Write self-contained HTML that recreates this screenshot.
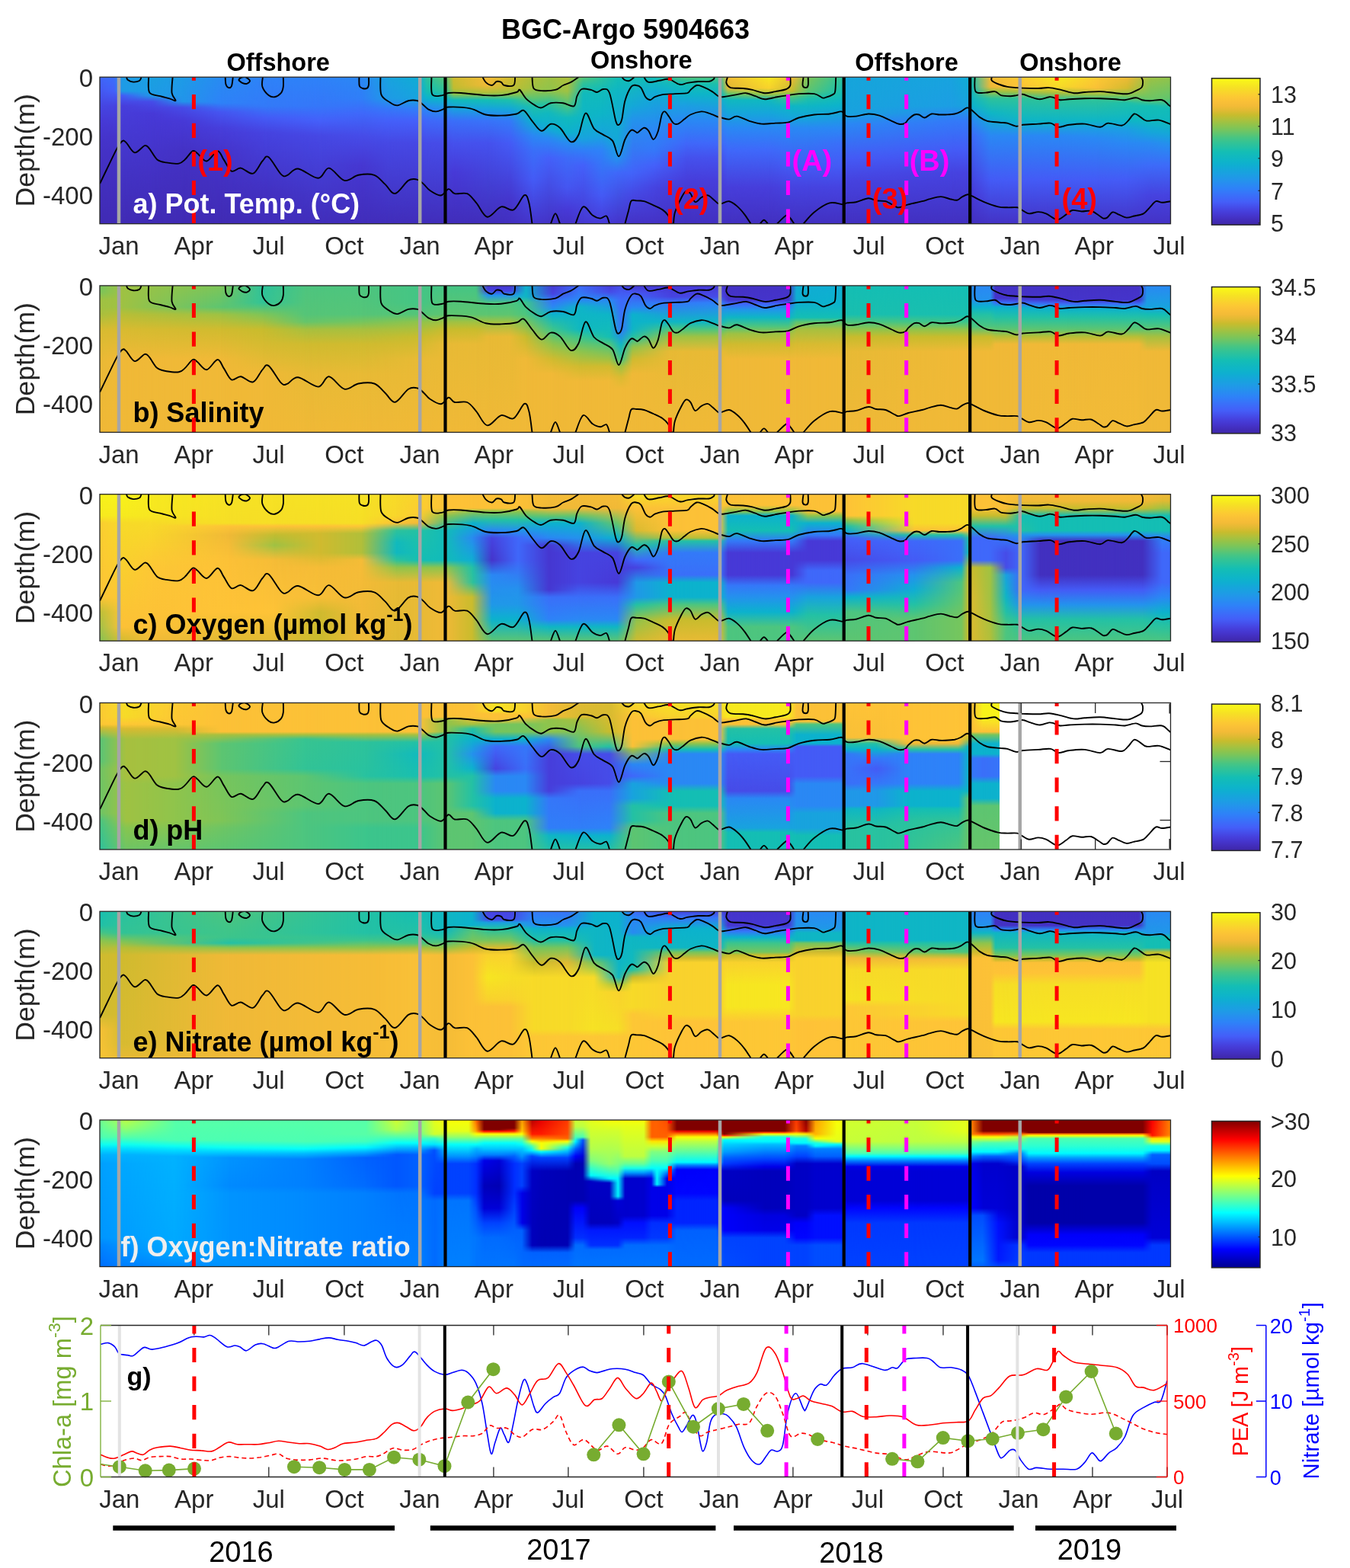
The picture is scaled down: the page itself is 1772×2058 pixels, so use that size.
<!DOCTYPE html><html><head><meta charset="utf-8"><style>html,body{margin:0;padding:0;background:#fff;}svg{display:block;}text{font-family:"Liberation Sans",Arial,sans-serif;}</style></head><body>
<svg width="1772" height="2058" viewBox="0 0 1772 2058">
<rect width="1772" height="2058" fill="#fff"/>
<defs><linearGradient id="rampg"><stop offset="0" stop-color="#fff" stop-opacity="0"/><stop offset="1" stop-color="#fff" stop-opacity="1"/></linearGradient><mask id="ramp" maskContentUnits="objectBoundingBox"><rect width="1" height="1" fill="url(#rampg)"/></mask><clipPath id="cp0"><rect x="131.0" y="101.2" width="1405.5" height="192.5"/></clipPath><linearGradient id="g0_0" x1="0" y1="0" x2="0" y2="1"><stop offset="0.000" stop-color="#4264fa"/><stop offset="0.300" stop-color="#4739d7"/><stop offset="0.500" stop-color="#4432c5"/><stop offset="1.000" stop-color="#402bb4"/></linearGradient><linearGradient id="g0_1" x1="0" y1="0" x2="0" y2="1"><stop offset="0.000" stop-color="#3a6ff9"/><stop offset="0.100" stop-color="#4460fa"/><stop offset="0.200" stop-color="#4643e0"/><stop offset="0.400" stop-color="#4534cb"/><stop offset="1.000" stop-color="#402bb4"/></linearGradient><linearGradient id="g0_2" x1="0" y1="0" x2="0" y2="1"><stop offset="0.000" stop-color="#1e9be6"/><stop offset="0.100" stop-color="#1e9be6"/><stop offset="0.130" stop-color="#445bf6"/><stop offset="0.200" stop-color="#473edb"/><stop offset="1.000" stop-color="#402bb4"/></linearGradient><linearGradient id="g0_3" x1="0" y1="0" x2="0" y2="1"><stop offset="0.000" stop-color="#1aa0e0"/><stop offset="0.130" stop-color="#1e9be6"/><stop offset="0.170" stop-color="#464ce8"/><stop offset="0.250" stop-color="#4739d7"/><stop offset="1.000" stop-color="#402bb4"/></linearGradient><linearGradient id="g0_4" x1="0" y1="0" x2="0" y2="1"><stop offset="0.000" stop-color="#1e9be6"/><stop offset="0.170" stop-color="#2295ea"/><stop offset="0.210" stop-color="#464ce8"/><stop offset="0.300" stop-color="#4739d7"/><stop offset="0.500" stop-color="#4432c5"/><stop offset="1.000" stop-color="#402bb4"/></linearGradient><linearGradient id="g0_5" x1="0" y1="0" x2="0" y2="1"><stop offset="0.000" stop-color="#288bf1"/><stop offset="0.180" stop-color="#2e82f8"/><stop offset="0.240" stop-color="#4556f1"/><stop offset="0.350" stop-color="#473edb"/><stop offset="0.500" stop-color="#4534cb"/><stop offset="1.000" stop-color="#402bb4"/></linearGradient><linearGradient id="g0_6" x1="0" y1="0" x2="0" y2="1"><stop offset="0.000" stop-color="#2e82f8"/><stop offset="0.200" stop-color="#337af8"/><stop offset="0.280" stop-color="#445bf6"/><stop offset="0.380" stop-color="#4643e0"/><stop offset="0.800" stop-color="#4230c0"/><stop offset="1.000" stop-color="#412dba"/></linearGradient><linearGradient id="g0_7" x1="0" y1="0" x2="0" y2="1"><stop offset="0.000" stop-color="#2e82f8"/><stop offset="0.200" stop-color="#3577f9"/><stop offset="0.300" stop-color="#4460fa"/><stop offset="0.400" stop-color="#4648e4"/><stop offset="1.000" stop-color="#412dba"/></linearGradient><linearGradient id="g0_8" x1="0" y1="0" x2="0" y2="1"><stop offset="0.000" stop-color="#2a88f4"/><stop offset="0.150" stop-color="#307ef8"/><stop offset="0.250" stop-color="#3f68fa"/><stop offset="0.400" stop-color="#464ce8"/><stop offset="0.600" stop-color="#4637d1"/><stop offset="1.000" stop-color="#412dba"/></linearGradient><linearGradient id="g0_9" x1="0" y1="0" x2="0" y2="1"><stop offset="0.000" stop-color="#18a3de"/><stop offset="0.150" stop-color="#1e9be6"/><stop offset="0.220" stop-color="#3577f9"/><stop offset="0.300" stop-color="#4460fa"/><stop offset="0.450" stop-color="#4648e4"/><stop offset="1.000" stop-color="#412dba"/></linearGradient><linearGradient id="g0_10" x1="0" y1="0" x2="0" y2="1"><stop offset="0.000" stop-color="#10add3"/><stop offset="0.150" stop-color="#18a3de"/><stop offset="0.220" stop-color="#307ef8"/><stop offset="0.300" stop-color="#4460fa"/><stop offset="0.450" stop-color="#4648e4"/><stop offset="1.000" stop-color="#412dba"/></linearGradient><linearGradient id="g0_11" x1="0" y1="0" x2="0" y2="1"><stop offset="0.000" stop-color="#2dc29b"/><stop offset="0.100" stop-color="#14beb4"/><stop offset="0.150" stop-color="#0cb2cd"/><stop offset="0.220" stop-color="#2a88f4"/><stop offset="0.300" stop-color="#3f68fa"/><stop offset="0.450" stop-color="#464ce8"/><stop offset="1.000" stop-color="#412dba"/></linearGradient><linearGradient id="g0_12" x1="0" y1="0" x2="0" y2="1"><stop offset="0.000" stop-color="#5dc571"/><stop offset="0.100" stop-color="#2dc29b"/><stop offset="0.150" stop-color="#0eb5c7"/><stop offset="0.220" stop-color="#2492ed"/><stop offset="0.300" stop-color="#3d6bf9"/><stop offset="0.450" stop-color="#464ce8"/><stop offset="1.000" stop-color="#412dba"/></linearGradient><linearGradient id="g0_13" x1="0" y1="0" x2="0" y2="1"><stop offset="0.000" stop-color="#d0bb2f"/><stop offset="0.080" stop-color="#c0bd31"/><stop offset="0.120" stop-color="#8fc44c"/><stop offset="0.160" stop-color="#11babd"/><stop offset="0.220" stop-color="#1aa0e0"/><stop offset="0.300" stop-color="#3a6ff9"/><stop offset="0.450" stop-color="#4551ed"/><stop offset="0.650" stop-color="#4739d7"/><stop offset="1.000" stop-color="#412dba"/></linearGradient><linearGradient id="g0_14" x1="0" y1="0" x2="0" y2="1"><stop offset="0.000" stop-color="#f5bc37"/><stop offset="0.060" stop-color="#f0b937"/><stop offset="0.110" stop-color="#b0bf3a"/><stop offset="0.160" stop-color="#14beb4"/><stop offset="0.220" stop-color="#18a3de"/><stop offset="0.300" stop-color="#3873f9"/><stop offset="0.450" stop-color="#4551ed"/><stop offset="1.000" stop-color="#412dba"/></linearGradient><linearGradient id="g0_15" x1="0" y1="0" x2="0" y2="1"><stop offset="0.000" stop-color="#d0bb2f"/><stop offset="0.080" stop-color="#c0bd31"/><stop offset="0.120" stop-color="#8fc44c"/><stop offset="0.160" stop-color="#1ec0aa"/><stop offset="0.220" stop-color="#14a8d8"/><stop offset="0.300" stop-color="#337af8"/><stop offset="0.450" stop-color="#445bf6"/><stop offset="0.850" stop-color="#4534cb"/><stop offset="1.000" stop-color="#4230c0"/></linearGradient><linearGradient id="g0_16" x1="0" y1="0" x2="0" y2="1"><stop offset="0.000" stop-color="#b0bf3a"/><stop offset="0.080" stop-color="#9fc243"/><stop offset="0.150" stop-color="#5dc571"/><stop offset="0.200" stop-color="#1ec0aa"/><stop offset="0.300" stop-color="#0cb2cd"/><stop offset="0.400" stop-color="#2a88f4"/><stop offset="0.500" stop-color="#3a6ff9"/><stop offset="0.700" stop-color="#445bf6"/><stop offset="1.000" stop-color="#4534cb"/></linearGradient><linearGradient id="g0_17" x1="0" y1="0" x2="0" y2="1"><stop offset="0.000" stop-color="#9fc243"/><stop offset="0.100" stop-color="#8fc44c"/><stop offset="0.180" stop-color="#2dc29b"/><stop offset="0.250" stop-color="#10b8c0"/><stop offset="0.350" stop-color="#10add3"/><stop offset="0.420" stop-color="#2a88f4"/><stop offset="0.550" stop-color="#4460fa"/><stop offset="1.000" stop-color="#4432c5"/></linearGradient><linearGradient id="g0_18" x1="0" y1="0" x2="0" y2="1"><stop offset="0.000" stop-color="#b0bf3a"/><stop offset="0.100" stop-color="#9fc243"/><stop offset="0.200" stop-color="#4dc57f"/><stop offset="0.280" stop-color="#11babd"/><stop offset="0.380" stop-color="#0cb2cd"/><stop offset="0.450" stop-color="#288bf1"/><stop offset="0.550" stop-color="#3d6bf9"/><stop offset="0.750" stop-color="#4556f1"/><stop offset="0.900" stop-color="#4739d7"/><stop offset="1.000" stop-color="#4432c5"/></linearGradient><linearGradient id="g0_19" x1="0" y1="0" x2="0" y2="1"><stop offset="0.000" stop-color="#5dc571"/><stop offset="0.050" stop-color="#2dc29b"/><stop offset="0.120" stop-color="#11babd"/><stop offset="0.300" stop-color="#0eb5c7"/><stop offset="0.420" stop-color="#18a3de"/><stop offset="0.500" stop-color="#307ef8"/><stop offset="0.600" stop-color="#4460fa"/><stop offset="1.000" stop-color="#4637d1"/></linearGradient><linearGradient id="g0_20" x1="0" y1="0" x2="0" y2="1"><stop offset="0.000" stop-color="#2dc29b"/><stop offset="0.100" stop-color="#12bbba"/><stop offset="0.250" stop-color="#0eb5c7"/><stop offset="0.400" stop-color="#18a3de"/><stop offset="0.500" stop-color="#2e82f8"/><stop offset="0.800" stop-color="#445bf6"/><stop offset="1.000" stop-color="#4739d7"/></linearGradient><linearGradient id="g0_21" x1="0" y1="0" x2="0" y2="1"><stop offset="0.000" stop-color="#14beb4"/><stop offset="0.100" stop-color="#0fb6c4"/><stop offset="0.450" stop-color="#14a8d8"/><stop offset="0.550" stop-color="#2492ed"/><stop offset="0.650" stop-color="#3f68fa"/><stop offset="1.000" stop-color="#4534cb"/></linearGradient><linearGradient id="g0_22" x1="0" y1="0" x2="0" y2="1"><stop offset="0.000" stop-color="#14beb4"/><stop offset="0.200" stop-color="#14a8d8"/><stop offset="0.300" stop-color="#2492ed"/><stop offset="0.650" stop-color="#4264fa"/><stop offset="0.800" stop-color="#4648e4"/><stop offset="1.000" stop-color="#4432c5"/></linearGradient><linearGradient id="g0_23" x1="0" y1="0" x2="0" y2="1"><stop offset="0.000" stop-color="#14beb4"/><stop offset="0.100" stop-color="#10add3"/><stop offset="0.350" stop-color="#2a88f4"/><stop offset="0.500" stop-color="#3577f9"/><stop offset="0.600" stop-color="#4460fa"/><stop offset="0.750" stop-color="#4643e0"/><stop offset="1.000" stop-color="#4432c5"/></linearGradient><linearGradient id="g0_24" x1="0" y1="0" x2="0" y2="1"><stop offset="0.000" stop-color="#5dc571"/><stop offset="0.050" stop-color="#14beb4"/><stop offset="0.120" stop-color="#0db4ca"/><stop offset="0.200" stop-color="#1c9ee3"/><stop offset="0.300" stop-color="#2a88f4"/><stop offset="0.450" stop-color="#3f68fa"/><stop offset="0.550" stop-color="#4551ed"/><stop offset="0.700" stop-color="#473edb"/><stop offset="1.000" stop-color="#4230c0"/></linearGradient><linearGradient id="g0_25" x1="0" y1="0" x2="0" y2="1"><stop offset="0.000" stop-color="#4dc57f"/><stop offset="0.050" stop-color="#1ec0aa"/><stop offset="0.120" stop-color="#0eb5c7"/><stop offset="0.300" stop-color="#2a88f4"/><stop offset="0.450" stop-color="#3f68fa"/><stop offset="0.550" stop-color="#4551ed"/><stop offset="0.700" stop-color="#473edb"/><stop offset="1.000" stop-color="#4230c0"/></linearGradient><linearGradient id="g0_26" x1="0" y1="0" x2="0" y2="1"><stop offset="0.000" stop-color="#f5bc37"/><stop offset="0.080" stop-color="#e0ba33"/><stop offset="0.120" stop-color="#5dc571"/><stop offset="0.160" stop-color="#10b8c0"/><stop offset="0.250" stop-color="#16a5db"/><stop offset="0.350" stop-color="#2a88f4"/><stop offset="0.500" stop-color="#3f68fa"/><stop offset="0.750" stop-color="#473edb"/><stop offset="1.000" stop-color="#4230c0"/></linearGradient><linearGradient id="g0_27" x1="0" y1="0" x2="0" y2="1"><stop offset="0.000" stop-color="#f7ea1f"/><stop offset="0.080" stop-color="#f9d22d"/><stop offset="0.120" stop-color="#9fc243"/><stop offset="0.160" stop-color="#10b8c0"/><stop offset="0.250" stop-color="#16a5db"/><stop offset="0.350" stop-color="#2a88f4"/><stop offset="0.500" stop-color="#3f68fa"/><stop offset="0.750" stop-color="#473edb"/><stop offset="1.000" stop-color="#4230c0"/></linearGradient><linearGradient id="g0_28" x1="0" y1="0" x2="0" y2="1"><stop offset="0.000" stop-color="#f0b937"/><stop offset="0.100" stop-color="#c0bd31"/><stop offset="0.140" stop-color="#4dc57f"/><stop offset="0.200" stop-color="#0fb6c4"/><stop offset="0.280" stop-color="#16a5db"/><stop offset="0.350" stop-color="#2a88f4"/><stop offset="0.600" stop-color="#445bf6"/><stop offset="0.750" stop-color="#4643e0"/><stop offset="1.000" stop-color="#4230c0"/></linearGradient><linearGradient id="g0_29" x1="0" y1="0" x2="0" y2="1"><stop offset="0.000" stop-color="#7fc557"/><stop offset="0.100" stop-color="#5dc571"/><stop offset="0.150" stop-color="#1ec0aa"/><stop offset="0.200" stop-color="#0fb6c4"/><stop offset="0.280" stop-color="#16a5db"/><stop offset="0.350" stop-color="#2a88f4"/><stop offset="0.600" stop-color="#445bf6"/><stop offset="0.750" stop-color="#4643e0"/><stop offset="1.000" stop-color="#4230c0"/></linearGradient><linearGradient id="g0_30" x1="0" y1="0" x2="0" y2="1"><stop offset="0.000" stop-color="#32c396"/><stop offset="0.120" stop-color="#14beb4"/><stop offset="0.200" stop-color="#0cb2cd"/><stop offset="0.350" stop-color="#2a88f4"/><stop offset="0.450" stop-color="#3a6ff9"/><stop offset="0.600" stop-color="#445bf6"/><stop offset="0.750" stop-color="#4643e0"/><stop offset="1.000" stop-color="#4230c0"/></linearGradient><linearGradient id="g0_31" x1="0" y1="0" x2="0" y2="1"><stop offset="0.000" stop-color="#16a5db"/><stop offset="0.250" stop-color="#18a3de"/><stop offset="0.320" stop-color="#2a88f4"/><stop offset="0.550" stop-color="#445bf6"/><stop offset="0.700" stop-color="#4643e0"/><stop offset="1.000" stop-color="#4230c0"/></linearGradient><linearGradient id="g0_32" x1="0" y1="0" x2="0" y2="1"><stop offset="0.000" stop-color="#18a3de"/><stop offset="0.200" stop-color="#1c9ee3"/><stop offset="0.300" stop-color="#337af8"/><stop offset="0.500" stop-color="#445bf6"/><stop offset="0.650" stop-color="#4643e0"/><stop offset="1.000" stop-color="#4230c0"/></linearGradient><linearGradient id="g0_33" x1="0" y1="0" x2="0" y2="1"><stop offset="0.000" stop-color="#10add3"/><stop offset="0.200" stop-color="#18a3de"/><stop offset="0.300" stop-color="#337af8"/><stop offset="0.500" stop-color="#445bf6"/><stop offset="0.650" stop-color="#4643e0"/><stop offset="1.000" stop-color="#4230c0"/></linearGradient><linearGradient id="g0_34" x1="0" y1="0" x2="0" y2="1"><stop offset="0.000" stop-color="#23c1a5"/><stop offset="0.200" stop-color="#0cb2cd"/><stop offset="0.300" stop-color="#2a88f4"/><stop offset="0.400" stop-color="#3d6bf9"/><stop offset="0.800" stop-color="#4739d7"/><stop offset="1.000" stop-color="#4230c0"/></linearGradient><linearGradient id="g0_35" x1="0" y1="0" x2="0" y2="1"><stop offset="0.000" stop-color="#f5bc37"/><stop offset="0.070" stop-color="#f0b937"/><stop offset="0.100" stop-color="#9fc243"/><stop offset="0.150" stop-color="#2dc29b"/><stop offset="0.250" stop-color="#0eb5c7"/><stop offset="0.400" stop-color="#2a88f4"/><stop offset="0.700" stop-color="#445bf6"/><stop offset="1.000" stop-color="#4432c5"/></linearGradient><linearGradient id="g0_36" x1="0" y1="0" x2="0" y2="1"><stop offset="0.000" stop-color="#fccb32"/><stop offset="0.070" stop-color="#fec337"/><stop offset="0.100" stop-color="#b0bf3a"/><stop offset="0.150" stop-color="#2dc29b"/><stop offset="0.300" stop-color="#0eb5c7"/><stop offset="0.400" stop-color="#2a88f4"/><stop offset="0.700" stop-color="#445bf6"/><stop offset="1.000" stop-color="#4432c5"/></linearGradient><linearGradient id="g0_37" x1="0" y1="0" x2="0" y2="1"><stop offset="0.000" stop-color="#f7ea1f"/><stop offset="0.070" stop-color="#f7da28"/><stop offset="0.110" stop-color="#b0bf3a"/><stop offset="0.160" stop-color="#2dc29b"/><stop offset="0.300" stop-color="#0eb5c7"/><stop offset="0.400" stop-color="#2a88f4"/><stop offset="0.700" stop-color="#445bf6"/><stop offset="1.000" stop-color="#4432c5"/></linearGradient><linearGradient id="g0_38" x1="0" y1="0" x2="0" y2="1"><stop offset="0.000" stop-color="#fccb32"/><stop offset="0.080" stop-color="#f9c037"/><stop offset="0.120" stop-color="#9fc243"/><stop offset="0.160" stop-color="#2dc29b"/><stop offset="0.300" stop-color="#0eb5c7"/><stop offset="0.350" stop-color="#1c9ee3"/><stop offset="0.420" stop-color="#2a88f4"/><stop offset="0.700" stop-color="#445bf6"/><stop offset="1.000" stop-color="#4432c5"/></linearGradient><linearGradient id="g0_39" x1="0" y1="0" x2="0" y2="1"><stop offset="0.000" stop-color="#f0b937"/><stop offset="0.080" stop-color="#d0bb2f"/><stop offset="0.130" stop-color="#7fc557"/><stop offset="0.180" stop-color="#1ec0aa"/><stop offset="0.300" stop-color="#0eb5c7"/><stop offset="0.360" stop-color="#1c9ee3"/><stop offset="0.450" stop-color="#2a88f4"/><stop offset="0.700" stop-color="#445bf6"/><stop offset="1.000" stop-color="#4432c5"/></linearGradient><linearGradient id="g0_40" x1="0" y1="0" x2="0" y2="1"><stop offset="0.000" stop-color="#9fc243"/><stop offset="0.150" stop-color="#6ec564"/><stop offset="0.200" stop-color="#14beb4"/><stop offset="0.300" stop-color="#10b8c0"/><stop offset="0.380" stop-color="#16a5db"/><stop offset="0.450" stop-color="#288bf1"/><stop offset="0.600" stop-color="#3d6bf9"/><stop offset="0.800" stop-color="#4643e0"/><stop offset="1.000" stop-color="#4432c5"/></linearGradient><linearGradient id="g0_41" x1="0" y1="0" x2="0" y2="1"><stop offset="0.000" stop-color="#8fc44c"/><stop offset="0.150" stop-color="#5dc571"/><stop offset="0.220" stop-color="#12bbba"/><stop offset="0.320" stop-color="#10b8c0"/><stop offset="0.400" stop-color="#16a5db"/><stop offset="0.480" stop-color="#288bf1"/><stop offset="0.600" stop-color="#3d6bf9"/><stop offset="0.800" stop-color="#4643e0"/><stop offset="1.000" stop-color="#4432c5"/></linearGradient><clipPath id="cp1"><rect x="131.0" y="374.9" width="1405.5" height="192.5"/></clipPath><linearGradient id="g1_0" x1="0" y1="0" x2="0" y2="1"><stop offset="0.000" stop-color="#6ec564"/><stop offset="0.050" stop-color="#76c55d"/><stop offset="0.100" stop-color="#9fc243"/><stop offset="0.200" stop-color="#a7c03f"/><stop offset="0.300" stop-color="#d8bb31"/><stop offset="0.500" stop-color="#e8ba35"/><stop offset="1.000" stop-color="#f0b937"/></linearGradient><linearGradient id="g1_1" x1="0" y1="0" x2="0" y2="1"><stop offset="0.000" stop-color="#9fc243"/><stop offset="0.150" stop-color="#9fc243"/><stop offset="0.200" stop-color="#b8be36"/><stop offset="0.300" stop-color="#d8bb31"/><stop offset="0.500" stop-color="#f0b937"/><stop offset="1.000" stop-color="#f0b937"/></linearGradient><linearGradient id="g1_2" x1="0" y1="0" x2="0" y2="1"><stop offset="0.000" stop-color="#7fc557"/><stop offset="0.150" stop-color="#5dc571"/><stop offset="0.200" stop-color="#9fc243"/><stop offset="0.300" stop-color="#d0bb2f"/><stop offset="0.500" stop-color="#f0b937"/><stop offset="1.000" stop-color="#f0b937"/></linearGradient><linearGradient id="g1_3" x1="0" y1="0" x2="0" y2="1"><stop offset="0.000" stop-color="#2dc29b"/><stop offset="0.120" stop-color="#32c396"/><stop offset="0.200" stop-color="#7fc557"/><stop offset="0.300" stop-color="#c8bc2d"/><stop offset="0.600" stop-color="#f0b937"/><stop offset="1.000" stop-color="#f0b937"/></linearGradient><linearGradient id="g1_4" x1="0" y1="0" x2="0" y2="1"><stop offset="0.000" stop-color="#4dc57f"/><stop offset="0.200" stop-color="#55c578"/><stop offset="0.250" stop-color="#66c56b"/><stop offset="0.300" stop-color="#a7c03f"/><stop offset="0.400" stop-color="#d0bb2f"/><stop offset="0.600" stop-color="#e8ba35"/><stop offset="1.000" stop-color="#f0b937"/></linearGradient><linearGradient id="g1_5" x1="0" y1="0" x2="0" y2="1"><stop offset="0.000" stop-color="#4dc57f"/><stop offset="0.200" stop-color="#55c578"/><stop offset="0.250" stop-color="#76c55d"/><stop offset="0.300" stop-color="#a7c03f"/><stop offset="0.400" stop-color="#d0bb2f"/><stop offset="0.600" stop-color="#e8ba35"/><stop offset="1.000" stop-color="#f0b937"/></linearGradient><linearGradient id="g1_6" x1="0" y1="0" x2="0" y2="1"><stop offset="0.000" stop-color="#44c585"/><stop offset="0.120" stop-color="#44c585"/><stop offset="0.200" stop-color="#55c578"/><stop offset="0.250" stop-color="#8fc44c"/><stop offset="0.350" stop-color="#c8bc2d"/><stop offset="0.500" stop-color="#e8ba35"/><stop offset="1.000" stop-color="#f0b937"/></linearGradient><linearGradient id="g1_7" x1="0" y1="0" x2="0" y2="1"><stop offset="0.000" stop-color="#44c585"/><stop offset="0.200" stop-color="#5dc571"/><stop offset="0.250" stop-color="#9fc243"/><stop offset="0.300" stop-color="#c8bc2d"/><stop offset="0.400" stop-color="#e8ba35"/><stop offset="1.000" stop-color="#f0b937"/></linearGradient><linearGradient id="g1_8" x1="0" y1="0" x2="0" y2="1"><stop offset="0.000" stop-color="#44c585"/><stop offset="0.200" stop-color="#5dc571"/><stop offset="0.250" stop-color="#9fc243"/><stop offset="0.300" stop-color="#c8bc2d"/><stop offset="0.400" stop-color="#e8ba35"/><stop offset="1.000" stop-color="#f0b937"/></linearGradient><linearGradient id="g1_9" x1="0" y1="0" x2="0" y2="1"><stop offset="0.000" stop-color="#4534cb"/><stop offset="0.040" stop-color="#4643e0"/><stop offset="0.070" stop-color="#2492ed"/><stop offset="0.120" stop-color="#4dc57f"/><stop offset="0.200" stop-color="#5dc571"/><stop offset="0.250" stop-color="#9fc243"/><stop offset="0.350" stop-color="#e8ba35"/><stop offset="1.000" stop-color="#f0b937"/></linearGradient><linearGradient id="g1_10" x1="0" y1="0" x2="0" y2="1"><stop offset="0.000" stop-color="#4534cb"/><stop offset="0.040" stop-color="#4643e0"/><stop offset="0.070" stop-color="#2492ed"/><stop offset="0.120" stop-color="#4dc57f"/><stop offset="0.200" stop-color="#5dc571"/><stop offset="0.250" stop-color="#9fc243"/><stop offset="0.350" stop-color="#e8ba35"/><stop offset="1.000" stop-color="#f0b937"/></linearGradient><linearGradient id="g1_11" x1="0" y1="0" x2="0" y2="1"><stop offset="0.000" stop-color="#0cb2cd"/><stop offset="0.080" stop-color="#0fb6c4"/><stop offset="0.120" stop-color="#3cc58c"/><stop offset="0.200" stop-color="#4dc57f"/><stop offset="0.250" stop-color="#76c55d"/><stop offset="0.350" stop-color="#c8bc2d"/><stop offset="0.500" stop-color="#f0b937"/><stop offset="1.000" stop-color="#f0b937"/></linearGradient><linearGradient id="g1_12" x1="0" y1="0" x2="0" y2="1"><stop offset="0.000" stop-color="#4637d1"/><stop offset="0.060" stop-color="#4643e0"/><stop offset="0.100" stop-color="#3a6ff9"/><stop offset="0.150" stop-color="#2a88f4"/><stop offset="0.200" stop-color="#0cb2cd"/><stop offset="0.300" stop-color="#3cc58c"/><stop offset="0.400" stop-color="#8fc44c"/><stop offset="0.500" stop-color="#d0bb2f"/><stop offset="0.600" stop-color="#f0b937"/><stop offset="1.000" stop-color="#f0b937"/></linearGradient><linearGradient id="g1_13" x1="0" y1="0" x2="0" y2="1"><stop offset="0.000" stop-color="#3f68fa"/><stop offset="0.100" stop-color="#2a88f4"/><stop offset="0.150" stop-color="#0eb5c7"/><stop offset="0.300" stop-color="#10b8c0"/><stop offset="0.350" stop-color="#3cc58c"/><stop offset="0.450" stop-color="#8fc44c"/><stop offset="0.550" stop-color="#d0bb2f"/><stop offset="0.650" stop-color="#f0b937"/><stop offset="1.000" stop-color="#f0b937"/></linearGradient><linearGradient id="g1_14" x1="0" y1="0" x2="0" y2="1"><stop offset="0.000" stop-color="#4739d7"/><stop offset="0.050" stop-color="#464ce8"/><stop offset="0.100" stop-color="#2a88f4"/><stop offset="0.200" stop-color="#0eb5c7"/><stop offset="0.350" stop-color="#14beb4"/><stop offset="0.400" stop-color="#4dc57f"/><stop offset="0.500" stop-color="#9fc243"/><stop offset="0.550" stop-color="#d0bb2f"/><stop offset="0.650" stop-color="#f0b937"/><stop offset="1.000" stop-color="#f0b937"/></linearGradient><linearGradient id="g1_15" x1="0" y1="0" x2="0" y2="1"><stop offset="0.000" stop-color="#464ce8"/><stop offset="0.100" stop-color="#3f68fa"/><stop offset="0.300" stop-color="#3577f9"/><stop offset="0.400" stop-color="#0eb5c7"/><stop offset="0.500" stop-color="#3cc58c"/><stop offset="0.550" stop-color="#9fc243"/><stop offset="0.620" stop-color="#d8bb31"/><stop offset="0.700" stop-color="#f0b937"/><stop offset="1.000" stop-color="#f0b937"/></linearGradient><linearGradient id="g1_16" x1="0" y1="0" x2="0" y2="1"><stop offset="0.000" stop-color="#4534cb"/><stop offset="0.060" stop-color="#445bf6"/><stop offset="0.150" stop-color="#2a88f4"/><stop offset="0.200" stop-color="#0cb2cd"/><stop offset="0.300" stop-color="#0eb5c7"/><stop offset="0.350" stop-color="#23c1a5"/><stop offset="0.420" stop-color="#8fc44c"/><stop offset="0.500" stop-color="#d0bb2f"/><stop offset="0.600" stop-color="#f0b937"/><stop offset="1.000" stop-color="#f0b937"/></linearGradient><linearGradient id="g1_17" x1="0" y1="0" x2="0" y2="1"><stop offset="0.000" stop-color="#4739d7"/><stop offset="0.080" stop-color="#4643e0"/><stop offset="0.120" stop-color="#3577f9"/><stop offset="0.250" stop-color="#0fb6c4"/><stop offset="0.300" stop-color="#4dc57f"/><stop offset="0.350" stop-color="#9fc243"/><stop offset="0.450" stop-color="#e8ba35"/><stop offset="1.000" stop-color="#f0b937"/></linearGradient><linearGradient id="g1_18" x1="0" y1="0" x2="0" y2="1"><stop offset="0.000" stop-color="#4739d7"/><stop offset="0.080" stop-color="#464ce8"/><stop offset="0.120" stop-color="#2e82f8"/><stop offset="0.250" stop-color="#0fb6c4"/><stop offset="0.300" stop-color="#4dc57f"/><stop offset="0.350" stop-color="#9fc243"/><stop offset="0.450" stop-color="#e8ba35"/><stop offset="1.000" stop-color="#f0b937"/></linearGradient><linearGradient id="g1_19" x1="0" y1="0" x2="0" y2="1"><stop offset="0.000" stop-color="#4432c5"/><stop offset="0.100" stop-color="#4534cb"/><stop offset="0.130" stop-color="#3f68fa"/><stop offset="0.170" stop-color="#2098e8"/><stop offset="0.220" stop-color="#0fb6c4"/><stop offset="0.280" stop-color="#4dc57f"/><stop offset="0.330" stop-color="#9fc243"/><stop offset="0.400" stop-color="#d0bb2f"/><stop offset="0.500" stop-color="#f0b937"/><stop offset="1.000" stop-color="#f0b937"/></linearGradient><linearGradient id="g1_20" x1="0" y1="0" x2="0" y2="1"><stop offset="0.000" stop-color="#4432c5"/><stop offset="0.100" stop-color="#4534cb"/><stop offset="0.130" stop-color="#3f68fa"/><stop offset="0.170" stop-color="#2098e8"/><stop offset="0.220" stop-color="#0fb6c4"/><stop offset="0.280" stop-color="#4dc57f"/><stop offset="0.330" stop-color="#9fc243"/><stop offset="0.400" stop-color="#d0bb2f"/><stop offset="0.500" stop-color="#f0b937"/><stop offset="1.000" stop-color="#f0b937"/></linearGradient><linearGradient id="g1_21" x1="0" y1="0" x2="0" y2="1"><stop offset="0.000" stop-color="#10add3"/><stop offset="0.120" stop-color="#0eafd0"/><stop offset="0.220" stop-color="#14beb4"/><stop offset="0.250" stop-color="#5dc571"/><stop offset="0.300" stop-color="#a7c03f"/><stop offset="0.400" stop-color="#d8bb31"/><stop offset="0.500" stop-color="#f0b937"/><stop offset="1.000" stop-color="#f0b937"/></linearGradient><linearGradient id="g1_22" x1="0" y1="0" x2="0" y2="1"><stop offset="0.000" stop-color="#10add3"/><stop offset="0.120" stop-color="#0cb2cd"/><stop offset="0.220" stop-color="#14beb4"/><stop offset="0.250" stop-color="#5dc571"/><stop offset="0.300" stop-color="#a7c03f"/><stop offset="0.400" stop-color="#d8bb31"/><stop offset="0.500" stop-color="#f0b937"/><stop offset="1.000" stop-color="#f0b937"/></linearGradient><linearGradient id="g1_23" x1="0" y1="0" x2="0" y2="1"><stop offset="0.000" stop-color="#14beb4"/><stop offset="0.200" stop-color="#19bfaf"/><stop offset="0.250" stop-color="#4dc57f"/><stop offset="0.300" stop-color="#8fc44c"/><stop offset="0.350" stop-color="#c8bc2d"/><stop offset="0.450" stop-color="#e8ba35"/><stop offset="1.000" stop-color="#f0b937"/></linearGradient><linearGradient id="g1_24" x1="0" y1="0" x2="0" y2="1"><stop offset="0.000" stop-color="#14beb4"/><stop offset="0.200" stop-color="#19bfaf"/><stop offset="0.250" stop-color="#3cc58c"/><stop offset="0.300" stop-color="#8fc44c"/><stop offset="0.350" stop-color="#c8bc2d"/><stop offset="0.450" stop-color="#f0b937"/><stop offset="1.000" stop-color="#f0b937"/></linearGradient><linearGradient id="g1_25" x1="0" y1="0" x2="0" y2="1"><stop offset="0.000" stop-color="#2a88f4"/><stop offset="0.100" stop-color="#2492ed"/><stop offset="0.150" stop-color="#0cb2cd"/><stop offset="0.200" stop-color="#23c1a5"/><stop offset="0.280" stop-color="#4dc57f"/><stop offset="0.350" stop-color="#c8bc2d"/><stop offset="0.450" stop-color="#f0b937"/><stop offset="1.000" stop-color="#f0b937"/></linearGradient><linearGradient id="g1_26" x1="0" y1="0" x2="0" y2="1"><stop offset="0.000" stop-color="#2a88f4"/><stop offset="0.100" stop-color="#2492ed"/><stop offset="0.150" stop-color="#0cb2cd"/><stop offset="0.200" stop-color="#23c1a5"/><stop offset="0.280" stop-color="#4dc57f"/><stop offset="0.350" stop-color="#c8bc2d"/><stop offset="0.450" stop-color="#f0b937"/><stop offset="1.000" stop-color="#f0b937"/></linearGradient><linearGradient id="g1_27" x1="0" y1="0" x2="0" y2="1"><stop offset="0.000" stop-color="#4432c5"/><stop offset="0.090" stop-color="#4534cb"/><stop offset="0.120" stop-color="#3a6ff9"/><stop offset="0.150" stop-color="#0cb2cd"/><stop offset="0.220" stop-color="#23c1a5"/><stop offset="0.300" stop-color="#5dc571"/><stop offset="0.350" stop-color="#b8be36"/><stop offset="0.400" stop-color="#f0b937"/><stop offset="1.000" stop-color="#f0b937"/></linearGradient><linearGradient id="g1_28" x1="0" y1="0" x2="0" y2="1"><stop offset="0.000" stop-color="#4432c5"/><stop offset="0.100" stop-color="#4534cb"/><stop offset="0.130" stop-color="#3a6ff9"/><stop offset="0.160" stop-color="#0cb2cd"/><stop offset="0.220" stop-color="#23c1a5"/><stop offset="0.300" stop-color="#5dc571"/><stop offset="0.350" stop-color="#b8be36"/><stop offset="0.400" stop-color="#f0b937"/><stop offset="1.000" stop-color="#f2bb37"/></linearGradient><linearGradient id="g1_29" x1="0" y1="0" x2="0" y2="1"><stop offset="0.000" stop-color="#4432c5"/><stop offset="0.100" stop-color="#4534cb"/><stop offset="0.130" stop-color="#3a6ff9"/><stop offset="0.160" stop-color="#0cb2cd"/><stop offset="0.220" stop-color="#23c1a5"/><stop offset="0.300" stop-color="#5dc571"/><stop offset="0.350" stop-color="#b8be36"/><stop offset="0.400" stop-color="#f0b937"/><stop offset="1.000" stop-color="#f2bb37"/></linearGradient><linearGradient id="g1_30" x1="0" y1="0" x2="0" y2="1"><stop offset="0.000" stop-color="#2a88f4"/><stop offset="0.150" stop-color="#18a3de"/><stop offset="0.200" stop-color="#14beb4"/><stop offset="0.280" stop-color="#4dc57f"/><stop offset="0.350" stop-color="#a7c03f"/><stop offset="0.450" stop-color="#f0b937"/><stop offset="1.000" stop-color="#f0b937"/></linearGradient><linearGradient id="g1_31" x1="0" y1="0" x2="0" y2="1"><stop offset="0.000" stop-color="#2a88f4"/><stop offset="0.150" stop-color="#18a3de"/><stop offset="0.200" stop-color="#14beb4"/><stop offset="0.280" stop-color="#4dc57f"/><stop offset="0.350" stop-color="#a7c03f"/><stop offset="0.450" stop-color="#f0b937"/><stop offset="1.000" stop-color="#f0b937"/></linearGradient><clipPath id="cp2"><rect x="131.0" y="648.7" width="1405.5" height="192.5"/></clipPath><linearGradient id="g2_0" x1="0" y1="0" x2="0" y2="1"><stop offset="0.000" stop-color="#f8f31a"/><stop offset="0.150" stop-color="#f7ea1f"/><stop offset="0.200" stop-color="#fccb32"/><stop offset="0.700" stop-color="#fec337"/><stop offset="0.800" stop-color="#b0bf3a"/><stop offset="1.000" stop-color="#76c55d"/></linearGradient><linearGradient id="g2_1" x1="0" y1="0" x2="0" y2="1"><stop offset="0.000" stop-color="#f8f31a"/><stop offset="0.150" stop-color="#f7ea1f"/><stop offset="0.200" stop-color="#f7da28"/><stop offset="0.900" stop-color="#fcc137"/><stop offset="1.000" stop-color="#d0bb2f"/></linearGradient><linearGradient id="g2_2" x1="0" y1="0" x2="0" y2="1"><stop offset="0.000" stop-color="#f7ea1f"/><stop offset="0.150" stop-color="#f7e621"/><stop offset="0.200" stop-color="#f7da28"/><stop offset="0.500" stop-color="#fdc735"/><stop offset="0.900" stop-color="#fcc137"/><stop offset="1.000" stop-color="#f0b937"/></linearGradient><linearGradient id="g2_3" x1="0" y1="0" x2="0" y2="1"><stop offset="0.000" stop-color="#f6e224"/><stop offset="0.200" stop-color="#f6de26"/><stop offset="0.220" stop-color="#fec337"/><stop offset="0.280" stop-color="#f0b937"/><stop offset="0.450" stop-color="#fcc137"/><stop offset="0.800" stop-color="#fec337"/><stop offset="1.000" stop-color="#e0ba33"/></linearGradient><linearGradient id="g2_4" x1="0" y1="0" x2="0" y2="1"><stop offset="0.000" stop-color="#f6e224"/><stop offset="0.200" stop-color="#f6de26"/><stop offset="0.220" stop-color="#fec337"/><stop offset="0.280" stop-color="#c0bd31"/><stop offset="0.350" stop-color="#9fc243"/><stop offset="0.450" stop-color="#f5bc37"/><stop offset="0.800" stop-color="#fec337"/><stop offset="1.000" stop-color="#e0ba33"/></linearGradient><linearGradient id="g2_5" x1="0" y1="0" x2="0" y2="1"><stop offset="0.000" stop-color="#f6e224"/><stop offset="0.200" stop-color="#f6de26"/><stop offset="0.220" stop-color="#fec337"/><stop offset="0.270" stop-color="#d0bb2f"/><stop offset="0.400" stop-color="#d0bb2f"/><stop offset="0.500" stop-color="#f5bc37"/><stop offset="0.700" stop-color="#f7be37"/><stop offset="0.800" stop-color="#d0bb2f"/><stop offset="1.000" stop-color="#c8bc2d"/></linearGradient><linearGradient id="g2_6" x1="0" y1="0" x2="0" y2="1"><stop offset="0.000" stop-color="#f6e224"/><stop offset="0.200" stop-color="#f6de26"/><stop offset="0.220" stop-color="#fdc735"/><stop offset="0.270" stop-color="#b0bf3a"/><stop offset="0.400" stop-color="#b0bf3a"/><stop offset="0.450" stop-color="#f5bc37"/><stop offset="1.000" stop-color="#f0b937"/></linearGradient><linearGradient id="g2_7" x1="0" y1="0" x2="0" y2="1"><stop offset="0.000" stop-color="#f7da28"/><stop offset="0.150" stop-color="#f8d62b"/><stop offset="0.200" stop-color="#fcc137"/><stop offset="0.250" stop-color="#2dc29b"/><stop offset="0.330" stop-color="#11babd"/><stop offset="0.400" stop-color="#10b8c0"/><stop offset="0.450" stop-color="#2dc29b"/><stop offset="0.500" stop-color="#8fc44c"/><stop offset="0.600" stop-color="#e8ba35"/><stop offset="1.000" stop-color="#e0ba33"/></linearGradient><linearGradient id="g2_8" x1="0" y1="0" x2="0" y2="1"><stop offset="0.000" stop-color="#f9d22d"/><stop offset="0.150" stop-color="#fccb32"/><stop offset="0.200" stop-color="#f0b937"/><stop offset="0.250" stop-color="#23c1a5"/><stop offset="0.450" stop-color="#14beb4"/><stop offset="0.500" stop-color="#8fc44c"/><stop offset="0.600" stop-color="#e8ba35"/><stop offset="1.000" stop-color="#e8ba35"/></linearGradient><linearGradient id="g2_9" x1="0" y1="0" x2="0" y2="1"><stop offset="0.000" stop-color="#fec337"/><stop offset="0.100" stop-color="#fec337"/><stop offset="0.150" stop-color="#8fc44c"/><stop offset="0.250" stop-color="#12bbba"/><stop offset="0.450" stop-color="#12bbba"/><stop offset="0.500" stop-color="#8fc44c"/><stop offset="0.600" stop-color="#f0b937"/><stop offset="1.000" stop-color="#f0b937"/></linearGradient><linearGradient id="g2_10" x1="0" y1="0" x2="0" y2="1"><stop offset="0.000" stop-color="#fcc137"/><stop offset="0.100" stop-color="#fcc137"/><stop offset="0.120" stop-color="#8fc44c"/><stop offset="0.200" stop-color="#0cb2cd"/><stop offset="0.300" stop-color="#288bf1"/><stop offset="0.450" stop-color="#10add3"/><stop offset="0.500" stop-color="#23c1a5"/><stop offset="0.600" stop-color="#2dc29b"/><stop offset="0.700" stop-color="#c8bc2d"/><stop offset="1.000" stop-color="#c8bc2d"/></linearGradient><linearGradient id="g2_11" x1="0" y1="0" x2="0" y2="1"><stop offset="0.000" stop-color="#fcc137"/><stop offset="0.100" stop-color="#fcc137"/><stop offset="0.120" stop-color="#8fc44c"/><stop offset="0.180" stop-color="#23c1a5"/><stop offset="0.250" stop-color="#2a88f4"/><stop offset="0.300" stop-color="#4643e0"/><stop offset="0.450" stop-color="#4534cb"/><stop offset="0.550" stop-color="#2a88f4"/><stop offset="0.750" stop-color="#2098e8"/><stop offset="0.850" stop-color="#0cb2cd"/><stop offset="1.000" stop-color="#5dc571"/></linearGradient><linearGradient id="g2_12" x1="0" y1="0" x2="0" y2="1"><stop offset="0.000" stop-color="#fcc137"/><stop offset="0.100" stop-color="#fcc137"/><stop offset="0.120" stop-color="#8fc44c"/><stop offset="0.180" stop-color="#23c1a5"/><stop offset="0.250" stop-color="#2492ed"/><stop offset="0.300" stop-color="#3f68fa"/><stop offset="0.450" stop-color="#3f68fa"/><stop offset="0.650" stop-color="#2492ed"/><stop offset="0.750" stop-color="#2098e8"/><stop offset="0.850" stop-color="#0cb2cd"/><stop offset="1.000" stop-color="#5dc571"/></linearGradient><linearGradient id="g2_13" x1="0" y1="0" x2="0" y2="1"><stop offset="0.000" stop-color="#f5bc37"/><stop offset="0.100" stop-color="#f0b937"/><stop offset="0.150" stop-color="#66c56b"/><stop offset="0.200" stop-color="#0cb2cd"/><stop offset="0.300" stop-color="#2a88f4"/><stop offset="0.350" stop-color="#4637d1"/><stop offset="0.650" stop-color="#4637d1"/><stop offset="0.700" stop-color="#3a6ff9"/><stop offset="0.850" stop-color="#2e82f8"/><stop offset="0.900" stop-color="#0fb6c4"/><stop offset="1.000" stop-color="#5dc571"/></linearGradient><linearGradient id="g2_14" x1="0" y1="0" x2="0" y2="1"><stop offset="0.000" stop-color="#f5bc37"/><stop offset="0.100" stop-color="#f0b937"/><stop offset="0.150" stop-color="#66c56b"/><stop offset="0.200" stop-color="#0cb2cd"/><stop offset="0.300" stop-color="#2492ed"/><stop offset="0.400" stop-color="#4643e0"/><stop offset="0.600" stop-color="#4643e0"/><stop offset="0.700" stop-color="#3a6ff9"/><stop offset="0.850" stop-color="#2a88f4"/><stop offset="0.900" stop-color="#0fb6c4"/><stop offset="1.000" stop-color="#5dc571"/></linearGradient><linearGradient id="g2_15" x1="0" y1="0" x2="0" y2="1"><stop offset="0.000" stop-color="#f5bc37"/><stop offset="0.100" stop-color="#f0b937"/><stop offset="0.200" stop-color="#66c56b"/><stop offset="0.300" stop-color="#0cb2cd"/><stop offset="0.400" stop-color="#4643e0"/><stop offset="0.600" stop-color="#4739d7"/><stop offset="0.700" stop-color="#3a6ff9"/><stop offset="0.850" stop-color="#2a88f4"/><stop offset="0.900" stop-color="#0fb6c4"/><stop offset="1.000" stop-color="#5dc571"/></linearGradient><linearGradient id="g2_16" x1="0" y1="0" x2="0" y2="1"><stop offset="0.000" stop-color="#f6e224"/><stop offset="0.100" stop-color="#fcc137"/><stop offset="0.250" stop-color="#d8bb31"/><stop offset="0.350" stop-color="#23c1a5"/><stop offset="0.450" stop-color="#3f68fa"/><stop offset="0.500" stop-color="#4643e0"/><stop offset="0.600" stop-color="#2098e8"/><stop offset="0.700" stop-color="#2098e8"/><stop offset="0.750" stop-color="#23c1a5"/><stop offset="0.850" stop-color="#8fc44c"/><stop offset="1.000" stop-color="#d0bb2f"/></linearGradient><linearGradient id="g2_17" x1="0" y1="0" x2="0" y2="1"><stop offset="0.000" stop-color="#f7da28"/><stop offset="0.100" stop-color="#fcc137"/><stop offset="0.250" stop-color="#fcc137"/><stop offset="0.300" stop-color="#b8be36"/><stop offset="0.320" stop-color="#23c1a5"/><stop offset="0.400" stop-color="#337af8"/><stop offset="0.550" stop-color="#3a6ff9"/><stop offset="0.600" stop-color="#0cb2cd"/><stop offset="0.700" stop-color="#0cb2cd"/><stop offset="0.750" stop-color="#4dc57f"/><stop offset="0.850" stop-color="#c8bc2d"/><stop offset="1.000" stop-color="#e8ba35"/></linearGradient><linearGradient id="g2_18" x1="0" y1="0" x2="0" y2="1"><stop offset="0.000" stop-color="#f7da28"/><stop offset="0.100" stop-color="#fcc137"/><stop offset="0.250" stop-color="#fcc137"/><stop offset="0.300" stop-color="#b8be36"/><stop offset="0.320" stop-color="#23c1a5"/><stop offset="0.400" stop-color="#337af8"/><stop offset="0.550" stop-color="#3a6ff9"/><stop offset="0.600" stop-color="#0cb2cd"/><stop offset="0.700" stop-color="#0cb2cd"/><stop offset="0.750" stop-color="#4dc57f"/><stop offset="0.850" stop-color="#c8bc2d"/><stop offset="1.000" stop-color="#e8ba35"/></linearGradient><linearGradient id="g2_19" x1="0" y1="0" x2="0" y2="1"><stop offset="0.000" stop-color="#fcc137"/><stop offset="0.080" stop-color="#fcc137"/><stop offset="0.120" stop-color="#8fc44c"/><stop offset="0.150" stop-color="#0cb2cd"/><stop offset="0.250" stop-color="#14beb4"/><stop offset="0.320" stop-color="#337af8"/><stop offset="0.400" stop-color="#4739d7"/><stop offset="0.550" stop-color="#4739d7"/><stop offset="0.620" stop-color="#3577f9"/><stop offset="0.700" stop-color="#2492ed"/><stop offset="0.800" stop-color="#0cb2cd"/><stop offset="0.900" stop-color="#4dc57f"/><stop offset="1.000" stop-color="#4dc57f"/></linearGradient><linearGradient id="g2_20" x1="0" y1="0" x2="0" y2="1"><stop offset="0.000" stop-color="#fcc137"/><stop offset="0.080" stop-color="#fcc137"/><stop offset="0.120" stop-color="#8fc44c"/><stop offset="0.150" stop-color="#0cb2cd"/><stop offset="0.250" stop-color="#14beb4"/><stop offset="0.320" stop-color="#337af8"/><stop offset="0.400" stop-color="#4739d7"/><stop offset="0.550" stop-color="#4739d7"/><stop offset="0.620" stop-color="#3577f9"/><stop offset="0.700" stop-color="#2492ed"/><stop offset="0.800" stop-color="#0cb2cd"/><stop offset="0.900" stop-color="#4dc57f"/><stop offset="1.000" stop-color="#4dc57f"/></linearGradient><linearGradient id="g2_21" x1="0" y1="0" x2="0" y2="1"><stop offset="0.000" stop-color="#fcc137"/><stop offset="0.120" stop-color="#fcc137"/><stop offset="0.150" stop-color="#8fc44c"/><stop offset="0.200" stop-color="#0cb2cd"/><stop offset="0.280" stop-color="#337af8"/><stop offset="0.320" stop-color="#4739d7"/><stop offset="0.450" stop-color="#4739d7"/><stop offset="0.520" stop-color="#3f68fa"/><stop offset="0.600" stop-color="#3f68fa"/><stop offset="0.700" stop-color="#18a3de"/><stop offset="0.820" stop-color="#23c1a5"/><stop offset="1.000" stop-color="#5dc571"/></linearGradient><linearGradient id="g2_22" x1="0" y1="0" x2="0" y2="1"><stop offset="0.000" stop-color="#fcc137"/><stop offset="0.120" stop-color="#fcc137"/><stop offset="0.150" stop-color="#8fc44c"/><stop offset="0.200" stop-color="#0cb2cd"/><stop offset="0.280" stop-color="#337af8"/><stop offset="0.320" stop-color="#4739d7"/><stop offset="0.450" stop-color="#4739d7"/><stop offset="0.520" stop-color="#3f68fa"/><stop offset="0.600" stop-color="#3f68fa"/><stop offset="0.700" stop-color="#18a3de"/><stop offset="0.820" stop-color="#23c1a5"/><stop offset="1.000" stop-color="#5dc571"/></linearGradient><linearGradient id="g2_23" x1="0" y1="0" x2="0" y2="1"><stop offset="0.000" stop-color="#fec337"/><stop offset="0.150" stop-color="#fec337"/><stop offset="0.180" stop-color="#8fc44c"/><stop offset="0.220" stop-color="#23c1a5"/><stop offset="0.250" stop-color="#0cb2cd"/><stop offset="0.300" stop-color="#4460fa"/><stop offset="0.450" stop-color="#464ce8"/><stop offset="0.550" stop-color="#3a6ff9"/><stop offset="0.650" stop-color="#3577f9"/><stop offset="0.700" stop-color="#0cb2cd"/><stop offset="0.800" stop-color="#4dc57f"/><stop offset="1.000" stop-color="#5dc571"/></linearGradient><linearGradient id="g2_24" x1="0" y1="0" x2="0" y2="1"><stop offset="0.000" stop-color="#f7da28"/><stop offset="0.200" stop-color="#f7da28"/><stop offset="0.250" stop-color="#fcc137"/><stop offset="0.280" stop-color="#23c1a5"/><stop offset="0.320" stop-color="#3f68fa"/><stop offset="0.450" stop-color="#445bf6"/><stop offset="0.550" stop-color="#2492ed"/><stop offset="0.650" stop-color="#10add3"/><stop offset="0.750" stop-color="#23c1a5"/><stop offset="0.850" stop-color="#5dc571"/><stop offset="1.000" stop-color="#5dc571"/></linearGradient><linearGradient id="g2_25" x1="0" y1="0" x2="0" y2="1"><stop offset="0.000" stop-color="#f7da28"/><stop offset="0.200" stop-color="#f7da28"/><stop offset="0.250" stop-color="#fcc137"/><stop offset="0.280" stop-color="#23c1a5"/><stop offset="0.320" stop-color="#3a6ff9"/><stop offset="0.450" stop-color="#3a6ff9"/><stop offset="0.500" stop-color="#0cb2cd"/><stop offset="0.600" stop-color="#4dc57f"/><stop offset="0.850" stop-color="#76c55d"/><stop offset="1.000" stop-color="#76c55d"/></linearGradient><linearGradient id="g2_26" x1="0" y1="0" x2="0" y2="1"><stop offset="0.000" stop-color="#f7da28"/><stop offset="0.200" stop-color="#f7da28"/><stop offset="0.250" stop-color="#fcc137"/><stop offset="0.300" stop-color="#23c1a5"/><stop offset="0.400" stop-color="#14beb4"/><stop offset="0.500" stop-color="#c8bc2d"/><stop offset="1.000" stop-color="#c8bc2d"/></linearGradient><linearGradient id="g2_27" x1="0" y1="0" x2="0" y2="1"><stop offset="0.000" stop-color="#fcc137"/><stop offset="0.100" stop-color="#fcc137"/><stop offset="0.150" stop-color="#c8bc2d"/><stop offset="0.220" stop-color="#23c1a5"/><stop offset="0.300" stop-color="#3f68fa"/><stop offset="0.450" stop-color="#3f68fa"/><stop offset="0.500" stop-color="#c8bc2d"/><stop offset="0.700" stop-color="#d8bb31"/><stop offset="1.000" stop-color="#d8bb31"/></linearGradient><linearGradient id="g2_28" x1="0" y1="0" x2="0" y2="1"><stop offset="0.000" stop-color="#fcc137"/><stop offset="0.100" stop-color="#fcc137"/><stop offset="0.150" stop-color="#c8bc2d"/><stop offset="0.220" stop-color="#23c1a5"/><stop offset="0.300" stop-color="#3f68fa"/><stop offset="0.450" stop-color="#3f68fa"/><stop offset="0.500" stop-color="#9fc243"/><stop offset="0.700" stop-color="#9fc243"/><stop offset="1.000" stop-color="#b0bf3a"/></linearGradient><linearGradient id="g2_29" x1="0" y1="0" x2="0" y2="1"><stop offset="0.000" stop-color="#fcc137"/><stop offset="0.100" stop-color="#f7be37"/><stop offset="0.150" stop-color="#c8bc2d"/><stop offset="0.220" stop-color="#23c1a5"/><stop offset="0.300" stop-color="#337af8"/><stop offset="0.400" stop-color="#464ce8"/><stop offset="0.500" stop-color="#464ce8"/><stop offset="0.550" stop-color="#18a3de"/><stop offset="0.700" stop-color="#0fb6c4"/><stop offset="0.800" stop-color="#23c1a5"/><stop offset="0.900" stop-color="#4dc57f"/><stop offset="1.000" stop-color="#4dc57f"/></linearGradient><linearGradient id="g2_30" x1="0" y1="0" x2="0" y2="1"><stop offset="0.000" stop-color="#f5bc37"/><stop offset="0.050" stop-color="#f0b937"/><stop offset="0.100" stop-color="#c8bc2d"/><stop offset="0.150" stop-color="#14beb4"/><stop offset="0.250" stop-color="#23c1a5"/><stop offset="0.280" stop-color="#2098e8"/><stop offset="0.350" stop-color="#3f68fa"/><stop offset="0.650" stop-color="#3f68fa"/><stop offset="0.750" stop-color="#2492ed"/><stop offset="0.850" stop-color="#23c1a5"/><stop offset="1.000" stop-color="#4dc57f"/></linearGradient><linearGradient id="g2_31" x1="0" y1="0" x2="0" y2="1"><stop offset="0.000" stop-color="#f5bc37"/><stop offset="0.050" stop-color="#f0b937"/><stop offset="0.100" stop-color="#c8bc2d"/><stop offset="0.150" stop-color="#14beb4"/><stop offset="0.250" stop-color="#14beb4"/><stop offset="0.280" stop-color="#2492ed"/><stop offset="0.320" stop-color="#4230c0"/><stop offset="0.550" stop-color="#4230c0"/><stop offset="0.650" stop-color="#445bf6"/><stop offset="0.750" stop-color="#2492ed"/><stop offset="0.850" stop-color="#23c1a5"/><stop offset="1.000" stop-color="#4dc57f"/></linearGradient><linearGradient id="g2_32" x1="0" y1="0" x2="0" y2="1"><stop offset="0.000" stop-color="#f5bc37"/><stop offset="0.050" stop-color="#f0b937"/><stop offset="0.100" stop-color="#c8bc2d"/><stop offset="0.150" stop-color="#14beb4"/><stop offset="0.250" stop-color="#14beb4"/><stop offset="0.280" stop-color="#2492ed"/><stop offset="0.320" stop-color="#4230c0"/><stop offset="0.550" stop-color="#4230c0"/><stop offset="0.650" stop-color="#445bf6"/><stop offset="0.750" stop-color="#2492ed"/><stop offset="0.850" stop-color="#23c1a5"/><stop offset="1.000" stop-color="#4dc57f"/></linearGradient><linearGradient id="g2_33" x1="0" y1="0" x2="0" y2="1"><stop offset="0.000" stop-color="#f0b937"/><stop offset="0.050" stop-color="#e0ba33"/><stop offset="0.100" stop-color="#9fc243"/><stop offset="0.150" stop-color="#14beb4"/><stop offset="0.250" stop-color="#14beb4"/><stop offset="0.300" stop-color="#2e82f8"/><stop offset="0.400" stop-color="#3f68fa"/><stop offset="0.600" stop-color="#3f68fa"/><stop offset="0.700" stop-color="#2a88f4"/><stop offset="0.800" stop-color="#0cb2cd"/><stop offset="0.880" stop-color="#23c1a5"/><stop offset="1.000" stop-color="#4dc57f"/></linearGradient><linearGradient id="g2_34" x1="0" y1="0" x2="0" y2="1"><stop offset="0.000" stop-color="#f0b937"/><stop offset="0.050" stop-color="#e0ba33"/><stop offset="0.100" stop-color="#9fc243"/><stop offset="0.150" stop-color="#14beb4"/><stop offset="0.250" stop-color="#14beb4"/><stop offset="0.300" stop-color="#2e82f8"/><stop offset="0.400" stop-color="#3f68fa"/><stop offset="0.600" stop-color="#3f68fa"/><stop offset="0.700" stop-color="#2a88f4"/><stop offset="0.800" stop-color="#0cb2cd"/><stop offset="0.880" stop-color="#23c1a5"/><stop offset="1.000" stop-color="#4dc57f"/></linearGradient><clipPath id="cp3"><rect x="131.0" y="922.5" width="1181.0" height="192.5"/></clipPath><linearGradient id="g3_0" x1="0" y1="0" x2="0" y2="1"><stop offset="0.000" stop-color="#fdc735"/><stop offset="0.150" stop-color="#fdc735"/><stop offset="0.170" stop-color="#d0bb2f"/><stop offset="0.250" stop-color="#4dc57f"/><stop offset="0.400" stop-color="#4dc57f"/><stop offset="0.450" stop-color="#66c56b"/><stop offset="0.750" stop-color="#66c56b"/><stop offset="0.800" stop-color="#3cc58c"/><stop offset="1.000" stop-color="#23c1a5"/></linearGradient><linearGradient id="g3_1" x1="0" y1="0" x2="0" y2="1"><stop offset="0.000" stop-color="#f6de26"/><stop offset="0.100" stop-color="#f7da28"/><stop offset="0.150" stop-color="#fdc735"/><stop offset="0.180" stop-color="#d8bb31"/><stop offset="0.250" stop-color="#a7c03f"/><stop offset="0.500" stop-color="#a7c03f"/><stop offset="0.550" stop-color="#9fc243"/><stop offset="0.800" stop-color="#9fc243"/><stop offset="0.850" stop-color="#87c550"/><stop offset="1.000" stop-color="#6ec564"/></linearGradient><linearGradient id="g3_2" x1="0" y1="0" x2="0" y2="1"><stop offset="0.000" stop-color="#fccb32"/><stop offset="0.150" stop-color="#fdc735"/><stop offset="0.180" stop-color="#d8bb31"/><stop offset="0.250" stop-color="#9fc243"/><stop offset="0.500" stop-color="#9fc243"/><stop offset="0.550" stop-color="#8fc44c"/><stop offset="0.800" stop-color="#8fc44c"/><stop offset="1.000" stop-color="#66c56b"/></linearGradient><linearGradient id="g3_3" x1="0" y1="0" x2="0" y2="1"><stop offset="0.000" stop-color="#fcc137"/><stop offset="0.200" stop-color="#fcc137"/><stop offset="0.220" stop-color="#a7c03f"/><stop offset="0.280" stop-color="#5dc571"/><stop offset="0.450" stop-color="#5dc571"/><stop offset="0.500" stop-color="#76c55d"/><stop offset="0.800" stop-color="#7fc557"/><stop offset="0.850" stop-color="#6ec564"/><stop offset="1.000" stop-color="#5dc571"/></linearGradient><linearGradient id="g3_4" x1="0" y1="0" x2="0" y2="1"><stop offset="0.000" stop-color="#fcc137"/><stop offset="0.200" stop-color="#fcc137"/><stop offset="0.220" stop-color="#a7c03f"/><stop offset="0.250" stop-color="#37c491"/><stop offset="0.450" stop-color="#32c396"/><stop offset="0.500" stop-color="#5dc571"/><stop offset="0.700" stop-color="#5dc571"/><stop offset="0.750" stop-color="#4dc57f"/><stop offset="1.000" stop-color="#4dc57f"/></linearGradient><linearGradient id="g3_5" x1="0" y1="0" x2="0" y2="1"><stop offset="0.000" stop-color="#fcc137"/><stop offset="0.200" stop-color="#fcc137"/><stop offset="0.220" stop-color="#a7c03f"/><stop offset="0.270" stop-color="#2dc29b"/><stop offset="0.500" stop-color="#28c2a0"/><stop offset="0.550" stop-color="#4dc57f"/><stop offset="0.800" stop-color="#4dc57f"/><stop offset="0.850" stop-color="#3cc58c"/><stop offset="1.000" stop-color="#3cc58c"/></linearGradient><linearGradient id="g3_6" x1="0" y1="0" x2="0" y2="1"><stop offset="0.000" stop-color="#fcc137"/><stop offset="0.200" stop-color="#fcc137"/><stop offset="0.220" stop-color="#a7c03f"/><stop offset="0.270" stop-color="#23c1a5"/><stop offset="0.350" stop-color="#11babd"/><stop offset="0.500" stop-color="#19bfaf"/><stop offset="0.550" stop-color="#4dc57f"/><stop offset="0.800" stop-color="#4dc57f"/><stop offset="0.850" stop-color="#3cc58c"/><stop offset="1.000" stop-color="#3cc58c"/></linearGradient><linearGradient id="g3_7" x1="0" y1="0" x2="0" y2="1"><stop offset="0.000" stop-color="#fcc137"/><stop offset="0.100" stop-color="#fcc137"/><stop offset="0.120" stop-color="#8fc44c"/><stop offset="0.200" stop-color="#8fc44c"/><stop offset="0.220" stop-color="#23c1a5"/><stop offset="0.500" stop-color="#23c1a5"/><stop offset="0.550" stop-color="#5dc571"/><stop offset="1.000" stop-color="#5dc571"/></linearGradient><linearGradient id="g3_8" x1="0" y1="0" x2="0" y2="1"><stop offset="0.000" stop-color="#fcc137"/><stop offset="0.100" stop-color="#fcc137"/><stop offset="0.150" stop-color="#a7c03f"/><stop offset="0.180" stop-color="#23c1a5"/><stop offset="0.250" stop-color="#0cb2cd"/><stop offset="0.350" stop-color="#2492ed"/><stop offset="0.450" stop-color="#0cb2cd"/><stop offset="0.500" stop-color="#23c1a5"/><stop offset="0.700" stop-color="#23c1a5"/><stop offset="0.750" stop-color="#5dc571"/><stop offset="1.000" stop-color="#5dc571"/></linearGradient><linearGradient id="g3_9" x1="0" y1="0" x2="0" y2="1"><stop offset="0.000" stop-color="#f6e224"/><stop offset="0.060" stop-color="#f6e224"/><stop offset="0.080" stop-color="#fcc137"/><stop offset="0.120" stop-color="#fcc137"/><stop offset="0.150" stop-color="#76c55d"/><stop offset="0.200" stop-color="#76c55d"/><stop offset="0.250" stop-color="#0cb2cd"/><stop offset="0.300" stop-color="#3f68fa"/><stop offset="0.450" stop-color="#4643e0"/><stop offset="0.500" stop-color="#2a88f4"/><stop offset="0.600" stop-color="#2a88f4"/><stop offset="0.650" stop-color="#0cb2cd"/><stop offset="0.750" stop-color="#0cb2cd"/><stop offset="0.800" stop-color="#4dc57f"/><stop offset="1.000" stop-color="#4dc57f"/></linearGradient><linearGradient id="g3_10" x1="0" y1="0" x2="0" y2="1"><stop offset="0.000" stop-color="#f9d22d"/><stop offset="0.060" stop-color="#f9d22d"/><stop offset="0.100" stop-color="#fcc137"/><stop offset="0.150" stop-color="#76c55d"/><stop offset="0.200" stop-color="#76c55d"/><stop offset="0.250" stop-color="#0cb2cd"/><stop offset="0.300" stop-color="#3577f9"/><stop offset="0.450" stop-color="#3a6ff9"/><stop offset="0.500" stop-color="#2a88f4"/><stop offset="0.600" stop-color="#2a88f4"/><stop offset="0.650" stop-color="#0cb2cd"/><stop offset="0.750" stop-color="#0cb2cd"/><stop offset="0.800" stop-color="#4dc57f"/><stop offset="1.000" stop-color="#4dc57f"/></linearGradient><linearGradient id="g3_11" x1="0" y1="0" x2="0" y2="1"><stop offset="0.000" stop-color="#f5bc37"/><stop offset="0.100" stop-color="#f5bc37"/><stop offset="0.120" stop-color="#8fc44c"/><stop offset="0.200" stop-color="#8fc44c"/><stop offset="0.250" stop-color="#2a88f4"/><stop offset="0.350" stop-color="#473edb"/><stop offset="0.600" stop-color="#473edb"/><stop offset="0.650" stop-color="#3577f9"/><stop offset="0.850" stop-color="#307ef8"/><stop offset="0.900" stop-color="#0fb6c4"/><stop offset="1.000" stop-color="#23c1a5"/></linearGradient><linearGradient id="g3_12" x1="0" y1="0" x2="0" y2="1"><stop offset="0.000" stop-color="#e0ba33"/><stop offset="0.100" stop-color="#d8bb31"/><stop offset="0.120" stop-color="#a7c03f"/><stop offset="0.300" stop-color="#4dc57f"/><stop offset="0.350" stop-color="#464ce8"/><stop offset="0.550" stop-color="#4643e0"/><stop offset="0.600" stop-color="#3a6ff9"/><stop offset="0.850" stop-color="#307ef8"/><stop offset="0.900" stop-color="#0cb2cd"/><stop offset="1.000" stop-color="#23c1a5"/></linearGradient><linearGradient id="g3_13" x1="0" y1="0" x2="0" y2="1"><stop offset="0.000" stop-color="#d8bb31"/><stop offset="0.100" stop-color="#d8bb31"/><stop offset="0.200" stop-color="#c8bc2d"/><stop offset="0.300" stop-color="#23c1a5"/><stop offset="0.350" stop-color="#464ce8"/><stop offset="0.550" stop-color="#464ce8"/><stop offset="0.600" stop-color="#3a6ff9"/><stop offset="0.850" stop-color="#2e82f8"/><stop offset="0.900" stop-color="#0cb2cd"/><stop offset="1.000" stop-color="#23c1a5"/></linearGradient><linearGradient id="g3_14" x1="0" y1="0" x2="0" y2="1"><stop offset="0.000" stop-color="#f7da28"/><stop offset="0.100" stop-color="#fcc137"/><stop offset="0.300" stop-color="#fcc137"/><stop offset="0.320" stop-color="#a7c03f"/><stop offset="0.420" stop-color="#2a88f4"/><stop offset="0.500" stop-color="#3f68fa"/><stop offset="0.550" stop-color="#18a3de"/><stop offset="0.650" stop-color="#18a3de"/><stop offset="0.700" stop-color="#23c1a5"/><stop offset="0.800" stop-color="#23c1a5"/><stop offset="0.850" stop-color="#5dc571"/><stop offset="1.000" stop-color="#5dc571"/></linearGradient><linearGradient id="g3_15" x1="0" y1="0" x2="0" y2="1"><stop offset="0.000" stop-color="#f6e224"/><stop offset="0.100" stop-color="#f9d22d"/><stop offset="0.120" stop-color="#fcc137"/><stop offset="0.250" stop-color="#fcc137"/><stop offset="0.280" stop-color="#8fc44c"/><stop offset="0.320" stop-color="#14beb4"/><stop offset="0.350" stop-color="#2a88f4"/><stop offset="0.550" stop-color="#2a88f4"/><stop offset="0.600" stop-color="#14beb4"/><stop offset="0.700" stop-color="#14beb4"/><stop offset="0.750" stop-color="#4dc57f"/><stop offset="1.000" stop-color="#4dc57f"/></linearGradient><linearGradient id="g3_16" x1="0" y1="0" x2="0" y2="1"><stop offset="0.000" stop-color="#f6e224"/><stop offset="0.100" stop-color="#f9d22d"/><stop offset="0.120" stop-color="#fcc137"/><stop offset="0.250" stop-color="#fcc137"/><stop offset="0.280" stop-color="#8fc44c"/><stop offset="0.320" stop-color="#14beb4"/><stop offset="0.350" stop-color="#2a88f4"/><stop offset="0.550" stop-color="#2a88f4"/><stop offset="0.600" stop-color="#14beb4"/><stop offset="0.700" stop-color="#14beb4"/><stop offset="0.750" stop-color="#4dc57f"/><stop offset="1.000" stop-color="#4dc57f"/></linearGradient><linearGradient id="g3_17" x1="0" y1="0" x2="0" y2="1"><stop offset="0.000" stop-color="#f7ea1f"/><stop offset="0.100" stop-color="#f7ea1f"/><stop offset="0.120" stop-color="#fcc137"/><stop offset="0.150" stop-color="#fcc137"/><stop offset="0.180" stop-color="#23c1a5"/><stop offset="0.280" stop-color="#14beb4"/><stop offset="0.320" stop-color="#2a88f4"/><stop offset="0.350" stop-color="#445bf6"/><stop offset="0.600" stop-color="#464ce8"/><stop offset="0.650" stop-color="#2a88f4"/><stop offset="0.850" stop-color="#18a3de"/><stop offset="0.880" stop-color="#14beb4"/><stop offset="1.000" stop-color="#14beb4"/></linearGradient><linearGradient id="g3_18" x1="0" y1="0" x2="0" y2="1"><stop offset="0.000" stop-color="#f7ea1f"/><stop offset="0.100" stop-color="#f7ea1f"/><stop offset="0.120" stop-color="#fcc137"/><stop offset="0.150" stop-color="#fcc137"/><stop offset="0.180" stop-color="#23c1a5"/><stop offset="0.280" stop-color="#14beb4"/><stop offset="0.320" stop-color="#2a88f4"/><stop offset="0.350" stop-color="#445bf6"/><stop offset="0.600" stop-color="#464ce8"/><stop offset="0.650" stop-color="#2a88f4"/><stop offset="0.850" stop-color="#18a3de"/><stop offset="0.880" stop-color="#14beb4"/><stop offset="1.000" stop-color="#14beb4"/></linearGradient><linearGradient id="g3_19" x1="0" y1="0" x2="0" y2="1"><stop offset="0.000" stop-color="#fcc137"/><stop offset="0.130" stop-color="#fcc137"/><stop offset="0.150" stop-color="#4dc57f"/><stop offset="0.220" stop-color="#0cb2cd"/><stop offset="0.280" stop-color="#0cb2cd"/><stop offset="0.300" stop-color="#445bf6"/><stop offset="0.500" stop-color="#445bf6"/><stop offset="0.550" stop-color="#2a88f4"/><stop offset="0.700" stop-color="#2a88f4"/><stop offset="0.750" stop-color="#18a3de"/><stop offset="0.850" stop-color="#18a3de"/><stop offset="0.900" stop-color="#14beb4"/><stop offset="1.000" stop-color="#14beb4"/></linearGradient><linearGradient id="g3_20" x1="0" y1="0" x2="0" y2="1"><stop offset="0.000" stop-color="#fcc137"/><stop offset="0.130" stop-color="#fcc137"/><stop offset="0.150" stop-color="#4dc57f"/><stop offset="0.220" stop-color="#0cb2cd"/><stop offset="0.280" stop-color="#0cb2cd"/><stop offset="0.300" stop-color="#445bf6"/><stop offset="0.500" stop-color="#445bf6"/><stop offset="0.550" stop-color="#2a88f4"/><stop offset="0.700" stop-color="#2a88f4"/><stop offset="0.750" stop-color="#18a3de"/><stop offset="0.850" stop-color="#18a3de"/><stop offset="0.900" stop-color="#14beb4"/><stop offset="1.000" stop-color="#14beb4"/></linearGradient><linearGradient id="g3_21" x1="0" y1="0" x2="0" y2="1"><stop offset="0.000" stop-color="#fec337"/><stop offset="0.240" stop-color="#f9c037"/><stop offset="0.280" stop-color="#23c1a5"/><stop offset="0.320" stop-color="#0cb2cd"/><stop offset="0.350" stop-color="#3577f9"/><stop offset="0.550" stop-color="#3a6ff9"/><stop offset="0.600" stop-color="#2098e8"/><stop offset="0.700" stop-color="#2098e8"/><stop offset="0.720" stop-color="#0fb6c4"/><stop offset="0.850" stop-color="#28c2a0"/><stop offset="1.000" stop-color="#28c2a0"/></linearGradient><linearGradient id="g3_22" x1="0" y1="0" x2="0" y2="1"><stop offset="0.000" stop-color="#fec337"/><stop offset="0.240" stop-color="#f9c037"/><stop offset="0.280" stop-color="#23c1a5"/><stop offset="0.320" stop-color="#0cb2cd"/><stop offset="0.380" stop-color="#3577f9"/><stop offset="0.450" stop-color="#445bf6"/><stop offset="0.550" stop-color="#3577f9"/><stop offset="0.600" stop-color="#2098e8"/><stop offset="0.700" stop-color="#2098e8"/><stop offset="0.720" stop-color="#0fb6c4"/><stop offset="0.850" stop-color="#28c2a0"/><stop offset="1.000" stop-color="#28c2a0"/></linearGradient><linearGradient id="g3_23" x1="0" y1="0" x2="0" y2="1"><stop offset="0.000" stop-color="#fec337"/><stop offset="0.250" stop-color="#fec337"/><stop offset="0.280" stop-color="#f0b937"/><stop offset="0.320" stop-color="#23c1a5"/><stop offset="0.350" stop-color="#2e82f8"/><stop offset="0.550" stop-color="#2e82f8"/><stop offset="0.600" stop-color="#0cb2cd"/><stop offset="0.700" stop-color="#0cb2cd"/><stop offset="0.720" stop-color="#14beb4"/><stop offset="0.800" stop-color="#28c2a0"/><stop offset="1.000" stop-color="#32c396"/></linearGradient><linearGradient id="g3_24" x1="0" y1="0" x2="0" y2="1"><stop offset="0.000" stop-color="#fec337"/><stop offset="0.250" stop-color="#fec337"/><stop offset="0.280" stop-color="#f0b937"/><stop offset="0.320" stop-color="#23c1a5"/><stop offset="0.350" stop-color="#2e82f8"/><stop offset="0.550" stop-color="#2e82f8"/><stop offset="0.600" stop-color="#0cb2cd"/><stop offset="0.700" stop-color="#0cb2cd"/><stop offset="0.720" stop-color="#14beb4"/><stop offset="0.800" stop-color="#32c396"/><stop offset="1.000" stop-color="#4dc57f"/></linearGradient><linearGradient id="g3_25" x1="0" y1="0" x2="0" y2="1"><stop offset="0.000" stop-color="#fec337"/><stop offset="0.200" stop-color="#fec337"/><stop offset="0.250" stop-color="#b8be36"/><stop offset="0.300" stop-color="#0cb2cd"/><stop offset="0.600" stop-color="#0fb6c4"/><stop offset="0.650" stop-color="#66c56b"/><stop offset="1.000" stop-color="#66c56b"/></linearGradient><linearGradient id="g3_26" x1="0" y1="0" x2="0" y2="1"><stop offset="0.000" stop-color="#fcc137"/><stop offset="0.200" stop-color="#fcc137"/><stop offset="0.220" stop-color="#76c55d"/><stop offset="0.280" stop-color="#0cb2cd"/><stop offset="0.350" stop-color="#0cb2cd"/><stop offset="0.380" stop-color="#3577f9"/><stop offset="0.500" stop-color="#3577f9"/><stop offset="0.550" stop-color="#0cb2cd"/><stop offset="0.650" stop-color="#0cb2cd"/><stop offset="0.700" stop-color="#5dc571"/><stop offset="1.000" stop-color="#66c56b"/></linearGradient><linearGradient id="g3_27" x1="0" y1="0" x2="0" y2="1"><stop offset="0.000" stop-color="#f8f31a"/><stop offset="0.100" stop-color="#f8f31a"/><stop offset="0.200" stop-color="#fcc137"/><stop offset="0.220" stop-color="#76c55d"/><stop offset="0.280" stop-color="#0cb2cd"/><stop offset="0.350" stop-color="#0cb2cd"/><stop offset="0.380" stop-color="#3a6ff9"/><stop offset="0.500" stop-color="#3a6ff9"/><stop offset="0.550" stop-color="#0cb2cd"/><stop offset="0.650" stop-color="#0cb2cd"/><stop offset="0.700" stop-color="#5dc571"/><stop offset="1.000" stop-color="#66c56b"/></linearGradient><linearGradient id="g3_28" x1="0" y1="0" x2="0" y2="1"><stop offset="0.000" stop-color="#f8f31a"/><stop offset="0.100" stop-color="#f8f31a"/><stop offset="0.200" stop-color="#fcc137"/><stop offset="0.220" stop-color="#76c55d"/><stop offset="0.280" stop-color="#0cb2cd"/><stop offset="0.350" stop-color="#0cb2cd"/><stop offset="0.380" stop-color="#3577f9"/><stop offset="0.500" stop-color="#3577f9"/><stop offset="0.550" stop-color="#0cb2cd"/><stop offset="0.650" stop-color="#0cb2cd"/><stop offset="0.700" stop-color="#5dc571"/><stop offset="1.000" stop-color="#66c56b"/></linearGradient><clipPath id="cp4"><rect x="131.0" y="1196.2" width="1405.5" height="192.5"/></clipPath><linearGradient id="g4_0" x1="0" y1="0" x2="0" y2="1"><stop offset="0.000" stop-color="#14beb4"/><stop offset="0.100" stop-color="#1ec0aa"/><stop offset="0.150" stop-color="#4dc57f"/><stop offset="0.200" stop-color="#8fc44c"/><stop offset="0.300" stop-color="#d0bb2f"/><stop offset="0.700" stop-color="#d0bb2f"/><stop offset="0.800" stop-color="#fcc137"/><stop offset="1.000" stop-color="#fdc735"/></linearGradient><linearGradient id="g4_1" x1="0" y1="0" x2="0" y2="1"><stop offset="0.000" stop-color="#28c2a0"/><stop offset="0.150" stop-color="#32c396"/><stop offset="0.200" stop-color="#76c55d"/><stop offset="0.250" stop-color="#b8be36"/><stop offset="0.300" stop-color="#d0bb2f"/><stop offset="0.900" stop-color="#d8bb31"/><stop offset="1.000" stop-color="#e8ba35"/></linearGradient><linearGradient id="g4_2" x1="0" y1="0" x2="0" y2="1"><stop offset="0.000" stop-color="#4dc57f"/><stop offset="0.180" stop-color="#3cc58c"/><stop offset="0.220" stop-color="#23c1a5"/><stop offset="0.250" stop-color="#8fc44c"/><stop offset="0.300" stop-color="#f0b937"/><stop offset="1.000" stop-color="#f0b937"/></linearGradient><linearGradient id="g4_3" x1="0" y1="0" x2="0" y2="1"><stop offset="0.000" stop-color="#23c1a5"/><stop offset="0.150" stop-color="#23c1a5"/><stop offset="0.200" stop-color="#3cc58c"/><stop offset="0.250" stop-color="#8fc44c"/><stop offset="0.300" stop-color="#f5bc37"/><stop offset="1.000" stop-color="#f5bc37"/></linearGradient><linearGradient id="g4_4" x1="0" y1="0" x2="0" y2="1"><stop offset="0.000" stop-color="#14beb4"/><stop offset="0.150" stop-color="#23c1a5"/><stop offset="0.220" stop-color="#4dc57f"/><stop offset="0.250" stop-color="#a7c03f"/><stop offset="0.300" stop-color="#f9c037"/><stop offset="1.000" stop-color="#f9c037"/></linearGradient><linearGradient id="g4_5" x1="0" y1="0" x2="0" y2="1"><stop offset="0.000" stop-color="#0fb6c4"/><stop offset="0.120" stop-color="#0fb6c4"/><stop offset="0.180" stop-color="#23c1a5"/><stop offset="0.250" stop-color="#8fc44c"/><stop offset="0.300" stop-color="#f5bc37"/><stop offset="1.000" stop-color="#f5bc37"/></linearGradient><linearGradient id="g4_6" x1="0" y1="0" x2="0" y2="1"><stop offset="0.000" stop-color="#0cb2cd"/><stop offset="0.100" stop-color="#0cb2cd"/><stop offset="0.120" stop-color="#4dc57f"/><stop offset="0.200" stop-color="#76c55d"/><stop offset="0.250" stop-color="#c8bc2d"/><stop offset="0.300" stop-color="#fcc137"/><stop offset="1.000" stop-color="#fcc137"/></linearGradient><linearGradient id="g4_7" x1="0" y1="0" x2="0" y2="1"><stop offset="0.000" stop-color="#4643e0"/><stop offset="0.060" stop-color="#464ce8"/><stop offset="0.080" stop-color="#1aa0e0"/><stop offset="0.120" stop-color="#23c1a5"/><stop offset="0.200" stop-color="#76c55d"/><stop offset="0.250" stop-color="#d8bb31"/><stop offset="0.300" stop-color="#f9d22d"/><stop offset="0.450" stop-color="#f7e621"/><stop offset="0.600" stop-color="#f9d22d"/><stop offset="0.650" stop-color="#fcc137"/><stop offset="1.000" stop-color="#fcc137"/></linearGradient><linearGradient id="g4_8" x1="0" y1="0" x2="0" y2="1"><stop offset="0.000" stop-color="#4643e0"/><stop offset="0.060" stop-color="#464ce8"/><stop offset="0.080" stop-color="#1aa0e0"/><stop offset="0.120" stop-color="#23c1a5"/><stop offset="0.200" stop-color="#76c55d"/><stop offset="0.250" stop-color="#d8bb31"/><stop offset="0.300" stop-color="#f9d22d"/><stop offset="0.450" stop-color="#f6de26"/><stop offset="0.600" stop-color="#f9d22d"/><stop offset="0.650" stop-color="#fcc137"/><stop offset="1.000" stop-color="#fcc137"/></linearGradient><linearGradient id="g4_9" x1="0" y1="0" x2="0" y2="1"><stop offset="0.000" stop-color="#3577f9"/><stop offset="0.100" stop-color="#2492ed"/><stop offset="0.120" stop-color="#0cb2cd"/><stop offset="0.200" stop-color="#23c1a5"/><stop offset="0.250" stop-color="#76c55d"/><stop offset="0.350" stop-color="#c8bc2d"/><stop offset="0.450" stop-color="#f7da28"/><stop offset="0.800" stop-color="#f7da28"/><stop offset="0.850" stop-color="#fdc735"/><stop offset="1.000" stop-color="#fdc735"/></linearGradient><linearGradient id="g4_10" x1="0" y1="0" x2="0" y2="1"><stop offset="0.000" stop-color="#3a6ff9"/><stop offset="0.100" stop-color="#2492ed"/><stop offset="0.120" stop-color="#0cb2cd"/><stop offset="0.200" stop-color="#23c1a5"/><stop offset="0.250" stop-color="#76c55d"/><stop offset="0.350" stop-color="#e0ba33"/><stop offset="0.450" stop-color="#f7da28"/><stop offset="0.800" stop-color="#f7da28"/><stop offset="0.850" stop-color="#fdc735"/><stop offset="1.000" stop-color="#fdc735"/></linearGradient><linearGradient id="g4_11" x1="0" y1="0" x2="0" y2="1"><stop offset="0.000" stop-color="#0cb2cd"/><stop offset="0.100" stop-color="#0cb2cd"/><stop offset="0.120" stop-color="#0fb6c4"/><stop offset="0.300" stop-color="#0fb6c4"/><stop offset="0.350" stop-color="#76c55d"/><stop offset="0.450" stop-color="#f7da28"/><stop offset="0.800" stop-color="#f6e224"/><stop offset="0.850" stop-color="#fdc735"/><stop offset="1.000" stop-color="#fdc735"/></linearGradient><linearGradient id="g4_12" x1="0" y1="0" x2="0" y2="1"><stop offset="0.000" stop-color="#0cb2cd"/><stop offset="0.450" stop-color="#0fb6c4"/><stop offset="0.500" stop-color="#9fc243"/><stop offset="0.550" stop-color="#f9d22d"/><stop offset="0.800" stop-color="#f6de26"/><stop offset="0.850" stop-color="#fdc735"/><stop offset="1.000" stop-color="#fdc735"/></linearGradient><linearGradient id="g4_13" x1="0" y1="0" x2="0" y2="1"><stop offset="0.000" stop-color="#3f68fa"/><stop offset="0.050" stop-color="#2a88f4"/><stop offset="0.150" stop-color="#288bf1"/><stop offset="0.180" stop-color="#0fb6c4"/><stop offset="0.350" stop-color="#11babd"/><stop offset="0.400" stop-color="#23c1a5"/><stop offset="0.450" stop-color="#c8bc2d"/><stop offset="0.500" stop-color="#f7da28"/><stop offset="0.650" stop-color="#f7da28"/><stop offset="0.700" stop-color="#fdc735"/><stop offset="1.000" stop-color="#fdc735"/></linearGradient><linearGradient id="g4_14" x1="0" y1="0" x2="0" y2="1"><stop offset="0.000" stop-color="#473edb"/><stop offset="0.050" stop-color="#3577f9"/><stop offset="0.120" stop-color="#0cb2cd"/><stop offset="0.250" stop-color="#0fb6c4"/><stop offset="0.280" stop-color="#76c55d"/><stop offset="0.320" stop-color="#d0bb2f"/><stop offset="0.350" stop-color="#f9d22d"/><stop offset="0.700" stop-color="#f9d22d"/><stop offset="0.750" stop-color="#fec337"/><stop offset="1.000" stop-color="#fec337"/></linearGradient><linearGradient id="g4_15" x1="0" y1="0" x2="0" y2="1"><stop offset="0.000" stop-color="#473edb"/><stop offset="0.050" stop-color="#3577f9"/><stop offset="0.120" stop-color="#0cb2cd"/><stop offset="0.250" stop-color="#0fb6c4"/><stop offset="0.280" stop-color="#76c55d"/><stop offset="0.320" stop-color="#d0bb2f"/><stop offset="0.350" stop-color="#f9d22d"/><stop offset="0.700" stop-color="#f9d22d"/><stop offset="0.750" stop-color="#fec337"/><stop offset="1.000" stop-color="#fec337"/></linearGradient><linearGradient id="g4_16" x1="0" y1="0" x2="0" y2="1"><stop offset="0.000" stop-color="#4534cb"/><stop offset="0.100" stop-color="#4637d1"/><stop offset="0.140" stop-color="#3577f9"/><stop offset="0.180" stop-color="#0cb2cd"/><stop offset="0.220" stop-color="#3cc58c"/><stop offset="0.280" stop-color="#76c55d"/><stop offset="0.300" stop-color="#c8bc2d"/><stop offset="0.350" stop-color="#f9d22d"/><stop offset="0.500" stop-color="#f7e621"/><stop offset="0.650" stop-color="#f7e621"/><stop offset="0.750" stop-color="#fdc735"/><stop offset="1.000" stop-color="#fdc735"/></linearGradient><linearGradient id="g4_17" x1="0" y1="0" x2="0" y2="1"><stop offset="0.000" stop-color="#4534cb"/><stop offset="0.100" stop-color="#4637d1"/><stop offset="0.140" stop-color="#3577f9"/><stop offset="0.180" stop-color="#0cb2cd"/><stop offset="0.220" stop-color="#3cc58c"/><stop offset="0.280" stop-color="#76c55d"/><stop offset="0.300" stop-color="#c8bc2d"/><stop offset="0.350" stop-color="#f9d22d"/><stop offset="0.500" stop-color="#f7e621"/><stop offset="0.650" stop-color="#f7e621"/><stop offset="0.750" stop-color="#fdc735"/><stop offset="1.000" stop-color="#fdc735"/></linearGradient><linearGradient id="g4_18" x1="0" y1="0" x2="0" y2="1"><stop offset="0.000" stop-color="#2a88f4"/><stop offset="0.120" stop-color="#2098e8"/><stop offset="0.150" stop-color="#0fb6c4"/><stop offset="0.200" stop-color="#0fb6c4"/><stop offset="0.220" stop-color="#76c55d"/><stop offset="0.280" stop-color="#d0bb2f"/><stop offset="0.320" stop-color="#f9d22d"/><stop offset="0.700" stop-color="#f9d22d"/><stop offset="0.750" stop-color="#fec337"/><stop offset="1.000" stop-color="#fec337"/></linearGradient><linearGradient id="g4_19" x1="0" y1="0" x2="0" y2="1"><stop offset="0.000" stop-color="#2a88f4"/><stop offset="0.120" stop-color="#2098e8"/><stop offset="0.150" stop-color="#0fb6c4"/><stop offset="0.200" stop-color="#0fb6c4"/><stop offset="0.220" stop-color="#76c55d"/><stop offset="0.280" stop-color="#d0bb2f"/><stop offset="0.320" stop-color="#f9d22d"/><stop offset="0.700" stop-color="#f9d22d"/><stop offset="0.750" stop-color="#fec337"/><stop offset="1.000" stop-color="#fec337"/></linearGradient><linearGradient id="g4_20" x1="0" y1="0" x2="0" y2="1"><stop offset="0.000" stop-color="#0eb5c7"/><stop offset="0.200" stop-color="#0eb5c7"/><stop offset="0.220" stop-color="#23c1a5"/><stop offset="0.280" stop-color="#8fc44c"/><stop offset="0.320" stop-color="#f0b937"/><stop offset="0.400" stop-color="#f7da28"/><stop offset="0.600" stop-color="#f6e224"/><stop offset="0.650" stop-color="#fdc735"/><stop offset="1.000" stop-color="#fdc735"/></linearGradient><linearGradient id="g4_21" x1="0" y1="0" x2="0" y2="1"><stop offset="0.000" stop-color="#0fb6c4"/><stop offset="0.200" stop-color="#0fb6c4"/><stop offset="0.220" stop-color="#23c1a5"/><stop offset="0.280" stop-color="#4dc57f"/><stop offset="0.300" stop-color="#a7c03f"/><stop offset="0.330" stop-color="#f5bc37"/><stop offset="0.400" stop-color="#f7da28"/><stop offset="0.700" stop-color="#f7da28"/><stop offset="0.750" stop-color="#fec337"/><stop offset="1.000" stop-color="#fec337"/></linearGradient><linearGradient id="g4_22" x1="0" y1="0" x2="0" y2="1"><stop offset="0.000" stop-color="#2e82f8"/><stop offset="0.100" stop-color="#2492ed"/><stop offset="0.150" stop-color="#0fb6c4"/><stop offset="0.220" stop-color="#8fc44c"/><stop offset="0.280" stop-color="#d0bb2f"/><stop offset="0.320" stop-color="#fcc137"/><stop offset="1.000" stop-color="#f9c037"/></linearGradient><linearGradient id="g4_23" x1="0" y1="0" x2="0" y2="1"><stop offset="0.000" stop-color="#2e82f8"/><stop offset="0.100" stop-color="#2492ed"/><stop offset="0.150" stop-color="#0fb6c4"/><stop offset="0.220" stop-color="#8fc44c"/><stop offset="0.280" stop-color="#d0bb2f"/><stop offset="0.320" stop-color="#fcc137"/><stop offset="1.000" stop-color="#f9c037"/></linearGradient><linearGradient id="g4_24" x1="0" y1="0" x2="0" y2="1"><stop offset="0.000" stop-color="#4230c0"/><stop offset="0.100" stop-color="#4432c5"/><stop offset="0.130" stop-color="#2a88f4"/><stop offset="0.150" stop-color="#0fb6c4"/><stop offset="0.250" stop-color="#23c1a5"/><stop offset="0.300" stop-color="#76c55d"/><stop offset="0.330" stop-color="#c8bc2d"/><stop offset="0.350" stop-color="#fcc137"/><stop offset="0.420" stop-color="#fec337"/><stop offset="0.500" stop-color="#f6de26"/><stop offset="0.750" stop-color="#f7e621"/><stop offset="0.800" stop-color="#fdc735"/><stop offset="1.000" stop-color="#fdc735"/></linearGradient><linearGradient id="g4_25" x1="0" y1="0" x2="0" y2="1"><stop offset="0.000" stop-color="#4230c0"/><stop offset="0.100" stop-color="#4432c5"/><stop offset="0.130" stop-color="#2a88f4"/><stop offset="0.150" stop-color="#0fb6c4"/><stop offset="0.250" stop-color="#23c1a5"/><stop offset="0.300" stop-color="#76c55d"/><stop offset="0.330" stop-color="#c8bc2d"/><stop offset="0.350" stop-color="#fcc137"/><stop offset="0.420" stop-color="#fec337"/><stop offset="0.500" stop-color="#f6de26"/><stop offset="0.750" stop-color="#f7e621"/><stop offset="0.800" stop-color="#fdc735"/><stop offset="1.000" stop-color="#fdc735"/></linearGradient><linearGradient id="g4_26" x1="0" y1="0" x2="0" y2="1"><stop offset="0.000" stop-color="#2a88f4"/><stop offset="0.150" stop-color="#2098e8"/><stop offset="0.180" stop-color="#14beb4"/><stop offset="0.250" stop-color="#14beb4"/><stop offset="0.280" stop-color="#b8be36"/><stop offset="0.350" stop-color="#f6e224"/><stop offset="0.750" stop-color="#f6e224"/><stop offset="0.800" stop-color="#fdc735"/><stop offset="1.000" stop-color="#fdc735"/></linearGradient><linearGradient id="g4_27" x1="0" y1="0" x2="0" y2="1"><stop offset="0.000" stop-color="#2a88f4"/><stop offset="0.150" stop-color="#2098e8"/><stop offset="0.180" stop-color="#14beb4"/><stop offset="0.250" stop-color="#14beb4"/><stop offset="0.280" stop-color="#b8be36"/><stop offset="0.350" stop-color="#f6e224"/><stop offset="0.750" stop-color="#f6e224"/><stop offset="0.800" stop-color="#fdc735"/><stop offset="1.000" stop-color="#fdc735"/></linearGradient><clipPath id="cp5"><rect x="131.0" y="1470.0" width="1405.5" height="192.5"/></clipPath><linearGradient id="g5_0" x1="0" y1="0" x2="0" y2="1"><stop offset="0.000" stop-color="#61ff9e"/><stop offset="0.120" stop-color="#4dffb2"/><stop offset="0.170" stop-color="#0ffff0"/><stop offset="0.200" stop-color="#00dbff"/><stop offset="0.240" stop-color="#00b2ff"/><stop offset="0.300" stop-color="#009eff"/><stop offset="0.800" stop-color="#0094ff"/><stop offset="0.850" stop-color="#0080ff"/><stop offset="1.000" stop-color="#006bff"/></linearGradient><linearGradient id="g5_1" x1="0" y1="0" x2="0" y2="1"><stop offset="0.000" stop-color="#bdff42"/><stop offset="0.060" stop-color="#94ff6b"/><stop offset="0.120" stop-color="#57ffa8"/><stop offset="0.170" stop-color="#0ffff0"/><stop offset="0.200" stop-color="#00dbff"/><stop offset="0.240" stop-color="#00b2ff"/><stop offset="0.300" stop-color="#00a8ff"/><stop offset="0.800" stop-color="#009eff"/><stop offset="1.000" stop-color="#0080ff"/></linearGradient><linearGradient id="g5_2" x1="0" y1="0" x2="0" y2="1"><stop offset="0.000" stop-color="#57ffa8"/><stop offset="0.140" stop-color="#4dffb2"/><stop offset="0.180" stop-color="#0ffff0"/><stop offset="0.210" stop-color="#00dbff"/><stop offset="0.250" stop-color="#00b2ff"/><stop offset="0.900" stop-color="#00a8ff"/><stop offset="1.000" stop-color="#008aff"/></linearGradient><linearGradient id="g5_3" x1="0" y1="0" x2="0" y2="1"><stop offset="0.000" stop-color="#57ffa8"/><stop offset="0.140" stop-color="#4dffb2"/><stop offset="0.190" stop-color="#0ffff0"/><stop offset="0.220" stop-color="#00d1ff"/><stop offset="0.260" stop-color="#0094ff"/><stop offset="0.450" stop-color="#008aff"/><stop offset="0.500" stop-color="#0094ff"/><stop offset="1.000" stop-color="#0094ff"/></linearGradient><linearGradient id="g5_4" x1="0" y1="0" x2="0" y2="1"><stop offset="0.000" stop-color="#57ffa8"/><stop offset="0.150" stop-color="#4dffb2"/><stop offset="0.200" stop-color="#05fffa"/><stop offset="0.230" stop-color="#00bdff"/><stop offset="0.270" stop-color="#0080ff"/><stop offset="0.450" stop-color="#0080ff"/><stop offset="0.500" stop-color="#008aff"/><stop offset="1.000" stop-color="#008aff"/></linearGradient><linearGradient id="g5_5" x1="0" y1="0" x2="0" y2="1"><stop offset="0.000" stop-color="#57ffa8"/><stop offset="0.100" stop-color="#57ffa8"/><stop offset="0.150" stop-color="#42ffbd"/><stop offset="0.190" stop-color="#00faff"/><stop offset="0.220" stop-color="#00b2ff"/><stop offset="0.260" stop-color="#0061ff"/><stop offset="0.450" stop-color="#006bff"/><stop offset="0.500" stop-color="#0080ff"/><stop offset="1.000" stop-color="#0080ff"/></linearGradient><linearGradient id="g5_6" x1="0" y1="0" x2="0" y2="1"><stop offset="0.000" stop-color="#d1ff2e"/><stop offset="0.070" stop-color="#b3ff4c"/><stop offset="0.160" stop-color="#05fffa"/><stop offset="0.240" stop-color="#0057ff"/><stop offset="0.450" stop-color="#0057ff"/><stop offset="0.500" stop-color="#0075ff"/><stop offset="1.000" stop-color="#0080ff"/></linearGradient><linearGradient id="g5_7" x1="0" y1="0" x2="0" y2="1"><stop offset="0.000" stop-color="#80ff80"/><stop offset="0.080" stop-color="#80ff80"/><stop offset="0.120" stop-color="#57ffa8"/><stop offset="0.160" stop-color="#05fffa"/><stop offset="0.190" stop-color="#00bdff"/><stop offset="0.240" stop-color="#0061ff"/><stop offset="0.450" stop-color="#0061ff"/><stop offset="0.500" stop-color="#0075ff"/><stop offset="1.000" stop-color="#0080ff"/></linearGradient><linearGradient id="g5_8" x1="0" y1="0" x2="0" y2="1"><stop offset="0.000" stop-color="#e5ff1a"/><stop offset="0.100" stop-color="#d1ff2e"/><stop offset="0.130" stop-color="#38ffc7"/><stop offset="0.170" stop-color="#00e5ff"/><stop offset="0.210" stop-color="#004dff"/><stop offset="0.500" stop-color="#0042ff"/><stop offset="0.550" stop-color="#006bff"/><stop offset="1.000" stop-color="#006bff"/></linearGradient><linearGradient id="g5_9" x1="0" y1="0" x2="0" y2="1"><stop offset="0.000" stop-color="#faff05"/><stop offset="0.080" stop-color="#e5ff1a"/><stop offset="0.120" stop-color="#94ff6b"/><stop offset="0.170" stop-color="#05fffa"/><stop offset="0.250" stop-color="#0094ff"/><stop offset="0.300" stop-color="#0042ff"/><stop offset="0.500" stop-color="#0042ff"/><stop offset="0.550" stop-color="#0075ff"/><stop offset="1.000" stop-color="#0080ff"/></linearGradient><linearGradient id="g5_10" x1="0" y1="0" x2="0" y2="1"><stop offset="0.000" stop-color="#faff05"/><stop offset="0.080" stop-color="#e5ff1a"/><stop offset="0.120" stop-color="#94ff6b"/><stop offset="0.170" stop-color="#05fffa"/><stop offset="0.250" stop-color="#0094ff"/><stop offset="0.300" stop-color="#0042ff"/><stop offset="0.500" stop-color="#0042ff"/><stop offset="0.550" stop-color="#0075ff"/><stop offset="1.000" stop-color="#0080ff"/></linearGradient><linearGradient id="g5_11" x1="0" y1="0" x2="0" y2="1"><stop offset="0.000" stop-color="#ff6100"/><stop offset="0.080" stop-color="#ff9e00"/><stop offset="0.100" stop-color="#faff05"/><stop offset="0.130" stop-color="#80ff80"/><stop offset="0.170" stop-color="#05fffa"/><stop offset="0.200" stop-color="#00b2ff"/><stop offset="0.250" stop-color="#0080ff"/><stop offset="0.300" stop-color="#002eff"/><stop offset="0.500" stop-color="#002eff"/><stop offset="0.600" stop-color="#004dff"/><stop offset="0.800" stop-color="#0075ff"/><stop offset="1.000" stop-color="#0075ff"/></linearGradient><linearGradient id="g5_12" x1="0" y1="0" x2="0" y2="1"><stop offset="0.000" stop-color="#800000"/><stop offset="0.070" stop-color="#800000"/><stop offset="0.080" stop-color="#fa0000"/><stop offset="0.100" stop-color="#fffa00"/><stop offset="0.130" stop-color="#6bff94"/><stop offset="0.160" stop-color="#05fffa"/><stop offset="0.200" stop-color="#00c7ff"/><stop offset="0.240" stop-color="#0080ff"/><stop offset="0.280" stop-color="#0000e9"/><stop offset="0.450" stop-color="#0000bc"/><stop offset="0.600" stop-color="#0000d7"/><stop offset="0.700" stop-color="#0042ff"/><stop offset="0.800" stop-color="#006bff"/><stop offset="1.000" stop-color="#0075ff"/></linearGradient><linearGradient id="g5_13" x1="0" y1="0" x2="0" y2="1"><stop offset="0.000" stop-color="#800000"/><stop offset="0.070" stop-color="#800000"/><stop offset="0.080" stop-color="#fa0000"/><stop offset="0.100" stop-color="#fffa00"/><stop offset="0.130" stop-color="#6bff94"/><stop offset="0.160" stop-color="#05fffa"/><stop offset="0.200" stop-color="#00c7ff"/><stop offset="0.240" stop-color="#0080ff"/><stop offset="0.280" stop-color="#0000d7"/><stop offset="0.450" stop-color="#0000b3"/><stop offset="0.600" stop-color="#0000d7"/><stop offset="0.700" stop-color="#0042ff"/><stop offset="0.800" stop-color="#006bff"/><stop offset="1.000" stop-color="#0075ff"/></linearGradient><linearGradient id="g5_14" x1="0" y1="0" x2="0" y2="1"><stop offset="0.000" stop-color="#800000"/><stop offset="0.060" stop-color="#800000"/><stop offset="0.080" stop-color="#ff1a00"/><stop offset="0.100" stop-color="#fffa00"/><stop offset="0.130" stop-color="#6bff94"/><stop offset="0.160" stop-color="#05fffa"/><stop offset="0.200" stop-color="#00c7ff"/><stop offset="0.250" stop-color="#0061ff"/><stop offset="0.300" stop-color="#002eff"/><stop offset="0.500" stop-color="#002eff"/><stop offset="0.750" stop-color="#0061ff"/><stop offset="1.000" stop-color="#0075ff"/></linearGradient><linearGradient id="g5_15" x1="0" y1="0" x2="0" y2="1"><stop offset="0.000" stop-color="#ff9e00"/><stop offset="0.080" stop-color="#ffc700"/><stop offset="0.100" stop-color="#faff05"/><stop offset="0.130" stop-color="#6bff94"/><stop offset="0.170" stop-color="#05fffa"/><stop offset="0.200" stop-color="#00c7ff"/><stop offset="0.250" stop-color="#0094ff"/><stop offset="0.300" stop-color="#0042ff"/><stop offset="0.450" stop-color="#0042ff"/><stop offset="0.500" stop-color="#0000e9"/><stop offset="0.700" stop-color="#0000e9"/><stop offset="0.750" stop-color="#0061ff"/><stop offset="1.000" stop-color="#006bff"/></linearGradient><linearGradient id="g5_16" x1="0" y1="0" x2="0" y2="1"><stop offset="0.000" stop-color="#b30000"/><stop offset="0.100" stop-color="#ff1a00"/><stop offset="0.130" stop-color="#ff8000"/><stop offset="0.150" stop-color="#faff05"/><stop offset="0.180" stop-color="#4dffb2"/><stop offset="0.210" stop-color="#00faff"/><stop offset="0.250" stop-color="#0042ff"/><stop offset="0.350" stop-color="#0000c5"/><stop offset="0.850" stop-color="#0000bc"/><stop offset="0.900" stop-color="#0061ff"/><stop offset="1.000" stop-color="#006bff"/></linearGradient><linearGradient id="g5_17" x1="0" y1="0" x2="0" y2="1"><stop offset="0.000" stop-color="#e60000"/><stop offset="0.100" stop-color="#ff1a00"/><stop offset="0.130" stop-color="#ff8000"/><stop offset="0.160" stop-color="#faff05"/><stop offset="0.200" stop-color="#faff05"/><stop offset="0.220" stop-color="#00faff"/><stop offset="0.260" stop-color="#0042ff"/><stop offset="0.350" stop-color="#0000bc"/><stop offset="0.850" stop-color="#0000b3"/><stop offset="0.900" stop-color="#0061ff"/><stop offset="1.000" stop-color="#006bff"/></linearGradient><linearGradient id="g5_18" x1="0" y1="0" x2="0" y2="1"><stop offset="0.000" stop-color="#ff3800"/><stop offset="0.100" stop-color="#ff4c00"/><stop offset="0.130" stop-color="#ff6100"/><stop offset="0.150" stop-color="#faff05"/><stop offset="0.190" stop-color="#1affe5"/><stop offset="0.220" stop-color="#00b2ff"/><stop offset="0.260" stop-color="#0042ff"/><stop offset="0.350" stop-color="#0000b3"/><stop offset="0.850" stop-color="#0000b3"/><stop offset="0.900" stop-color="#0061ff"/><stop offset="1.000" stop-color="#006bff"/></linearGradient><linearGradient id="g5_19" x1="0" y1="0" x2="0" y2="1"><stop offset="0.000" stop-color="#d1ff2e"/><stop offset="0.050" stop-color="#bdff42"/><stop offset="0.120" stop-color="#4dffb2"/><stop offset="0.150" stop-color="#00faff"/><stop offset="0.200" stop-color="#0061ff"/><stop offset="0.250" stop-color="#0000fb"/><stop offset="0.300" stop-color="#0000b3"/><stop offset="0.550" stop-color="#0000b3"/><stop offset="0.600" stop-color="#0000fb"/><stop offset="0.800" stop-color="#002eff"/><stop offset="0.850" stop-color="#006bff"/><stop offset="1.000" stop-color="#0075ff"/></linearGradient><linearGradient id="g5_20" x1="0" y1="0" x2="0" y2="1"><stop offset="0.000" stop-color="#d1ff2e"/><stop offset="0.050" stop-color="#bdff42"/><stop offset="0.120" stop-color="#4dffb2"/><stop offset="0.140" stop-color="#004dff"/><stop offset="0.250" stop-color="#0000d7"/><stop offset="0.300" stop-color="#0000b3"/><stop offset="0.550" stop-color="#0000b3"/><stop offset="0.600" stop-color="#0000fb"/><stop offset="0.800" stop-color="#002eff"/><stop offset="0.850" stop-color="#006bff"/><stop offset="1.000" stop-color="#0075ff"/></linearGradient><linearGradient id="g5_21" x1="0" y1="0" x2="0" y2="1"><stop offset="0.000" stop-color="#e5ff1a"/><stop offset="0.200" stop-color="#b3ff4c"/><stop offset="0.280" stop-color="#80ff80"/><stop offset="0.330" stop-color="#38ffc7"/><stop offset="0.380" stop-color="#00faff"/><stop offset="0.420" stop-color="#0000c5"/><stop offset="0.700" stop-color="#0000bc"/><stop offset="0.750" stop-color="#0019ff"/><stop offset="0.850" stop-color="#002eff"/><stop offset="0.880" stop-color="#006bff"/><stop offset="1.000" stop-color="#0075ff"/></linearGradient><linearGradient id="g5_22" x1="0" y1="0" x2="0" y2="1"><stop offset="0.000" stop-color="#faff05"/><stop offset="0.080" stop-color="#d1ff2e"/><stop offset="0.300" stop-color="#94ff6b"/><stop offset="0.400" stop-color="#00faff"/><stop offset="0.430" stop-color="#0000c5"/><stop offset="0.700" stop-color="#0000bc"/><stop offset="0.750" stop-color="#0019ff"/><stop offset="0.850" stop-color="#002eff"/><stop offset="0.880" stop-color="#006bff"/><stop offset="1.000" stop-color="#0075ff"/></linearGradient><linearGradient id="g5_23" x1="0" y1="0" x2="0" y2="1"><stop offset="0.000" stop-color="#faff05"/><stop offset="0.080" stop-color="#d1ff2e"/><stop offset="0.200" stop-color="#b3ff4c"/><stop offset="0.300" stop-color="#80ff80"/><stop offset="0.350" stop-color="#4dffb2"/><stop offset="0.400" stop-color="#00faff"/><stop offset="0.520" stop-color="#00faff"/><stop offset="0.550" stop-color="#0000d7"/><stop offset="0.700" stop-color="#0000c5"/><stop offset="0.750" stop-color="#0019ff"/><stop offset="0.850" stop-color="#002eff"/><stop offset="0.880" stop-color="#006bff"/><stop offset="1.000" stop-color="#0075ff"/></linearGradient><linearGradient id="g5_24" x1="0" y1="0" x2="0" y2="1"><stop offset="0.000" stop-color="#faff05"/><stop offset="0.050" stop-color="#e5ff1a"/><stop offset="0.250" stop-color="#bdff42"/><stop offset="0.300" stop-color="#6bff94"/><stop offset="0.330" stop-color="#1affe5"/><stop offset="0.360" stop-color="#009eff"/><stop offset="0.400" stop-color="#0000ce"/><stop offset="0.650" stop-color="#0000ce"/><stop offset="0.700" stop-color="#000fff"/><stop offset="0.800" stop-color="#0024ff"/><stop offset="0.850" stop-color="#006bff"/><stop offset="1.000" stop-color="#0075ff"/></linearGradient><linearGradient id="g5_25" x1="0" y1="0" x2="0" y2="1"><stop offset="0.000" stop-color="#faff05"/><stop offset="0.050" stop-color="#e5ff1a"/><stop offset="0.250" stop-color="#bdff42"/><stop offset="0.300" stop-color="#6bff94"/><stop offset="0.330" stop-color="#1affe5"/><stop offset="0.360" stop-color="#009eff"/><stop offset="0.400" stop-color="#0000ce"/><stop offset="0.650" stop-color="#0000ce"/><stop offset="0.700" stop-color="#000fff"/><stop offset="0.800" stop-color="#0024ff"/><stop offset="0.850" stop-color="#006bff"/><stop offset="1.000" stop-color="#0075ff"/></linearGradient><linearGradient id="g5_26" x1="0" y1="0" x2="0" y2="1"><stop offset="0.000" stop-color="#ff6100"/><stop offset="0.120" stop-color="#ff6100"/><stop offset="0.150" stop-color="#ffe500"/><stop offset="0.180" stop-color="#d1ff2e"/><stop offset="0.220" stop-color="#80ff80"/><stop offset="0.280" stop-color="#4dffb2"/><stop offset="0.330" stop-color="#05fffa"/><stop offset="0.360" stop-color="#0080ff"/><stop offset="0.400" stop-color="#0000e9"/><stop offset="0.650" stop-color="#0000e9"/><stop offset="0.700" stop-color="#002eff"/><stop offset="0.800" stop-color="#0038ff"/><stop offset="0.850" stop-color="#006bff"/><stop offset="1.000" stop-color="#0075ff"/></linearGradient><linearGradient id="g5_27" x1="0" y1="0" x2="0" y2="1"><stop offset="0.000" stop-color="#ff6100"/><stop offset="0.120" stop-color="#ff6100"/><stop offset="0.150" stop-color="#ffe500"/><stop offset="0.180" stop-color="#d1ff2e"/><stop offset="0.220" stop-color="#80ff80"/><stop offset="0.280" stop-color="#4dffb2"/><stop offset="0.330" stop-color="#05fffa"/><stop offset="0.440" stop-color="#00faff"/><stop offset="0.460" stop-color="#0000e9"/><stop offset="0.650" stop-color="#0000e9"/><stop offset="0.700" stop-color="#002eff"/><stop offset="0.800" stop-color="#0038ff"/><stop offset="0.850" stop-color="#006bff"/><stop offset="1.000" stop-color="#0075ff"/></linearGradient><linearGradient id="g5_28" x1="0" y1="0" x2="0" y2="1"><stop offset="0.000" stop-color="#ff4c00"/><stop offset="0.120" stop-color="#ff6100"/><stop offset="0.150" stop-color="#ffe500"/><stop offset="0.180" stop-color="#d1ff2e"/><stop offset="0.220" stop-color="#80ff80"/><stop offset="0.280" stop-color="#4dffb2"/><stop offset="0.330" stop-color="#05fffa"/><stop offset="0.360" stop-color="#0080ff"/><stop offset="0.400" stop-color="#0000e9"/><stop offset="0.650" stop-color="#0000e9"/><stop offset="0.700" stop-color="#002eff"/><stop offset="0.800" stop-color="#0038ff"/><stop offset="0.850" stop-color="#006bff"/><stop offset="1.000" stop-color="#0075ff"/></linearGradient><linearGradient id="g5_29" x1="0" y1="0" x2="0" y2="1"><stop offset="0.000" stop-color="#800000"/><stop offset="0.070" stop-color="#800000"/><stop offset="0.080" stop-color="#e60000"/><stop offset="0.100" stop-color="#ff8000"/><stop offset="0.120" stop-color="#faff05"/><stop offset="0.150" stop-color="#bdff42"/><stop offset="0.290" stop-color="#00faff"/><stop offset="0.310" stop-color="#0080ff"/><stop offset="0.340" stop-color="#0000fb"/><stop offset="0.500" stop-color="#0005ff"/><stop offset="0.550" stop-color="#0024ff"/><stop offset="0.700" stop-color="#0024ff"/><stop offset="0.750" stop-color="#0061ff"/><stop offset="1.000" stop-color="#006bff"/></linearGradient><linearGradient id="g5_30" x1="0" y1="0" x2="0" y2="1"><stop offset="0.000" stop-color="#800000"/><stop offset="0.070" stop-color="#800000"/><stop offset="0.080" stop-color="#e60000"/><stop offset="0.100" stop-color="#ff8000"/><stop offset="0.120" stop-color="#faff05"/><stop offset="0.150" stop-color="#bdff42"/><stop offset="0.290" stop-color="#00faff"/><stop offset="0.310" stop-color="#0080ff"/><stop offset="0.340" stop-color="#0000fb"/><stop offset="0.500" stop-color="#0005ff"/><stop offset="0.550" stop-color="#0024ff"/><stop offset="0.700" stop-color="#0024ff"/><stop offset="0.750" stop-color="#0061ff"/><stop offset="1.000" stop-color="#006bff"/></linearGradient><linearGradient id="g5_31" x1="0" y1="0" x2="0" y2="1"><stop offset="0.000" stop-color="#800000"/><stop offset="0.100" stop-color="#800000"/><stop offset="0.110" stop-color="#ff1a00"/><stop offset="0.120" stop-color="#faff05"/><stop offset="0.140" stop-color="#00faff"/><stop offset="0.170" stop-color="#00d1ff"/><stop offset="0.220" stop-color="#009eff"/><stop offset="0.260" stop-color="#0061ff"/><stop offset="0.300" stop-color="#0038ff"/><stop offset="0.350" stop-color="#0000c5"/><stop offset="0.550" stop-color="#0000bc"/><stop offset="0.600" stop-color="#0000fb"/><stop offset="0.750" stop-color="#0000fb"/><stop offset="0.800" stop-color="#0042ff"/><stop offset="1.000" stop-color="#004dff"/></linearGradient><linearGradient id="g5_32" x1="0" y1="0" x2="0" y2="1"><stop offset="0.000" stop-color="#800000"/><stop offset="0.080" stop-color="#800000"/><stop offset="0.090" stop-color="#ff4c00"/><stop offset="0.100" stop-color="#faff05"/><stop offset="0.120" stop-color="#1affe5"/><stop offset="0.150" stop-color="#00faff"/><stop offset="0.170" stop-color="#00bdff"/><stop offset="0.270" stop-color="#0042ff"/><stop offset="0.320" stop-color="#0000e9"/><stop offset="0.350" stop-color="#0000bc"/><stop offset="0.600" stop-color="#0000bc"/><stop offset="0.650" stop-color="#0000e0"/><stop offset="0.750" stop-color="#0000e9"/><stop offset="0.800" stop-color="#0042ff"/><stop offset="1.000" stop-color="#0042ff"/></linearGradient><linearGradient id="g5_33" x1="0" y1="0" x2="0" y2="1"><stop offset="0.000" stop-color="#800000"/><stop offset="0.080" stop-color="#800000"/><stop offset="0.090" stop-color="#ff4c00"/><stop offset="0.100" stop-color="#faff05"/><stop offset="0.120" stop-color="#1affe5"/><stop offset="0.150" stop-color="#00faff"/><stop offset="0.170" stop-color="#00bdff"/><stop offset="0.270" stop-color="#0042ff"/><stop offset="0.320" stop-color="#0000e9"/><stop offset="0.350" stop-color="#0000bc"/><stop offset="0.600" stop-color="#0000bc"/><stop offset="0.650" stop-color="#0000e0"/><stop offset="0.750" stop-color="#0000e9"/><stop offset="0.800" stop-color="#0042ff"/><stop offset="1.000" stop-color="#0042ff"/></linearGradient><linearGradient id="g5_34" x1="0" y1="0" x2="0" y2="1"><stop offset="0.000" stop-color="#ff3800"/><stop offset="0.080" stop-color="#ff4c00"/><stop offset="0.100" stop-color="#faff05"/><stop offset="0.130" stop-color="#1affe5"/><stop offset="0.160" stop-color="#00faff"/><stop offset="0.180" stop-color="#0080ff"/><stop offset="0.250" stop-color="#0042ff"/><stop offset="0.300" stop-color="#0000c5"/><stop offset="0.650" stop-color="#0000c5"/><stop offset="0.700" stop-color="#0000fb"/><stop offset="0.800" stop-color="#0005ff"/><stop offset="0.850" stop-color="#0042ff"/><stop offset="1.000" stop-color="#0042ff"/></linearGradient><linearGradient id="g5_35" x1="0" y1="0" x2="0" y2="1"><stop offset="0.000" stop-color="#800000"/><stop offset="0.080" stop-color="#b30000"/><stop offset="0.100" stop-color="#ffe500"/><stop offset="0.130" stop-color="#1affe5"/><stop offset="0.160" stop-color="#00faff"/><stop offset="0.180" stop-color="#0080ff"/><stop offset="0.250" stop-color="#0042ff"/><stop offset="0.300" stop-color="#0000c5"/><stop offset="0.650" stop-color="#0000c5"/><stop offset="0.700" stop-color="#0000fb"/><stop offset="0.800" stop-color="#0005ff"/><stop offset="0.850" stop-color="#0042ff"/><stop offset="1.000" stop-color="#0042ff"/></linearGradient><linearGradient id="g5_36" x1="0" y1="0" x2="0" y2="1"><stop offset="0.000" stop-color="#ff9e00"/><stop offset="0.100" stop-color="#ffb300"/><stop offset="0.130" stop-color="#faff05"/><stop offset="0.160" stop-color="#1affe5"/><stop offset="0.180" stop-color="#00faff"/><stop offset="0.200" stop-color="#0080ff"/><stop offset="0.250" stop-color="#0061ff"/><stop offset="0.300" stop-color="#0000ce"/><stop offset="0.600" stop-color="#0000ce"/><stop offset="0.650" stop-color="#000fff"/><stop offset="0.800" stop-color="#000fff"/><stop offset="0.850" stop-color="#004dff"/><stop offset="1.000" stop-color="#004dff"/></linearGradient><linearGradient id="g5_37" x1="0" y1="0" x2="0" y2="1"><stop offset="0.000" stop-color="#faff05"/><stop offset="0.150" stop-color="#e5ff1a"/><stop offset="0.170" stop-color="#00faff"/><stop offset="0.200" stop-color="#0080ff"/><stop offset="0.250" stop-color="#0061ff"/><stop offset="0.300" stop-color="#0000ce"/><stop offset="0.600" stop-color="#0000ce"/><stop offset="0.650" stop-color="#000fff"/><stop offset="0.800" stop-color="#000fff"/><stop offset="0.850" stop-color="#004dff"/><stop offset="1.000" stop-color="#004dff"/></linearGradient><linearGradient id="g5_38" x1="0" y1="0" x2="0" y2="1"><stop offset="0.000" stop-color="#faff05"/><stop offset="0.150" stop-color="#e5ff1a"/><stop offset="0.170" stop-color="#00faff"/><stop offset="0.200" stop-color="#0080ff"/><stop offset="0.250" stop-color="#0061ff"/><stop offset="0.300" stop-color="#0000ce"/><stop offset="0.600" stop-color="#0000ce"/><stop offset="0.650" stop-color="#000fff"/><stop offset="0.800" stop-color="#000fff"/><stop offset="0.850" stop-color="#004dff"/><stop offset="1.000" stop-color="#004dff"/></linearGradient><linearGradient id="g5_39" x1="0" y1="0" x2="0" y2="1"><stop offset="0.000" stop-color="#d1ff2e"/><stop offset="0.150" stop-color="#c7ff38"/><stop offset="0.230" stop-color="#4dffb2"/><stop offset="0.250" stop-color="#00faff"/><stop offset="0.280" stop-color="#0080ff"/><stop offset="0.320" stop-color="#0000e9"/><stop offset="0.350" stop-color="#0000d7"/><stop offset="0.550" stop-color="#0000d7"/><stop offset="0.600" stop-color="#0005ff"/><stop offset="0.700" stop-color="#0038ff"/><stop offset="1.000" stop-color="#0042ff"/></linearGradient><linearGradient id="g5_40" x1="0" y1="0" x2="0" y2="1"><stop offset="0.000" stop-color="#c7ff38"/><stop offset="0.150" stop-color="#bdff42"/><stop offset="0.200" stop-color="#80ff80"/><stop offset="0.230" stop-color="#4dffb2"/><stop offset="0.250" stop-color="#00faff"/><stop offset="0.280" stop-color="#0080ff"/><stop offset="0.320" stop-color="#0000e9"/><stop offset="0.350" stop-color="#0000d7"/><stop offset="0.550" stop-color="#0000d7"/><stop offset="0.600" stop-color="#0005ff"/><stop offset="0.700" stop-color="#0038ff"/><stop offset="1.000" stop-color="#0042ff"/></linearGradient><linearGradient id="g5_41" x1="0" y1="0" x2="0" y2="1"><stop offset="0.000" stop-color="#e5ff1a"/><stop offset="0.080" stop-color="#e5ff1a"/><stop offset="0.150" stop-color="#bdff42"/><stop offset="0.200" stop-color="#80ff80"/><stop offset="0.230" stop-color="#4dffb2"/><stop offset="0.250" stop-color="#00faff"/><stop offset="0.280" stop-color="#0080ff"/><stop offset="0.320" stop-color="#0000e9"/><stop offset="0.350" stop-color="#0000d7"/><stop offset="0.550" stop-color="#0000d7"/><stop offset="0.600" stop-color="#0005ff"/><stop offset="0.700" stop-color="#0038ff"/><stop offset="1.000" stop-color="#0042ff"/></linearGradient><linearGradient id="g5_42" x1="0" y1="0" x2="0" y2="1"><stop offset="0.000" stop-color="#ff7500"/><stop offset="0.100" stop-color="#ff8000"/><stop offset="0.120" stop-color="#faff05"/><stop offset="0.150" stop-color="#80ff80"/><stop offset="0.200" stop-color="#1affe5"/><stop offset="0.220" stop-color="#00faff"/><stop offset="0.250" stop-color="#0080ff"/><stop offset="0.300" stop-color="#0000e9"/><stop offset="0.600" stop-color="#0000fb"/><stop offset="0.650" stop-color="#004dff"/><stop offset="0.950" stop-color="#0075ff"/><stop offset="1.000" stop-color="#0061ff"/></linearGradient><linearGradient id="g5_43" x1="0" y1="0" x2="0" y2="1"><stop offset="0.000" stop-color="#800000"/><stop offset="0.080" stop-color="#800000"/><stop offset="0.100" stop-color="#ff4c00"/><stop offset="0.120" stop-color="#faff05"/><stop offset="0.160" stop-color="#4dffb2"/><stop offset="0.220" stop-color="#00faff"/><stop offset="0.250" stop-color="#0061ff"/><stop offset="0.300" stop-color="#0000ce"/><stop offset="0.600" stop-color="#0000d7"/><stop offset="0.650" stop-color="#004dff"/><stop offset="0.950" stop-color="#0075ff"/><stop offset="1.000" stop-color="#0061ff"/></linearGradient><linearGradient id="g5_44" x1="0" y1="0" x2="0" y2="1"><stop offset="0.000" stop-color="#800000"/><stop offset="0.080" stop-color="#800000"/><stop offset="0.100" stop-color="#ff4c00"/><stop offset="0.120" stop-color="#faff05"/><stop offset="0.160" stop-color="#4dffb2"/><stop offset="0.220" stop-color="#00faff"/><stop offset="0.250" stop-color="#0061ff"/><stop offset="0.300" stop-color="#0000ce"/><stop offset="0.600" stop-color="#0000d7"/><stop offset="0.700" stop-color="#000fff"/><stop offset="0.950" stop-color="#0019ff"/><stop offset="1.000" stop-color="#004dff"/></linearGradient><linearGradient id="g5_45" x1="0" y1="0" x2="0" y2="1"><stop offset="0.000" stop-color="#800000"/><stop offset="0.080" stop-color="#800000"/><stop offset="0.100" stop-color="#ff6100"/><stop offset="0.120" stop-color="#b3ff4c"/><stop offset="0.160" stop-color="#4dffb2"/><stop offset="0.200" stop-color="#1affe5"/><stop offset="0.230" stop-color="#0080ff"/><stop offset="0.280" stop-color="#0042ff"/><stop offset="0.320" stop-color="#0000c5"/><stop offset="0.800" stop-color="#0000c5"/><stop offset="0.850" stop-color="#0038ff"/><stop offset="1.000" stop-color="#0042ff"/></linearGradient><linearGradient id="g5_46" x1="0" y1="0" x2="0" y2="1"><stop offset="0.000" stop-color="#800000"/><stop offset="0.090" stop-color="#800000"/><stop offset="0.100" stop-color="#ff8000"/><stop offset="0.110" stop-color="#faff05"/><stop offset="0.130" stop-color="#4dffb2"/><stop offset="0.180" stop-color="#2effd1"/><stop offset="0.230" stop-color="#00faff"/><stop offset="0.260" stop-color="#009eff"/><stop offset="0.300" stop-color="#0042ff"/><stop offset="0.360" stop-color="#0000e0"/><stop offset="0.450" stop-color="#0000aa"/><stop offset="0.700" stop-color="#0000aa"/><stop offset="0.780" stop-color="#0000fb"/><stop offset="0.850" stop-color="#0005ff"/><stop offset="0.900" stop-color="#0038ff"/><stop offset="1.000" stop-color="#0038ff"/></linearGradient><linearGradient id="g5_47" x1="0" y1="0" x2="0" y2="1"><stop offset="0.000" stop-color="#800000"/><stop offset="0.090" stop-color="#800000"/><stop offset="0.100" stop-color="#ff8000"/><stop offset="0.110" stop-color="#faff05"/><stop offset="0.130" stop-color="#4dffb2"/><stop offset="0.180" stop-color="#2effd1"/><stop offset="0.230" stop-color="#00faff"/><stop offset="0.260" stop-color="#009eff"/><stop offset="0.300" stop-color="#0042ff"/><stop offset="0.360" stop-color="#0000e0"/><stop offset="0.450" stop-color="#0000aa"/><stop offset="0.700" stop-color="#0000aa"/><stop offset="0.780" stop-color="#0000fb"/><stop offset="0.850" stop-color="#0005ff"/><stop offset="0.900" stop-color="#0038ff"/><stop offset="1.000" stop-color="#0038ff"/></linearGradient><linearGradient id="g5_48" x1="0" y1="0" x2="0" y2="1"><stop offset="0.000" stop-color="#fa0000"/><stop offset="0.110" stop-color="#ff0f00"/><stop offset="0.130" stop-color="#ffe500"/><stop offset="0.150" stop-color="#e5ff1a"/><stop offset="0.180" stop-color="#1affe5"/><stop offset="0.210" stop-color="#00faff"/><stop offset="0.240" stop-color="#0061ff"/><stop offset="0.300" stop-color="#004dff"/><stop offset="0.350" stop-color="#0000c5"/><stop offset="0.800" stop-color="#0000d7"/><stop offset="0.850" stop-color="#0038ff"/><stop offset="1.000" stop-color="#0038ff"/></linearGradient><linearGradient id="g5_49" x1="0" y1="0" x2="0" y2="1"><stop offset="0.000" stop-color="#ffb300"/><stop offset="0.100" stop-color="#ffb300"/><stop offset="0.130" stop-color="#ffe500"/><stop offset="0.150" stop-color="#e5ff1a"/><stop offset="0.180" stop-color="#1affe5"/><stop offset="0.210" stop-color="#00faff"/><stop offset="0.240" stop-color="#0061ff"/><stop offset="0.300" stop-color="#004dff"/><stop offset="0.350" stop-color="#0000c5"/><stop offset="0.800" stop-color="#0000d7"/><stop offset="0.850" stop-color="#0038ff"/><stop offset="1.000" stop-color="#0038ff"/></linearGradient><clipPath id="cq0"><rect x="131.0" y="101.2" width="1405.5" height="192.5"/></clipPath><clipPath id="cq1"><rect x="131.0" y="374.9" width="1405.5" height="192.5"/></clipPath><clipPath id="cq2"><rect x="131.0" y="648.7" width="1405.5" height="192.5"/></clipPath><clipPath id="cq3"><rect x="131.0" y="922.5" width="1405.5" height="192.5"/></clipPath><clipPath id="cq4"><rect x="131.0" y="1196.2" width="1405.5" height="192.5"/></clipPath><linearGradient id="cb0" x1="0" y1="0" x2="0" y2="1"><stop offset="0.000" stop-color="#f9fb15"/><stop offset="0.031" stop-color="#f8ee1d"/><stop offset="0.062" stop-color="#f6e124"/><stop offset="0.094" stop-color="#f9d52c"/><stop offset="0.125" stop-color="#fcc933"/><stop offset="0.156" stop-color="#fac037"/><stop offset="0.188" stop-color="#f3bb37"/><stop offset="0.219" stop-color="#e1ba33"/><stop offset="0.250" stop-color="#c8bc2d"/><stop offset="0.281" stop-color="#afc03b"/><stop offset="0.312" stop-color="#95c348"/><stop offset="0.344" stop-color="#7cc559"/><stop offset="0.375" stop-color="#62c56e"/><stop offset="0.406" stop-color="#47c583"/><stop offset="0.438" stop-color="#33c395"/><stop offset="0.469" stop-color="#24c1a4"/><stop offset="0.500" stop-color="#14beb4"/><stop offset="0.531" stop-color="#11b9be"/><stop offset="0.562" stop-color="#0eb5c8"/><stop offset="0.594" stop-color="#0faed1"/><stop offset="0.625" stop-color="#15a6da"/><stop offset="0.656" stop-color="#1b9fe2"/><stop offset="0.688" stop-color="#2296ea"/><stop offset="0.719" stop-color="#288cf1"/><stop offset="0.750" stop-color="#2e82f8"/><stop offset="0.781" stop-color="#3676f9"/><stop offset="0.812" stop-color="#3d6af9"/><stop offset="0.844" stop-color="#445ef8"/><stop offset="0.875" stop-color="#454feb"/><stop offset="0.906" stop-color="#4640dd"/><stop offset="0.938" stop-color="#4535cd"/><stop offset="0.969" stop-color="#422dba"/><stop offset="1.000" stop-color="#3e26a8"/></linearGradient><linearGradient id="cb1" x1="0" y1="0" x2="0" y2="1"><stop offset="0.000" stop-color="#f9fb15"/><stop offset="0.031" stop-color="#f8ee1d"/><stop offset="0.062" stop-color="#f6e124"/><stop offset="0.094" stop-color="#f9d52c"/><stop offset="0.125" stop-color="#fcc933"/><stop offset="0.156" stop-color="#fac037"/><stop offset="0.188" stop-color="#f3bb37"/><stop offset="0.219" stop-color="#e1ba33"/><stop offset="0.250" stop-color="#c8bc2d"/><stop offset="0.281" stop-color="#afc03b"/><stop offset="0.312" stop-color="#95c348"/><stop offset="0.344" stop-color="#7cc559"/><stop offset="0.375" stop-color="#62c56e"/><stop offset="0.406" stop-color="#47c583"/><stop offset="0.438" stop-color="#33c395"/><stop offset="0.469" stop-color="#24c1a4"/><stop offset="0.500" stop-color="#14beb4"/><stop offset="0.531" stop-color="#11b9be"/><stop offset="0.562" stop-color="#0eb5c8"/><stop offset="0.594" stop-color="#0faed1"/><stop offset="0.625" stop-color="#15a6da"/><stop offset="0.656" stop-color="#1b9fe2"/><stop offset="0.688" stop-color="#2296ea"/><stop offset="0.719" stop-color="#288cf1"/><stop offset="0.750" stop-color="#2e82f8"/><stop offset="0.781" stop-color="#3676f9"/><stop offset="0.812" stop-color="#3d6af9"/><stop offset="0.844" stop-color="#445ef8"/><stop offset="0.875" stop-color="#454feb"/><stop offset="0.906" stop-color="#4640dd"/><stop offset="0.938" stop-color="#4535cd"/><stop offset="0.969" stop-color="#422dba"/><stop offset="1.000" stop-color="#3e26a8"/></linearGradient><linearGradient id="cb2" x1="0" y1="0" x2="0" y2="1"><stop offset="0.000" stop-color="#f9fb15"/><stop offset="0.031" stop-color="#f8ee1d"/><stop offset="0.062" stop-color="#f6e124"/><stop offset="0.094" stop-color="#f9d52c"/><stop offset="0.125" stop-color="#fcc933"/><stop offset="0.156" stop-color="#fac037"/><stop offset="0.188" stop-color="#f3bb37"/><stop offset="0.219" stop-color="#e1ba33"/><stop offset="0.250" stop-color="#c8bc2d"/><stop offset="0.281" stop-color="#afc03b"/><stop offset="0.312" stop-color="#95c348"/><stop offset="0.344" stop-color="#7cc559"/><stop offset="0.375" stop-color="#62c56e"/><stop offset="0.406" stop-color="#47c583"/><stop offset="0.438" stop-color="#33c395"/><stop offset="0.469" stop-color="#24c1a4"/><stop offset="0.500" stop-color="#14beb4"/><stop offset="0.531" stop-color="#11b9be"/><stop offset="0.562" stop-color="#0eb5c8"/><stop offset="0.594" stop-color="#0faed1"/><stop offset="0.625" stop-color="#15a6da"/><stop offset="0.656" stop-color="#1b9fe2"/><stop offset="0.688" stop-color="#2296ea"/><stop offset="0.719" stop-color="#288cf1"/><stop offset="0.750" stop-color="#2e82f8"/><stop offset="0.781" stop-color="#3676f9"/><stop offset="0.812" stop-color="#3d6af9"/><stop offset="0.844" stop-color="#445ef8"/><stop offset="0.875" stop-color="#454feb"/><stop offset="0.906" stop-color="#4640dd"/><stop offset="0.938" stop-color="#4535cd"/><stop offset="0.969" stop-color="#422dba"/><stop offset="1.000" stop-color="#3e26a8"/></linearGradient><linearGradient id="cb3" x1="0" y1="0" x2="0" y2="1"><stop offset="0.000" stop-color="#f9fb15"/><stop offset="0.031" stop-color="#f8ee1d"/><stop offset="0.062" stop-color="#f6e124"/><stop offset="0.094" stop-color="#f9d52c"/><stop offset="0.125" stop-color="#fcc933"/><stop offset="0.156" stop-color="#fac037"/><stop offset="0.188" stop-color="#f3bb37"/><stop offset="0.219" stop-color="#e1ba33"/><stop offset="0.250" stop-color="#c8bc2d"/><stop offset="0.281" stop-color="#afc03b"/><stop offset="0.312" stop-color="#95c348"/><stop offset="0.344" stop-color="#7cc559"/><stop offset="0.375" stop-color="#62c56e"/><stop offset="0.406" stop-color="#47c583"/><stop offset="0.438" stop-color="#33c395"/><stop offset="0.469" stop-color="#24c1a4"/><stop offset="0.500" stop-color="#14beb4"/><stop offset="0.531" stop-color="#11b9be"/><stop offset="0.562" stop-color="#0eb5c8"/><stop offset="0.594" stop-color="#0faed1"/><stop offset="0.625" stop-color="#15a6da"/><stop offset="0.656" stop-color="#1b9fe2"/><stop offset="0.688" stop-color="#2296ea"/><stop offset="0.719" stop-color="#288cf1"/><stop offset="0.750" stop-color="#2e82f8"/><stop offset="0.781" stop-color="#3676f9"/><stop offset="0.812" stop-color="#3d6af9"/><stop offset="0.844" stop-color="#445ef8"/><stop offset="0.875" stop-color="#454feb"/><stop offset="0.906" stop-color="#4640dd"/><stop offset="0.938" stop-color="#4535cd"/><stop offset="0.969" stop-color="#422dba"/><stop offset="1.000" stop-color="#3e26a8"/></linearGradient><linearGradient id="cb4" x1="0" y1="0" x2="0" y2="1"><stop offset="0.000" stop-color="#f9fb15"/><stop offset="0.031" stop-color="#f8ee1d"/><stop offset="0.062" stop-color="#f6e124"/><stop offset="0.094" stop-color="#f9d52c"/><stop offset="0.125" stop-color="#fcc933"/><stop offset="0.156" stop-color="#fac037"/><stop offset="0.188" stop-color="#f3bb37"/><stop offset="0.219" stop-color="#e1ba33"/><stop offset="0.250" stop-color="#c8bc2d"/><stop offset="0.281" stop-color="#afc03b"/><stop offset="0.312" stop-color="#95c348"/><stop offset="0.344" stop-color="#7cc559"/><stop offset="0.375" stop-color="#62c56e"/><stop offset="0.406" stop-color="#47c583"/><stop offset="0.438" stop-color="#33c395"/><stop offset="0.469" stop-color="#24c1a4"/><stop offset="0.500" stop-color="#14beb4"/><stop offset="0.531" stop-color="#11b9be"/><stop offset="0.562" stop-color="#0eb5c8"/><stop offset="0.594" stop-color="#0faed1"/><stop offset="0.625" stop-color="#15a6da"/><stop offset="0.656" stop-color="#1b9fe2"/><stop offset="0.688" stop-color="#2296ea"/><stop offset="0.719" stop-color="#288cf1"/><stop offset="0.750" stop-color="#2e82f8"/><stop offset="0.781" stop-color="#3676f9"/><stop offset="0.812" stop-color="#3d6af9"/><stop offset="0.844" stop-color="#445ef8"/><stop offset="0.875" stop-color="#454feb"/><stop offset="0.906" stop-color="#4640dd"/><stop offset="0.938" stop-color="#4535cd"/><stop offset="0.969" stop-color="#422dba"/><stop offset="1.000" stop-color="#3e26a8"/></linearGradient><linearGradient id="cb5" x1="0" y1="0" x2="0" y2="1"><stop offset="0.000" stop-color="#800000"/><stop offset="0.031" stop-color="#a00000"/><stop offset="0.062" stop-color="#c00000"/><stop offset="0.094" stop-color="#df0000"/><stop offset="0.125" stop-color="#ff0000"/><stop offset="0.156" stop-color="#ff2000"/><stop offset="0.188" stop-color="#ff4000"/><stop offset="0.219" stop-color="#ff6000"/><stop offset="0.250" stop-color="#ff8000"/><stop offset="0.281" stop-color="#ff9f00"/><stop offset="0.312" stop-color="#ffbf00"/><stop offset="0.344" stop-color="#ffdf00"/><stop offset="0.375" stop-color="#ffff00"/><stop offset="0.406" stop-color="#dfff20"/><stop offset="0.438" stop-color="#bfff40"/><stop offset="0.469" stop-color="#9fff60"/><stop offset="0.500" stop-color="#80ff80"/><stop offset="0.531" stop-color="#60ff9f"/><stop offset="0.562" stop-color="#40ffbf"/><stop offset="0.594" stop-color="#20ffdf"/><stop offset="0.625" stop-color="#00ffff"/><stop offset="0.656" stop-color="#00dfff"/><stop offset="0.688" stop-color="#00bfff"/><stop offset="0.719" stop-color="#009fff"/><stop offset="0.750" stop-color="#0080ff"/><stop offset="0.781" stop-color="#0060ff"/><stop offset="0.812" stop-color="#0040ff"/><stop offset="0.844" stop-color="#0020ff"/><stop offset="0.875" stop-color="#0000ff"/><stop offset="0.906" stop-color="#0000e3"/><stop offset="0.938" stop-color="#0000c7"/><stop offset="0.969" stop-color="#0000ab"/><stop offset="1.000" stop-color="#00008f"/></linearGradient></defs>
<g clip-path="url(#cp0)"><rect x="126.0" y="100.2" width="-0.5" height="194.5" fill="url(#g0_0)"/><rect x="125.0" y="100.2" width="25.5" height="194.5" fill="url(#g0_0)"/><rect x="125.0" y="100.2" width="25.5" height="194.5" fill="url(#g0_1)" mask="url(#ramp)"/><rect x="150.0" y="100.2" width="10.5" height="194.5" fill="url(#g0_1)"/><rect x="150.0" y="100.2" width="10.5" height="194.5" fill="url(#g0_2)" mask="url(#ramp)"/><rect x="160.0" y="100.2" width="40.5" height="194.5" fill="url(#g0_2)"/><rect x="160.0" y="100.2" width="40.5" height="194.5" fill="url(#g0_3)" mask="url(#ramp)"/><rect x="200.0" y="100.2" width="40.5" height="194.5" fill="url(#g0_3)"/><rect x="200.0" y="100.2" width="40.5" height="194.5" fill="url(#g0_4)" mask="url(#ramp)"/><rect x="240.0" y="100.2" width="50.5" height="194.5" fill="url(#g0_4)"/><rect x="240.0" y="100.2" width="50.5" height="194.5" fill="url(#g0_5)" mask="url(#ramp)"/><rect x="290.0" y="100.2" width="60.5" height="194.5" fill="url(#g0_5)"/><rect x="290.0" y="100.2" width="60.5" height="194.5" fill="url(#g0_6)" mask="url(#ramp)"/><rect x="350.0" y="100.2" width="70.5" height="194.5" fill="url(#g0_6)"/><rect x="350.0" y="100.2" width="70.5" height="194.5" fill="url(#g0_7)" mask="url(#ramp)"/><rect x="420.0" y="100.2" width="55.5" height="194.5" fill="url(#g0_7)"/><rect x="420.0" y="100.2" width="55.5" height="194.5" fill="url(#g0_8)" mask="url(#ramp)"/><rect x="475.0" y="100.2" width="35.5" height="194.5" fill="url(#g0_8)"/><rect x="475.0" y="100.2" width="35.5" height="194.5" fill="url(#g0_9)" mask="url(#ramp)"/><rect x="510.0" y="100.2" width="40.5" height="194.5" fill="url(#g0_9)"/><rect x="510.0" y="100.2" width="40.5" height="194.5" fill="url(#g0_10)" mask="url(#ramp)"/><rect x="550.0" y="100.2" width="10.5" height="194.5" fill="url(#g0_10)"/><rect x="550.0" y="100.2" width="10.5" height="194.5" fill="url(#g0_11)" mask="url(#ramp)"/><rect x="560.0" y="100.2" width="25.5" height="194.5" fill="url(#g0_11)"/><rect x="560.0" y="100.2" width="25.5" height="194.5" fill="url(#g0_12)" mask="url(#ramp)"/><rect x="585.0" y="100.2" width="10.5" height="194.5" fill="url(#g0_12)"/><rect x="585.0" y="100.2" width="10.5" height="194.5" fill="url(#g0_13)" mask="url(#ramp)"/><rect x="595.0" y="100.2" width="45.5" height="194.5" fill="url(#g0_13)"/><rect x="595.0" y="100.2" width="45.5" height="194.5" fill="url(#g0_14)" mask="url(#ramp)"/><rect x="640.0" y="100.2" width="30.5" height="194.5" fill="url(#g0_14)"/><rect x="640.0" y="100.2" width="30.5" height="194.5" fill="url(#g0_15)" mask="url(#ramp)"/><rect x="670.0" y="100.2" width="30.5" height="194.5" fill="url(#g0_15)"/><rect x="670.0" y="100.2" width="30.5" height="194.5" fill="url(#g0_16)" mask="url(#ramp)"/><rect x="700.0" y="100.2" width="20.5" height="194.5" fill="url(#g0_16)"/><rect x="700.0" y="100.2" width="20.5" height="194.5" fill="url(#g0_17)" mask="url(#ramp)"/><rect x="720.0" y="100.2" width="25.5" height="194.5" fill="url(#g0_17)"/><rect x="720.0" y="100.2" width="25.5" height="194.5" fill="url(#g0_18)" mask="url(#ramp)"/><rect x="745.0" y="100.2" width="20.5" height="194.5" fill="url(#g0_18)"/><rect x="745.0" y="100.2" width="20.5" height="194.5" fill="url(#g0_19)" mask="url(#ramp)"/><rect x="765.0" y="100.2" width="25.5" height="194.5" fill="url(#g0_19)"/><rect x="765.0" y="100.2" width="25.5" height="194.5" fill="url(#g0_20)" mask="url(#ramp)"/><rect x="790.0" y="100.2" width="20.5" height="194.5" fill="url(#g0_20)"/><rect x="790.0" y="100.2" width="20.5" height="194.5" fill="url(#g0_21)" mask="url(#ramp)"/><rect x="810.0" y="100.2" width="20.5" height="194.5" fill="url(#g0_21)"/><rect x="810.0" y="100.2" width="20.5" height="194.5" fill="url(#g0_22)" mask="url(#ramp)"/><rect x="830.0" y="100.2" width="30.5" height="194.5" fill="url(#g0_22)"/><rect x="830.0" y="100.2" width="30.5" height="194.5" fill="url(#g0_23)" mask="url(#ramp)"/><rect x="860.0" y="100.2" width="40.5" height="194.5" fill="url(#g0_23)"/><rect x="860.0" y="100.2" width="40.5" height="194.5" fill="url(#g0_24)" mask="url(#ramp)"/><rect x="900.0" y="100.2" width="45.5" height="194.5" fill="url(#g0_24)"/><rect x="900.0" y="100.2" width="45.5" height="194.5" fill="url(#g0_25)" mask="url(#ramp)"/><rect x="945.0" y="100.2" width="10.5" height="194.5" fill="url(#g0_25)"/><rect x="945.0" y="100.2" width="10.5" height="194.5" fill="url(#g0_26)" mask="url(#ramp)"/><rect x="955.0" y="100.2" width="55.5" height="194.5" fill="url(#g0_26)"/><rect x="955.0" y="100.2" width="55.5" height="194.5" fill="url(#g0_27)" mask="url(#ramp)"/><rect x="1010.0" y="100.2" width="30.5" height="194.5" fill="url(#g0_27)"/><rect x="1010.0" y="100.2" width="30.5" height="194.5" fill="url(#g0_28)" mask="url(#ramp)"/><rect x="1040.0" y="100.2" width="20.5" height="194.5" fill="url(#g0_28)"/><rect x="1040.0" y="100.2" width="20.5" height="194.5" fill="url(#g0_29)" mask="url(#ramp)"/><rect x="1060.0" y="100.2" width="44.5" height="194.5" fill="url(#g0_29)"/><rect x="1060.0" y="100.2" width="44.5" height="194.5" fill="url(#g0_30)" mask="url(#ramp)"/><rect x="1104.0" y="100.2" width="7.5" height="194.5" fill="url(#g0_30)"/><rect x="1104.0" y="100.2" width="7.5" height="194.5" fill="url(#g0_31)" mask="url(#ramp)"/><rect x="1111.0" y="100.2" width="139.5" height="194.5" fill="url(#g0_31)"/><rect x="1111.0" y="100.2" width="139.5" height="194.5" fill="url(#g0_32)" mask="url(#ramp)"/><rect x="1250.0" y="100.2" width="21.5" height="194.5" fill="url(#g0_32)"/><rect x="1250.0" y="100.2" width="21.5" height="194.5" fill="url(#g0_33)" mask="url(#ramp)"/><rect x="1271.0" y="100.2" width="5.5" height="194.5" fill="url(#g0_33)"/><rect x="1271.0" y="100.2" width="5.5" height="194.5" fill="url(#g0_34)" mask="url(#ramp)"/><rect x="1276.0" y="100.2" width="24.5" height="194.5" fill="url(#g0_34)"/><rect x="1276.0" y="100.2" width="24.5" height="194.5" fill="url(#g0_35)" mask="url(#ramp)"/><rect x="1300.0" y="100.2" width="40.5" height="194.5" fill="url(#g0_35)"/><rect x="1300.0" y="100.2" width="40.5" height="194.5" fill="url(#g0_36)" mask="url(#ramp)"/><rect x="1340.0" y="100.2" width="50.5" height="194.5" fill="url(#g0_36)"/><rect x="1340.0" y="100.2" width="50.5" height="194.5" fill="url(#g0_37)" mask="url(#ramp)"/><rect x="1390.0" y="100.2" width="50.5" height="194.5" fill="url(#g0_37)"/><rect x="1390.0" y="100.2" width="50.5" height="194.5" fill="url(#g0_38)" mask="url(#ramp)"/><rect x="1440.0" y="100.2" width="40.5" height="194.5" fill="url(#g0_38)"/><rect x="1440.0" y="100.2" width="40.5" height="194.5" fill="url(#g0_39)" mask="url(#ramp)"/><rect x="1480.0" y="100.2" width="30.5" height="194.5" fill="url(#g0_39)"/><rect x="1480.0" y="100.2" width="30.5" height="194.5" fill="url(#g0_40)" mask="url(#ramp)"/><rect x="1510.0" y="100.2" width="35.5" height="194.5" fill="url(#g0_40)"/><rect x="1510.0" y="100.2" width="35.5" height="194.5" fill="url(#g0_41)" mask="url(#ramp)"/></g><g clip-path="url(#cp1)"><rect x="126.0" y="373.9" width="-0.5" height="194.5" fill="url(#g1_0)"/><rect x="125.0" y="373.9" width="35.5" height="194.5" fill="url(#g1_0)"/><rect x="125.0" y="373.9" width="35.5" height="194.5" fill="url(#g1_1)" mask="url(#ramp)"/><rect x="160.0" y="373.9" width="130.5" height="194.5" fill="url(#g1_1)"/><rect x="160.0" y="373.9" width="130.5" height="194.5" fill="url(#g1_2)" mask="url(#ramp)"/><rect x="290.0" y="373.9" width="55.5" height="194.5" fill="url(#g1_2)"/><rect x="290.0" y="373.9" width="55.5" height="194.5" fill="url(#g1_3)" mask="url(#ramp)"/><rect x="345.0" y="373.9" width="55.5" height="194.5" fill="url(#g1_3)"/><rect x="345.0" y="373.9" width="55.5" height="194.5" fill="url(#g1_4)" mask="url(#ramp)"/><rect x="400.0" y="373.9" width="75.5" height="194.5" fill="url(#g1_4)"/><rect x="400.0" y="373.9" width="75.5" height="194.5" fill="url(#g1_5)" mask="url(#ramp)"/><rect x="475.0" y="373.9" width="75.5" height="194.5" fill="url(#g1_5)"/><rect x="475.0" y="373.9" width="75.5" height="194.5" fill="url(#g1_6)" mask="url(#ramp)"/><rect x="550.0" y="373.9" width="35.5" height="194.5" fill="url(#g1_6)"/><rect x="550.0" y="373.9" width="35.5" height="194.5" fill="url(#g1_7)" mask="url(#ramp)"/><rect x="585.0" y="373.9" width="40.5" height="194.5" fill="url(#g1_7)"/><rect x="585.0" y="373.9" width="40.5" height="194.5" fill="url(#g1_8)" mask="url(#ramp)"/><rect x="625.0" y="373.9" width="15.5" height="194.5" fill="url(#g1_8)"/><rect x="625.0" y="373.9" width="15.5" height="194.5" fill="url(#g1_9)" mask="url(#ramp)"/><rect x="640.0" y="373.9" width="30.5" height="194.5" fill="url(#g1_9)"/><rect x="640.0" y="373.9" width="30.5" height="194.5" fill="url(#g1_10)" mask="url(#ramp)"/><rect x="670.0" y="373.9" width="20.5" height="194.5" fill="url(#g1_10)"/><rect x="670.0" y="373.9" width="20.5" height="194.5" fill="url(#g1_11)" mask="url(#ramp)"/><rect x="690.0" y="373.9" width="35.5" height="194.5" fill="url(#g1_11)"/><rect x="690.0" y="373.9" width="35.5" height="194.5" fill="url(#g1_12)" mask="url(#ramp)"/><rect x="725.0" y="373.9" width="35.5" height="194.5" fill="url(#g1_12)"/><rect x="725.0" y="373.9" width="35.5" height="194.5" fill="url(#g1_13)" mask="url(#ramp)"/><rect x="760.0" y="373.9" width="40.5" height="194.5" fill="url(#g1_13)"/><rect x="760.0" y="373.9" width="40.5" height="194.5" fill="url(#g1_14)" mask="url(#ramp)"/><rect x="800.0" y="373.9" width="15.5" height="194.5" fill="url(#g1_14)"/><rect x="800.0" y="373.9" width="15.5" height="194.5" fill="url(#g1_15)" mask="url(#ramp)"/><rect x="815.0" y="373.9" width="15.5" height="194.5" fill="url(#g1_15)"/><rect x="815.0" y="373.9" width="15.5" height="194.5" fill="url(#g1_16)" mask="url(#ramp)"/><rect x="830.0" y="373.9" width="50.5" height="194.5" fill="url(#g1_16)"/><rect x="830.0" y="373.9" width="50.5" height="194.5" fill="url(#g1_17)" mask="url(#ramp)"/><rect x="880.0" y="373.9" width="65.5" height="194.5" fill="url(#g1_17)"/><rect x="880.0" y="373.9" width="65.5" height="194.5" fill="url(#g1_18)" mask="url(#ramp)"/><rect x="945.0" y="373.9" width="10.5" height="194.5" fill="url(#g1_18)"/><rect x="945.0" y="373.9" width="10.5" height="194.5" fill="url(#g1_19)" mask="url(#ramp)"/><rect x="955.0" y="373.9" width="80.5" height="194.5" fill="url(#g1_19)"/><rect x="955.0" y="373.9" width="80.5" height="194.5" fill="url(#g1_20)" mask="url(#ramp)"/><rect x="1035.0" y="373.9" width="10.5" height="194.5" fill="url(#g1_20)"/><rect x="1035.0" y="373.9" width="10.5" height="194.5" fill="url(#g1_21)" mask="url(#ramp)"/><rect x="1045.0" y="373.9" width="59.5" height="194.5" fill="url(#g1_21)"/><rect x="1045.0" y="373.9" width="59.5" height="194.5" fill="url(#g1_22)" mask="url(#ramp)"/><rect x="1104.0" y="373.9" width="7.5" height="194.5" fill="url(#g1_22)"/><rect x="1104.0" y="373.9" width="7.5" height="194.5" fill="url(#g1_23)" mask="url(#ramp)"/><rect x="1111.0" y="373.9" width="160.5" height="194.5" fill="url(#g1_23)"/><rect x="1111.0" y="373.9" width="160.5" height="194.5" fill="url(#g1_24)" mask="url(#ramp)"/><rect x="1271.0" y="373.9" width="5.5" height="194.5" fill="url(#g1_24)"/><rect x="1271.0" y="373.9" width="5.5" height="194.5" fill="url(#g1_25)" mask="url(#ramp)"/><rect x="1276.0" y="373.9" width="24.5" height="194.5" fill="url(#g1_25)"/><rect x="1276.0" y="373.9" width="24.5" height="194.5" fill="url(#g1_26)" mask="url(#ramp)"/><rect x="1300.0" y="373.9" width="6.5" height="194.5" fill="url(#g1_26)"/><rect x="1300.0" y="373.9" width="6.5" height="194.5" fill="url(#g1_27)" mask="url(#ramp)"/><rect x="1306.0" y="373.9" width="94.5" height="194.5" fill="url(#g1_27)"/><rect x="1306.0" y="373.9" width="94.5" height="194.5" fill="url(#g1_28)" mask="url(#ramp)"/><rect x="1400.0" y="373.9" width="95.5" height="194.5" fill="url(#g1_28)"/><rect x="1400.0" y="373.9" width="95.5" height="194.5" fill="url(#g1_29)" mask="url(#ramp)"/><rect x="1495.0" y="373.9" width="10.5" height="194.5" fill="url(#g1_29)"/><rect x="1495.0" y="373.9" width="10.5" height="194.5" fill="url(#g1_30)" mask="url(#ramp)"/><rect x="1505.0" y="373.9" width="40.5" height="194.5" fill="url(#g1_30)"/><rect x="1505.0" y="373.9" width="40.5" height="194.5" fill="url(#g1_31)" mask="url(#ramp)"/></g><g clip-path="url(#cp2)"><rect x="126.0" y="647.7" width="-0.5" height="194.5" fill="url(#g2_0)"/><rect x="125.0" y="647.7" width="35.5" height="194.5" fill="url(#g2_0)"/><rect x="125.0" y="647.7" width="35.5" height="194.5" fill="url(#g2_1)" mask="url(#ramp)"/><rect x="160.0" y="647.7" width="40.5" height="194.5" fill="url(#g2_1)"/><rect x="160.0" y="647.7" width="40.5" height="194.5" fill="url(#g2_2)" mask="url(#ramp)"/><rect x="200.0" y="647.7" width="100.5" height="194.5" fill="url(#g2_2)"/><rect x="200.0" y="647.7" width="100.5" height="194.5" fill="url(#g2_3)" mask="url(#ramp)"/><rect x="300.0" y="647.7" width="60.5" height="194.5" fill="url(#g2_3)"/><rect x="300.0" y="647.7" width="60.5" height="194.5" fill="url(#g2_4)" mask="url(#ramp)"/><rect x="360.0" y="647.7" width="60.5" height="194.5" fill="url(#g2_4)"/><rect x="360.0" y="647.7" width="60.5" height="194.5" fill="url(#g2_5)" mask="url(#ramp)"/><rect x="420.0" y="647.7" width="55.5" height="194.5" fill="url(#g2_5)"/><rect x="420.0" y="647.7" width="55.5" height="194.5" fill="url(#g2_6)" mask="url(#ramp)"/><rect x="475.0" y="647.7" width="45.5" height="194.5" fill="url(#g2_6)"/><rect x="475.0" y="647.7" width="45.5" height="194.5" fill="url(#g2_7)" mask="url(#ramp)"/><rect x="520.0" y="647.7" width="30.5" height="194.5" fill="url(#g2_7)"/><rect x="520.0" y="647.7" width="30.5" height="194.5" fill="url(#g2_8)" mask="url(#ramp)"/><rect x="550.0" y="647.7" width="35.5" height="194.5" fill="url(#g2_8)"/><rect x="550.0" y="647.7" width="35.5" height="194.5" fill="url(#g2_9)" mask="url(#ramp)"/><rect x="585.0" y="647.7" width="35.5" height="194.5" fill="url(#g2_9)"/><rect x="585.0" y="647.7" width="35.5" height="194.5" fill="url(#g2_10)" mask="url(#ramp)"/><rect x="620.0" y="647.7" width="25.5" height="194.5" fill="url(#g2_10)"/><rect x="620.0" y="647.7" width="25.5" height="194.5" fill="url(#g2_11)" mask="url(#ramp)"/><rect x="645.0" y="647.7" width="35.5" height="194.5" fill="url(#g2_11)"/><rect x="645.0" y="647.7" width="35.5" height="194.5" fill="url(#g2_12)" mask="url(#ramp)"/><rect x="680.0" y="647.7" width="40.5" height="194.5" fill="url(#g2_12)"/><rect x="680.0" y="647.7" width="40.5" height="194.5" fill="url(#g2_13)" mask="url(#ramp)"/><rect x="720.0" y="647.7" width="40.5" height="194.5" fill="url(#g2_13)"/><rect x="720.0" y="647.7" width="40.5" height="194.5" fill="url(#g2_14)" mask="url(#ramp)"/><rect x="760.0" y="647.7" width="50.5" height="194.5" fill="url(#g2_14)"/><rect x="760.0" y="647.7" width="50.5" height="194.5" fill="url(#g2_15)" mask="url(#ramp)"/><rect x="810.0" y="647.7" width="25.5" height="194.5" fill="url(#g2_15)"/><rect x="810.0" y="647.7" width="25.5" height="194.5" fill="url(#g2_16)" mask="url(#ramp)"/><rect x="835.0" y="647.7" width="45.5" height="194.5" fill="url(#g2_16)"/><rect x="835.0" y="647.7" width="45.5" height="194.5" fill="url(#g2_17)" mask="url(#ramp)"/><rect x="880.0" y="647.7" width="65.5" height="194.5" fill="url(#g2_17)"/><rect x="880.0" y="647.7" width="65.5" height="194.5" fill="url(#g2_18)" mask="url(#ramp)"/><rect x="945.0" y="647.7" width="10.5" height="194.5" fill="url(#g2_18)"/><rect x="945.0" y="647.7" width="10.5" height="194.5" fill="url(#g2_19)" mask="url(#ramp)"/><rect x="955.0" y="647.7" width="85.5" height="194.5" fill="url(#g2_19)"/><rect x="955.0" y="647.7" width="85.5" height="194.5" fill="url(#g2_20)" mask="url(#ramp)"/><rect x="1040.0" y="647.7" width="20.5" height="194.5" fill="url(#g2_20)"/><rect x="1040.0" y="647.7" width="20.5" height="194.5" fill="url(#g2_21)" mask="url(#ramp)"/><rect x="1060.0" y="647.7" width="44.5" height="194.5" fill="url(#g2_21)"/><rect x="1060.0" y="647.7" width="44.5" height="194.5" fill="url(#g2_22)" mask="url(#ramp)"/><rect x="1104.0" y="647.7" width="7.5" height="194.5" fill="url(#g2_22)"/><rect x="1104.0" y="647.7" width="7.5" height="194.5" fill="url(#g2_23)" mask="url(#ramp)"/><rect x="1111.0" y="647.7" width="89.5" height="194.5" fill="url(#g2_23)"/><rect x="1111.0" y="647.7" width="89.5" height="194.5" fill="url(#g2_24)" mask="url(#ramp)"/><rect x="1200.0" y="647.7" width="62.5" height="194.5" fill="url(#g2_24)"/><rect x="1200.0" y="647.7" width="62.5" height="194.5" fill="url(#g2_25)" mask="url(#ramp)"/><rect x="1262.0" y="647.7" width="9.5" height="194.5" fill="url(#g2_25)"/><rect x="1262.0" y="647.7" width="9.5" height="194.5" fill="url(#g2_26)" mask="url(#ramp)"/><rect x="1271.0" y="647.7" width="5.5" height="194.5" fill="url(#g2_26)"/><rect x="1271.0" y="647.7" width="5.5" height="194.5" fill="url(#g2_27)" mask="url(#ramp)"/><rect x="1276.0" y="647.7" width="24.5" height="194.5" fill="url(#g2_27)"/><rect x="1276.0" y="647.7" width="24.5" height="194.5" fill="url(#g2_28)" mask="url(#ramp)"/><rect x="1300.0" y="647.7" width="20.5" height="194.5" fill="url(#g2_28)"/><rect x="1300.0" y="647.7" width="20.5" height="194.5" fill="url(#g2_29)" mask="url(#ramp)"/><rect x="1320.0" y="647.7" width="20.5" height="194.5" fill="url(#g2_29)"/><rect x="1320.0" y="647.7" width="20.5" height="194.5" fill="url(#g2_30)" mask="url(#ramp)"/><rect x="1340.0" y="647.7" width="25.5" height="194.5" fill="url(#g2_30)"/><rect x="1340.0" y="647.7" width="25.5" height="194.5" fill="url(#g2_31)" mask="url(#ramp)"/><rect x="1365.0" y="647.7" width="135.5" height="194.5" fill="url(#g2_31)"/><rect x="1365.0" y="647.7" width="135.5" height="194.5" fill="url(#g2_32)" mask="url(#ramp)"/><rect x="1500.0" y="647.7" width="25.5" height="194.5" fill="url(#g2_32)"/><rect x="1500.0" y="647.7" width="25.5" height="194.5" fill="url(#g2_33)" mask="url(#ramp)"/><rect x="1525.0" y="647.7" width="20.5" height="194.5" fill="url(#g2_33)"/><rect x="1525.0" y="647.7" width="20.5" height="194.5" fill="url(#g2_34)" mask="url(#ramp)"/></g><g clip-path="url(#cp3)"><rect x="126.0" y="921.5" width="-0.5" height="194.5" fill="url(#g3_0)"/><rect x="125.0" y="921.5" width="40.5" height="194.5" fill="url(#g3_0)"/><rect x="125.0" y="921.5" width="40.5" height="194.5" fill="url(#g3_1)" mask="url(#ramp)"/><rect x="165.0" y="921.5" width="65.5" height="194.5" fill="url(#g3_1)"/><rect x="165.0" y="921.5" width="65.5" height="194.5" fill="url(#g3_2)" mask="url(#ramp)"/><rect x="230.0" y="921.5" width="60.5" height="194.5" fill="url(#g3_2)"/><rect x="230.0" y="921.5" width="60.5" height="194.5" fill="url(#g3_3)" mask="url(#ramp)"/><rect x="290.0" y="921.5" width="110.5" height="194.5" fill="url(#g3_3)"/><rect x="290.0" y="921.5" width="110.5" height="194.5" fill="url(#g3_4)" mask="url(#ramp)"/><rect x="400.0" y="921.5" width="80.5" height="194.5" fill="url(#g3_4)"/><rect x="400.0" y="921.5" width="80.5" height="194.5" fill="url(#g3_5)" mask="url(#ramp)"/><rect x="480.0" y="921.5" width="70.5" height="194.5" fill="url(#g3_5)"/><rect x="480.0" y="921.5" width="70.5" height="194.5" fill="url(#g3_6)" mask="url(#ramp)"/><rect x="550.0" y="921.5" width="35.5" height="194.5" fill="url(#g3_6)"/><rect x="550.0" y="921.5" width="35.5" height="194.5" fill="url(#g3_7)" mask="url(#ramp)"/><rect x="585.0" y="921.5" width="35.5" height="194.5" fill="url(#g3_7)"/><rect x="585.0" y="921.5" width="35.5" height="194.5" fill="url(#g3_8)" mask="url(#ramp)"/><rect x="620.0" y="921.5" width="30.5" height="194.5" fill="url(#g3_8)"/><rect x="620.0" y="921.5" width="30.5" height="194.5" fill="url(#g3_9)" mask="url(#ramp)"/><rect x="650.0" y="921.5" width="40.5" height="194.5" fill="url(#g3_9)"/><rect x="650.0" y="921.5" width="40.5" height="194.5" fill="url(#g3_10)" mask="url(#ramp)"/><rect x="690.0" y="921.5" width="30.5" height="194.5" fill="url(#g3_10)"/><rect x="690.0" y="921.5" width="30.5" height="194.5" fill="url(#g3_11)" mask="url(#ramp)"/><rect x="720.0" y="921.5" width="40.5" height="194.5" fill="url(#g3_11)"/><rect x="720.0" y="921.5" width="40.5" height="194.5" fill="url(#g3_12)" mask="url(#ramp)"/><rect x="760.0" y="921.5" width="40.5" height="194.5" fill="url(#g3_12)"/><rect x="760.0" y="921.5" width="40.5" height="194.5" fill="url(#g3_13)" mask="url(#ramp)"/><rect x="800.0" y="921.5" width="30.5" height="194.5" fill="url(#g3_13)"/><rect x="800.0" y="921.5" width="30.5" height="194.5" fill="url(#g3_14)" mask="url(#ramp)"/><rect x="830.0" y="921.5" width="50.5" height="194.5" fill="url(#g3_14)"/><rect x="830.0" y="921.5" width="50.5" height="194.5" fill="url(#g3_15)" mask="url(#ramp)"/><rect x="880.0" y="921.5" width="65.5" height="194.5" fill="url(#g3_15)"/><rect x="880.0" y="921.5" width="65.5" height="194.5" fill="url(#g3_16)" mask="url(#ramp)"/><rect x="945.0" y="921.5" width="10.5" height="194.5" fill="url(#g3_16)"/><rect x="945.0" y="921.5" width="10.5" height="194.5" fill="url(#g3_17)" mask="url(#ramp)"/><rect x="955.0" y="921.5" width="80.5" height="194.5" fill="url(#g3_17)"/><rect x="955.0" y="921.5" width="80.5" height="194.5" fill="url(#g3_18)" mask="url(#ramp)"/><rect x="1035.0" y="921.5" width="10.5" height="194.5" fill="url(#g3_18)"/><rect x="1035.0" y="921.5" width="10.5" height="194.5" fill="url(#g3_19)" mask="url(#ramp)"/><rect x="1045.0" y="921.5" width="59.5" height="194.5" fill="url(#g3_19)"/><rect x="1045.0" y="921.5" width="59.5" height="194.5" fill="url(#g3_20)" mask="url(#ramp)"/><rect x="1104.0" y="921.5" width="7.5" height="194.5" fill="url(#g3_20)"/><rect x="1104.0" y="921.5" width="7.5" height="194.5" fill="url(#g3_21)" mask="url(#ramp)"/><rect x="1111.0" y="921.5" width="39.5" height="194.5" fill="url(#g3_21)"/><rect x="1111.0" y="921.5" width="39.5" height="194.5" fill="url(#g3_22)" mask="url(#ramp)"/><rect x="1150.0" y="921.5" width="40.5" height="194.5" fill="url(#g3_22)"/><rect x="1150.0" y="921.5" width="40.5" height="194.5" fill="url(#g3_23)" mask="url(#ramp)"/><rect x="1190.0" y="921.5" width="68.5" height="194.5" fill="url(#g3_23)"/><rect x="1190.0" y="921.5" width="68.5" height="194.5" fill="url(#g3_24)" mask="url(#ramp)"/><rect x="1258.0" y="921.5" width="13.5" height="194.5" fill="url(#g3_24)"/><rect x="1258.0" y="921.5" width="13.5" height="194.5" fill="url(#g3_25)" mask="url(#ramp)"/><rect x="1271.0" y="921.5" width="5.5" height="194.5" fill="url(#g3_25)"/><rect x="1271.0" y="921.5" width="5.5" height="194.5" fill="url(#g3_26)" mask="url(#ramp)"/><rect x="1276.0" y="921.5" width="14.5" height="194.5" fill="url(#g3_26)"/><rect x="1276.0" y="921.5" width="14.5" height="194.5" fill="url(#g3_27)" mask="url(#ramp)"/><rect x="1290.0" y="921.5" width="30.5" height="194.5" fill="url(#g3_27)"/><rect x="1290.0" y="921.5" width="30.5" height="194.5" fill="url(#g3_28)" mask="url(#ramp)"/><rect x="1320.0" y="921.5" width="221.5" height="194.5" fill="url(#g3_28)"/></g><g clip-path="url(#cp4)"><rect x="126.0" y="1195.2" width="-0.5" height="194.5" fill="url(#g4_0)"/><rect x="125.0" y="1195.2" width="35.5" height="194.5" fill="url(#g4_0)"/><rect x="125.0" y="1195.2" width="35.5" height="194.5" fill="url(#g4_1)" mask="url(#ramp)"/><rect x="160.0" y="1195.2" width="140.5" height="194.5" fill="url(#g4_1)"/><rect x="160.0" y="1195.2" width="140.5" height="194.5" fill="url(#g4_2)" mask="url(#ramp)"/><rect x="300.0" y="1195.2" width="180.5" height="194.5" fill="url(#g4_2)"/><rect x="300.0" y="1195.2" width="180.5" height="194.5" fill="url(#g4_3)" mask="url(#ramp)"/><rect x="480.0" y="1195.2" width="70.5" height="194.5" fill="url(#g4_3)"/><rect x="480.0" y="1195.2" width="70.5" height="194.5" fill="url(#g4_4)" mask="url(#ramp)"/><rect x="550.0" y="1195.2" width="35.5" height="194.5" fill="url(#g4_4)"/><rect x="550.0" y="1195.2" width="35.5" height="194.5" fill="url(#g4_5)" mask="url(#ramp)"/><rect x="585.0" y="1195.2" width="35.5" height="194.5" fill="url(#g4_5)"/><rect x="585.0" y="1195.2" width="35.5" height="194.5" fill="url(#g4_6)" mask="url(#ramp)"/><rect x="620.0" y="1195.2" width="20.5" height="194.5" fill="url(#g4_6)"/><rect x="620.0" y="1195.2" width="20.5" height="194.5" fill="url(#g4_7)" mask="url(#ramp)"/><rect x="640.0" y="1195.2" width="30.5" height="194.5" fill="url(#g4_7)"/><rect x="640.0" y="1195.2" width="30.5" height="194.5" fill="url(#g4_8)" mask="url(#ramp)"/><rect x="670.0" y="1195.2" width="30.5" height="194.5" fill="url(#g4_8)"/><rect x="670.0" y="1195.2" width="30.5" height="194.5" fill="url(#g4_9)" mask="url(#ramp)"/><rect x="700.0" y="1195.2" width="45.5" height="194.5" fill="url(#g4_9)"/><rect x="700.0" y="1195.2" width="45.5" height="194.5" fill="url(#g4_10)" mask="url(#ramp)"/><rect x="745.0" y="1195.2" width="35.5" height="194.5" fill="url(#g4_10)"/><rect x="745.0" y="1195.2" width="35.5" height="194.5" fill="url(#g4_11)" mask="url(#ramp)"/><rect x="780.0" y="1195.2" width="32.5" height="194.5" fill="url(#g4_11)"/><rect x="780.0" y="1195.2" width="32.5" height="194.5" fill="url(#g4_12)" mask="url(#ramp)"/><rect x="812.0" y="1195.2" width="18.5" height="194.5" fill="url(#g4_12)"/><rect x="812.0" y="1195.2" width="18.5" height="194.5" fill="url(#g4_13)" mask="url(#ramp)"/><rect x="830.0" y="1195.2" width="50.5" height="194.5" fill="url(#g4_13)"/><rect x="830.0" y="1195.2" width="50.5" height="194.5" fill="url(#g4_14)" mask="url(#ramp)"/><rect x="880.0" y="1195.2" width="65.5" height="194.5" fill="url(#g4_14)"/><rect x="880.0" y="1195.2" width="65.5" height="194.5" fill="url(#g4_15)" mask="url(#ramp)"/><rect x="945.0" y="1195.2" width="10.5" height="194.5" fill="url(#g4_15)"/><rect x="945.0" y="1195.2" width="10.5" height="194.5" fill="url(#g4_16)" mask="url(#ramp)"/><rect x="955.0" y="1195.2" width="80.5" height="194.5" fill="url(#g4_16)"/><rect x="955.0" y="1195.2" width="80.5" height="194.5" fill="url(#g4_17)" mask="url(#ramp)"/><rect x="1035.0" y="1195.2" width="10.5" height="194.5" fill="url(#g4_17)"/><rect x="1035.0" y="1195.2" width="10.5" height="194.5" fill="url(#g4_18)" mask="url(#ramp)"/><rect x="1045.0" y="1195.2" width="59.5" height="194.5" fill="url(#g4_18)"/><rect x="1045.0" y="1195.2" width="59.5" height="194.5" fill="url(#g4_19)" mask="url(#ramp)"/><rect x="1104.0" y="1195.2" width="7.5" height="194.5" fill="url(#g4_19)"/><rect x="1104.0" y="1195.2" width="7.5" height="194.5" fill="url(#g4_20)" mask="url(#ramp)"/><rect x="1111.0" y="1195.2" width="160.5" height="194.5" fill="url(#g4_20)"/><rect x="1111.0" y="1195.2" width="160.5" height="194.5" fill="url(#g4_21)" mask="url(#ramp)"/><rect x="1271.0" y="1195.2" width="5.5" height="194.5" fill="url(#g4_21)"/><rect x="1271.0" y="1195.2" width="5.5" height="194.5" fill="url(#g4_22)" mask="url(#ramp)"/><rect x="1276.0" y="1195.2" width="24.5" height="194.5" fill="url(#g4_22)"/><rect x="1276.0" y="1195.2" width="24.5" height="194.5" fill="url(#g4_23)" mask="url(#ramp)"/><rect x="1300.0" y="1195.2" width="6.5" height="194.5" fill="url(#g4_23)"/><rect x="1300.0" y="1195.2" width="6.5" height="194.5" fill="url(#g4_24)" mask="url(#ramp)"/><rect x="1306.0" y="1195.2" width="189.5" height="194.5" fill="url(#g4_24)"/><rect x="1306.0" y="1195.2" width="189.5" height="194.5" fill="url(#g4_25)" mask="url(#ramp)"/><rect x="1495.0" y="1195.2" width="10.5" height="194.5" fill="url(#g4_25)"/><rect x="1495.0" y="1195.2" width="10.5" height="194.5" fill="url(#g4_26)" mask="url(#ramp)"/><rect x="1505.0" y="1195.2" width="40.5" height="194.5" fill="url(#g4_26)"/><rect x="1505.0" y="1195.2" width="40.5" height="194.5" fill="url(#g4_27)" mask="url(#ramp)"/></g><g clip-path="url(#cp5)"><rect x="126.0" y="1469.0" width="-0.5" height="194.5" fill="url(#g5_0)"/><rect x="125.0" y="1469.0" width="40.5" height="194.5" fill="url(#g5_0)"/><rect x="125.0" y="1469.0" width="40.5" height="194.5" fill="url(#g5_1)" mask="url(#ramp)"/><rect x="165.0" y="1469.0" width="65.5" height="194.5" fill="url(#g5_1)"/><rect x="165.0" y="1469.0" width="65.5" height="194.5" fill="url(#g5_2)" mask="url(#ramp)"/><rect x="230.0" y="1469.0" width="70.5" height="194.5" fill="url(#g5_2)"/><rect x="230.0" y="1469.0" width="70.5" height="194.5" fill="url(#g5_3)" mask="url(#ramp)"/><rect x="300.0" y="1469.0" width="100.5" height="194.5" fill="url(#g5_3)"/><rect x="300.0" y="1469.0" width="100.5" height="194.5" fill="url(#g5_4)" mask="url(#ramp)"/><rect x="400.0" y="1469.0" width="80.5" height="194.5" fill="url(#g5_4)"/><rect x="400.0" y="1469.0" width="80.5" height="194.5" fill="url(#g5_5)" mask="url(#ramp)"/><rect x="480.0" y="1469.0" width="40.5" height="194.5" fill="url(#g5_5)"/><rect x="480.0" y="1469.0" width="40.5" height="194.5" fill="url(#g5_6)" mask="url(#ramp)"/><rect x="520.0" y="1469.0" width="30.5" height="194.5" fill="url(#g5_6)"/><rect x="520.0" y="1469.0" width="30.5" height="194.5" fill="url(#g5_7)" mask="url(#ramp)"/><rect x="550.0" y="1469.0" width="20.5" height="194.5" fill="url(#g5_7)"/><rect x="550.0" y="1469.0" width="20.5" height="194.5" fill="url(#g5_8)" mask="url(#ramp)"/><rect x="570.0" y="1469.0" width="17.5" height="194.5" fill="url(#g5_8)"/><rect x="570.0" y="1469.0" width="17.5" height="194.5" fill="url(#g5_9)" mask="url(#ramp)"/><rect x="587.0" y="1469.0" width="28.5" height="194.5" fill="url(#g5_9)"/><rect x="587.0" y="1469.0" width="28.5" height="194.5" fill="url(#g5_10)" mask="url(#ramp)"/><rect x="615.0" y="1469.0" width="10.5" height="194.5" fill="url(#g5_10)"/><rect x="615.0" y="1469.0" width="10.5" height="194.5" fill="url(#g5_11)" mask="url(#ramp)"/><rect x="625.0" y="1469.0" width="10.5" height="194.5" fill="url(#g5_11)"/><rect x="625.0" y="1469.0" width="10.5" height="194.5" fill="url(#g5_12)" mask="url(#ramp)"/><rect x="635.0" y="1469.0" width="20.5" height="194.5" fill="url(#g5_12)"/><rect x="635.0" y="1469.0" width="20.5" height="194.5" fill="url(#g5_13)" mask="url(#ramp)"/><rect x="655.0" y="1469.0" width="20.5" height="194.5" fill="url(#g5_13)"/><rect x="655.0" y="1469.0" width="20.5" height="194.5" fill="url(#g5_14)" mask="url(#ramp)"/><rect x="675.0" y="1469.0" width="10.5" height="194.5" fill="url(#g5_14)"/><rect x="675.0" y="1469.0" width="10.5" height="194.5" fill="url(#g5_15)" mask="url(#ramp)"/><rect x="685.0" y="1469.0" width="13.5" height="194.5" fill="url(#g5_15)"/><rect x="685.0" y="1469.0" width="13.5" height="194.5" fill="url(#g5_16)" mask="url(#ramp)"/><rect x="698.0" y="1469.0" width="12.5" height="194.5" fill="url(#g5_16)"/><rect x="698.0" y="1469.0" width="12.5" height="194.5" fill="url(#g5_17)" mask="url(#ramp)"/><rect x="710.0" y="1469.0" width="35.5" height="194.5" fill="url(#g5_17)"/><rect x="710.0" y="1469.0" width="35.5" height="194.5" fill="url(#g5_18)" mask="url(#ramp)"/><rect x="745.0" y="1469.0" width="10.5" height="194.5" fill="url(#g5_18)"/><rect x="745.0" y="1469.0" width="10.5" height="194.5" fill="url(#g5_19)" mask="url(#ramp)"/><rect x="755.0" y="1469.0" width="10.5" height="194.5" fill="url(#g5_19)"/><rect x="755.0" y="1469.0" width="10.5" height="194.5" fill="url(#g5_20)" mask="url(#ramp)"/><rect x="765.0" y="1469.0" width="10.5" height="194.5" fill="url(#g5_20)"/><rect x="765.0" y="1469.0" width="10.5" height="194.5" fill="url(#g5_21)" mask="url(#ramp)"/><rect x="775.0" y="1469.0" width="25.5" height="194.5" fill="url(#g5_21)"/><rect x="775.0" y="1469.0" width="25.5" height="194.5" fill="url(#g5_22)" mask="url(#ramp)"/><rect x="800.0" y="1469.0" width="11.5" height="194.5" fill="url(#g5_22)"/><rect x="800.0" y="1469.0" width="11.5" height="194.5" fill="url(#g5_23)" mask="url(#ramp)"/><rect x="811.0" y="1469.0" width="9.5" height="194.5" fill="url(#g5_23)"/><rect x="811.0" y="1469.0" width="9.5" height="194.5" fill="url(#g5_24)" mask="url(#ramp)"/><rect x="820.0" y="1469.0" width="25.5" height="194.5" fill="url(#g5_24)"/><rect x="820.0" y="1469.0" width="25.5" height="194.5" fill="url(#g5_25)" mask="url(#ramp)"/><rect x="845.0" y="1469.0" width="10.5" height="194.5" fill="url(#g5_25)"/><rect x="845.0" y="1469.0" width="10.5" height="194.5" fill="url(#g5_26)" mask="url(#ramp)"/><rect x="855.0" y="1469.0" width="7.5" height="194.5" fill="url(#g5_26)"/><rect x="855.0" y="1469.0" width="7.5" height="194.5" fill="url(#g5_27)" mask="url(#ramp)"/><rect x="862.0" y="1469.0" width="13.5" height="194.5" fill="url(#g5_27)"/><rect x="862.0" y="1469.0" width="13.5" height="194.5" fill="url(#g5_28)" mask="url(#ramp)"/><rect x="875.0" y="1469.0" width="13.5" height="194.5" fill="url(#g5_28)"/><rect x="875.0" y="1469.0" width="13.5" height="194.5" fill="url(#g5_29)" mask="url(#ramp)"/><rect x="888.0" y="1469.0" width="52.5" height="194.5" fill="url(#g5_29)"/><rect x="888.0" y="1469.0" width="52.5" height="194.5" fill="url(#g5_30)" mask="url(#ramp)"/><rect x="940.0" y="1469.0" width="10.5" height="194.5" fill="url(#g5_30)"/><rect x="940.0" y="1469.0" width="10.5" height="194.5" fill="url(#g5_31)" mask="url(#ramp)"/><rect x="950.0" y="1469.0" width="53.5" height="194.5" fill="url(#g5_31)"/><rect x="950.0" y="1469.0" width="53.5" height="194.5" fill="url(#g5_32)" mask="url(#ramp)"/><rect x="1003.0" y="1469.0" width="27.5" height="194.5" fill="url(#g5_32)"/><rect x="1003.0" y="1469.0" width="27.5" height="194.5" fill="url(#g5_33)" mask="url(#ramp)"/><rect x="1030.0" y="1469.0" width="15.5" height="194.5" fill="url(#g5_33)"/><rect x="1030.0" y="1469.0" width="15.5" height="194.5" fill="url(#g5_34)" mask="url(#ramp)"/><rect x="1045.0" y="1469.0" width="13.5" height="194.5" fill="url(#g5_34)"/><rect x="1045.0" y="1469.0" width="13.5" height="194.5" fill="url(#g5_35)" mask="url(#ramp)"/><rect x="1058.0" y="1469.0" width="12.5" height="194.5" fill="url(#g5_35)"/><rect x="1058.0" y="1469.0" width="12.5" height="194.5" fill="url(#g5_36)" mask="url(#ramp)"/><rect x="1070.0" y="1469.0" width="28.5" height="194.5" fill="url(#g5_36)"/><rect x="1070.0" y="1469.0" width="28.5" height="194.5" fill="url(#g5_37)" mask="url(#ramp)"/><rect x="1098.0" y="1469.0" width="6.5" height="194.5" fill="url(#g5_37)"/><rect x="1098.0" y="1469.0" width="6.5" height="194.5" fill="url(#g5_38)" mask="url(#ramp)"/><rect x="1104.0" y="1469.0" width="7.5" height="194.5" fill="url(#g5_38)"/><rect x="1104.0" y="1469.0" width="7.5" height="194.5" fill="url(#g5_39)" mask="url(#ramp)"/><rect x="1111.0" y="1469.0" width="89.5" height="194.5" fill="url(#g5_39)"/><rect x="1111.0" y="1469.0" width="89.5" height="194.5" fill="url(#g5_40)" mask="url(#ramp)"/><rect x="1200.0" y="1469.0" width="71.5" height="194.5" fill="url(#g5_40)"/><rect x="1200.0" y="1469.0" width="71.5" height="194.5" fill="url(#g5_41)" mask="url(#ramp)"/><rect x="1271.0" y="1469.0" width="5.5" height="194.5" fill="url(#g5_41)"/><rect x="1271.0" y="1469.0" width="5.5" height="194.5" fill="url(#g5_42)" mask="url(#ramp)"/><rect x="1276.0" y="1469.0" width="14.5" height="194.5" fill="url(#g5_42)"/><rect x="1276.0" y="1469.0" width="14.5" height="194.5" fill="url(#g5_43)" mask="url(#ramp)"/><rect x="1290.0" y="1469.0" width="20.5" height="194.5" fill="url(#g5_43)"/><rect x="1290.0" y="1469.0" width="20.5" height="194.5" fill="url(#g5_44)" mask="url(#ramp)"/><rect x="1310.0" y="1469.0" width="30.5" height="194.5" fill="url(#g5_44)"/><rect x="1310.0" y="1469.0" width="30.5" height="194.5" fill="url(#g5_45)" mask="url(#ramp)"/><rect x="1340.0" y="1469.0" width="10.5" height="194.5" fill="url(#g5_45)"/><rect x="1340.0" y="1469.0" width="10.5" height="194.5" fill="url(#g5_46)" mask="url(#ramp)"/><rect x="1350.0" y="1469.0" width="150.5" height="194.5" fill="url(#g5_46)"/><rect x="1350.0" y="1469.0" width="150.5" height="194.5" fill="url(#g5_47)" mask="url(#ramp)"/><rect x="1500.0" y="1469.0" width="12.5" height="194.5" fill="url(#g5_47)"/><rect x="1500.0" y="1469.0" width="12.5" height="194.5" fill="url(#g5_48)" mask="url(#ramp)"/><rect x="1512.0" y="1469.0" width="33.5" height="194.5" fill="url(#g5_48)"/><rect x="1512.0" y="1469.0" width="33.5" height="194.5" fill="url(#g5_49)" mask="url(#ramp)"/></g><path clip-path="url(#cq0)" d="M131.1 241.0 C132.6 237.9 136.3 230.1 140.0 222.5 C143.7 214.8 150.0 201.4 153.4 195.1 C156.8 188.9 158.6 186.5 160.6 185.1 C162.6 183.8 162.9 184.5 165.6 187.1 C168.3 189.6 172.7 199.7 176.8 200.3 C180.9 201.0 186.8 192.0 190.0 191.1 C193.2 190.2 193.4 192.1 196.1 195.1 C198.8 198.2 202.6 206.3 206.3 209.4 C210.0 212.4 213.8 212.6 218.5 213.4 C223.2 214.3 230.6 215.3 234.7 214.6 C238.8 213.9 239.8 212.1 242.8 209.4 C245.9 206.7 250.3 199.6 253.0 198.2 C255.7 196.9 256.1 199.1 259.1 201.3 C262.2 203.5 266.9 212.0 271.3 211.5 C275.7 211.0 281.8 198.6 285.5 198.2 C289.2 197.9 290.6 205.0 293.6 209.4 C296.7 213.8 300.1 222.7 303.8 224.6 C307.5 226.5 311.3 220.0 316.0 220.6 C320.7 221.1 327.5 229.2 332.2 227.7 C336.9 226.2 341.0 215.1 344.4 211.5 C347.8 207.9 348.5 203.4 352.6 206.3 C356.7 209.2 364.8 224.7 368.8 228.6 C372.9 232.6 373.2 231.4 376.9 230.2 C380.6 229.0 384.4 220.9 391.2 221.5 C398.0 222.1 410.8 234.0 417.6 233.8 C424.4 233.7 426.1 220.0 431.8 220.6 C437.6 221.1 445.7 235.4 452.1 236.9 C458.5 238.5 463.9 231.0 470.4 229.8 C476.9 228.6 485.4 227.8 491.3 229.8 C497.2 231.8 500.9 237.9 505.5 241.9 C510.1 246.0 513.6 254.9 518.7 254.0 C523.8 253.2 531.1 240.0 536.0 236.9 C540.9 233.9 544.7 234.9 548.1 235.8 C551.5 236.6 553.6 239.5 556.3 241.9 C559.0 244.3 560.7 247.6 564.4 250.0 C568.1 252.4 574.5 256.9 578.6 256.5 C582.7 256.2 585.8 248.5 588.8 248.1 C591.8 247.7 592.8 253.2 596.9 254.2 C601.0 255.3 608.5 252.2 613.2 254.2 C617.9 256.3 620.9 261.3 625.3 266.4 C629.7 271.4 634.2 283.8 639.6 284.7 C645.0 285.5 652.1 272.9 657.9 271.4 C663.6 269.8 669.0 277.9 674.1 275.4 C679.2 272.9 684.9 257.7 688.3 256.2 C691.7 254.7 692.7 260.1 694.4 266.4 C696.1 272.6 697.8 289.1 698.5 293.7 M722.9 293.7 C723.9 291.5 727.0 280.2 729.0 280.2 C731.0 280.2 734.0 291.5 735.0 293.7 M755.4 293.7 C757.1 290.0 761.8 273.2 765.5 271.4 C769.2 269.5 774.0 280.0 777.7 282.5 C781.4 285.1 784.9 286.4 787.9 286.6 C790.9 286.7 794.0 282.3 796.0 283.5 C798.0 284.7 799.3 292.0 800.0 293.7 M820.4 293.7 C821.2 290.8 823.6 281.3 825.0 276.4 C826.4 271.4 826.8 266.0 828.5 263.9 C830.2 261.7 832.4 263.2 835.2 263.3 C838.0 263.3 841.6 263.3 845.3 264.2 C849.0 265.2 853.4 267.4 857.5 269.3 C861.6 271.1 866.5 273.2 869.7 275.4 C872.9 277.6 874.8 279.5 876.8 282.5 C878.8 285.6 881.0 291.8 881.9 293.7 M884.0 293.7 C884.3 291.2 884.3 284.1 886.0 278.5 C887.7 272.9 891.6 264.8 894.0 260.2 C896.4 255.6 898.2 252.0 900.2 251.0 C902.2 249.9 904.3 251.7 906.3 254.0 C908.3 256.4 910.0 264.3 912.4 265.2 C914.8 266.1 917.8 260.8 920.5 259.2 C923.2 257.7 926.2 256.0 928.6 256.2 C931.0 256.3 932.3 258.3 934.7 260.2 C937.1 262.1 940.8 266.1 942.8 267.3 C944.8 268.5 944.5 267.8 946.9 267.3 C949.3 266.8 953.7 263.7 957.1 264.2 C960.5 264.8 963.8 267.5 967.2 270.4 C970.6 273.3 974.4 277.7 977.4 281.6 C980.4 285.5 984.1 291.7 985.5 293.7 M997.7 293.7 C998.6 292.9 1001.1 288.7 1002.8 288.7 C1004.5 288.7 1007.0 292.9 1007.9 293.7 M1020.0 293.7 C1022.0 291.8 1029.4 283.8 1032.2 282.5 C1035.0 281.3 1035.3 284.1 1037.0 286.0 C1038.7 287.9 1041.5 292.4 1042.4 293.7 M1054.6 293.7 C1057.0 291.2 1063.0 283.0 1068.8 278.5 C1074.5 273.9 1082.8 268.1 1089.1 266.4 C1095.4 264.7 1102.7 268.3 1106.4 268.3 C1110.1 268.3 1108.6 266.9 1111.5 266.4 C1114.4 265.9 1119.0 266.2 1123.7 265.2 C1128.4 264.2 1135.5 260.5 1139.9 260.2 C1144.3 259.9 1146.4 262.6 1150.1 263.3 C1153.8 264.0 1158.2 263.1 1162.3 264.2 C1166.3 265.4 1171.5 269.1 1174.4 270.4 C1177.4 271.8 1177.0 272.7 1180.0 272.3 C1183.0 272.0 1187.1 269.6 1192.2 268.3 C1197.3 266.9 1205.8 265.4 1210.5 264.2 C1215.2 263.1 1216.5 262.2 1220.6 261.2 C1224.7 260.1 1230.5 258.1 1234.9 258.1 C1239.3 258.1 1243.5 260.4 1247.0 261.2 C1250.5 261.9 1253.5 263.2 1256.2 262.7 C1258.9 262.2 1260.9 259.3 1263.3 258.1 C1265.7 256.8 1268.4 255.4 1270.4 255.2 C1272.4 255.0 1272.0 255.5 1275.5 257.1 C1279.0 258.8 1286.0 262.8 1291.7 265.2 C1297.5 267.6 1304.9 270.2 1310.0 271.4 C1315.1 272.6 1318.0 272.2 1322.2 272.3 C1326.4 272.5 1332.0 271.7 1335.4 272.3 C1338.8 273.0 1340.0 275.0 1342.5 276.4 C1345.0 277.7 1347.3 280.1 1350.7 280.4 C1354.1 280.7 1359.2 278.1 1362.9 278.1 C1366.6 278.1 1369.6 279.0 1373.0 280.4 C1376.4 281.8 1380.5 285.3 1383.2 286.6 C1385.9 287.9 1386.6 289.0 1389.3 288.1 C1392.0 287.3 1396.4 283.6 1399.4 281.6 C1402.5 279.6 1404.2 276.7 1407.6 276.0 C1411.0 275.3 1415.7 277.4 1419.7 277.5 C1423.8 277.7 1428.2 275.9 1431.9 276.8 C1435.6 277.6 1439.3 280.9 1442.0 282.5 C1444.7 284.2 1446.2 286.1 1448.1 286.6 C1450.0 287.1 1451.2 287.0 1453.3 285.6 C1455.3 284.3 1457.9 279.2 1460.4 278.5 C1462.9 277.8 1465.5 280.4 1468.5 281.6 C1471.5 282.8 1475.2 285.3 1478.6 285.6 C1482.0 285.9 1485.1 284.4 1488.8 283.5 C1492.5 282.6 1497.6 282.3 1501.0 280.4 C1504.4 278.6 1506.4 275.0 1509.1 272.3 C1511.8 269.6 1514.6 265.3 1517.3 264.2 C1520.0 263.2 1522.2 265.8 1525.4 265.8 C1528.6 265.8 1534.7 264.5 1536.5 264.2 M499.4 101.2 C499.6 105.0 498.4 118.6 500.4 124.1 C502.4 129.6 508.1 131.9 511.6 134.3 C515.2 136.7 517.6 138.7 521.7 138.4 C525.8 138.0 531.6 133.2 536.0 132.2 C540.4 131.2 545.1 131.5 548.1 132.2 C551.1 132.9 551.8 134.5 554.2 136.4 C556.6 138.3 559.4 141.9 562.4 143.6 C565.4 145.2 569.3 146.5 572.5 146.4 C575.7 146.4 579.0 144.4 581.7 143.4 C584.4 142.4 582.9 140.6 588.8 140.5 C594.7 140.3 609.1 140.7 617.2 142.4 C625.3 144.1 630.7 148.9 637.5 150.5 C644.3 152.0 651.1 151.8 657.9 151.6 C664.7 151.5 673.3 150.6 678.2 149.5 C683.1 148.4 683.9 143.4 687.3 144.9 C690.7 146.4 694.6 154.3 698.5 158.8 C702.4 163.2 706.6 171.2 710.7 171.8 C714.8 172.5 718.9 163.5 722.9 162.8 C726.9 162.1 730.6 163.9 735.0 167.8 C739.4 171.7 745.2 184.6 749.3 186.1 C753.4 187.6 756.2 183.3 759.4 177.0 C762.6 170.8 765.2 149.9 768.6 148.6 C772.0 147.2 775.8 164.1 779.7 168.8 C783.6 173.5 787.8 174.2 791.9 176.9 C796.0 179.5 800.7 180.2 804.1 184.9 C807.5 189.7 809.6 205.7 812.3 205.3 C815.0 205.0 817.7 188.8 820.4 183.0 C823.1 177.3 826.1 172.5 828.5 170.9 C830.9 169.3 833.5 172.9 835.0 173.4 C836.5 173.9 835.5 174.9 837.2 174.0 C838.9 173.0 842.9 168.2 845.3 167.8 C847.7 167.5 849.4 169.3 851.4 171.8 C853.4 174.4 855.5 182.9 857.5 183.0 C859.5 183.2 861.7 178.2 863.6 172.8 C865.5 167.4 867.2 154.9 868.7 150.5 C870.2 146.1 871.2 146.1 872.7 146.4 C874.2 146.8 875.9 150.1 877.8 152.6 C879.7 155.1 881.9 160.0 883.9 161.6 C885.9 163.3 887.6 163.4 890.0 162.6 C892.4 161.8 895.4 158.7 898.1 156.6 C900.8 154.6 902.6 152.2 906.3 150.5 C910.0 148.8 916.5 146.8 920.5 146.4 C924.5 146.1 926.9 147.4 930.6 148.6 C934.3 149.7 940.1 152.6 942.8 153.6 C945.5 154.6 944.5 154.0 946.9 154.5 C949.3 155.0 953.7 157.0 957.1 156.6 C960.5 156.3 962.8 152.2 967.2 152.6 C971.6 153.0 978.1 157.1 983.5 158.8 C988.9 160.4 994.0 162.1 999.7 162.6 C1005.5 163.1 1012.2 162.0 1018.0 161.6 C1023.8 161.3 1029.2 161.9 1034.3 160.7 C1039.4 159.5 1042.8 156.2 1048.5 154.5 C1054.2 152.8 1062.0 151.3 1068.8 150.5 C1075.6 149.6 1083.3 150.2 1089.1 149.5 C1094.8 148.8 1100.4 146.8 1103.3 146.4 C1106.2 146.1 1105.0 146.4 1106.4 147.4 C1107.8 148.4 1108.6 151.7 1111.5 152.6 C1114.4 153.5 1119.0 153.1 1123.7 152.6 C1128.4 152.1 1134.8 149.7 1139.9 149.5 C1145.0 149.4 1149.1 150.1 1154.2 151.6 C1159.3 153.2 1166.1 156.9 1170.4 158.8 C1174.7 160.6 1177.0 162.3 1180.0 162.8 C1183.0 163.3 1186.1 162.7 1188.1 161.6 C1190.1 160.6 1190.2 158.5 1192.2 156.6 C1194.2 154.8 1197.9 151.5 1200.3 150.5 C1202.7 149.5 1204.2 149.8 1206.4 150.5 C1208.6 151.2 1210.8 154.7 1213.5 154.5 C1216.2 154.4 1219.5 150.2 1222.7 149.5 C1225.9 148.8 1229.8 150.3 1232.8 150.5 C1235.8 150.6 1237.6 150.6 1241.0 150.5 C1244.4 150.3 1249.7 150.2 1253.1 149.5 C1256.5 148.8 1258.6 147.8 1261.3 146.4 C1264.0 145.1 1267.0 141.8 1269.4 141.4 C1271.8 141.1 1272.8 142.5 1275.5 144.5 C1278.2 146.5 1282.2 151.2 1285.6 153.6 C1289.0 155.9 1291.4 157.6 1295.8 158.8 C1300.2 159.9 1307.7 160.2 1312.1 160.7 C1316.5 161.2 1318.5 160.8 1322.2 161.6 C1325.9 162.5 1331.0 165.3 1334.4 165.7 C1337.8 166.0 1337.8 164.3 1342.5 163.8 C1347.2 163.2 1356.8 163.0 1362.9 162.6 C1369.0 162.3 1374.7 160.9 1379.1 161.6 C1383.5 162.4 1385.2 166.5 1389.3 166.8 C1393.3 167.2 1397.7 164.5 1403.4 163.8 C1409.2 163.1 1417.0 162.1 1423.8 162.6 C1430.6 163.1 1439.0 167.0 1444.1 166.8 C1449.2 166.7 1449.6 162.0 1454.3 161.6 C1459.0 161.3 1468.1 165.2 1472.5 164.7 C1476.9 164.2 1478.0 161.1 1480.7 158.6 C1483.4 156.0 1486.1 150.4 1488.8 149.5 C1491.5 148.7 1494.2 152.1 1496.9 153.6 C1499.6 155.1 1500.9 157.9 1505.0 158.6 C1509.1 159.2 1516.0 156.8 1521.3 157.6 C1526.5 158.4 1534.0 162.3 1536.5 163.2 M566.4 101.2 C566.6 105.0 565.0 120.1 567.4 124.1 C569.8 128.1 577.0 125.4 580.6 125.1 C584.2 124.7 584.7 122.5 588.8 122.0 C592.9 121.5 596.9 121.5 605.0 122.0 C613.1 122.5 628.7 124.6 637.5 125.1 C646.3 125.6 651.1 125.7 657.9 125.1 C664.7 124.4 674.2 122.2 678.2 121.0 C682.2 119.8 680.2 116.6 682.2 117.9 C684.2 119.3 687.0 125.9 690.4 129.3 C693.8 132.7 699.1 136.3 702.5 138.4 C705.9 140.4 707.3 141.9 710.7 141.4 C714.1 140.9 718.2 136.3 722.9 135.3 C727.6 134.2 734.0 134.6 739.1 135.3 C744.2 135.9 750.2 140.8 753.3 139.3 C756.3 137.8 755.7 129.9 757.4 126.2 C759.1 122.5 760.5 118.4 763.5 117.0 C766.5 115.6 772.3 117.3 775.7 117.9 C779.1 118.6 781.1 121.2 783.8 121.0 C786.5 120.9 789.2 116.8 791.9 117.0 C794.6 117.1 797.3 115.1 800.0 122.0 C802.7 128.9 806.2 151.6 808.2 158.6 C810.2 165.5 810.9 164.1 812.3 163.8 C813.6 163.4 814.9 161.9 816.3 156.6 C817.6 151.4 818.4 139.3 820.4 132.2 C822.4 125.1 826.1 117.3 828.5 113.9 C830.9 110.5 832.9 111.8 835.0 112.0 C837.1 112.2 839.2 112.5 841.3 115.1 C843.3 117.6 845.3 124.5 847.3 127.2 C849.3 129.9 851.4 131.2 853.4 131.2 C855.4 131.2 856.8 128.4 859.5 127.2 C862.2 126.0 865.3 124.8 869.7 124.1 C874.1 123.4 880.6 123.5 886.0 123.1 C891.4 122.8 898.8 123.0 902.2 122.2 C905.6 121.3 904.3 119.8 906.3 118.1 C908.3 116.4 911.7 112.7 914.4 112.0 C917.1 111.3 919.1 112.6 922.5 113.9 C925.9 115.3 931.3 118.0 934.7 120.1 C938.1 122.1 940.4 125.0 942.8 126.2 C945.2 127.4 944.8 127.5 948.9 127.2 C953.0 126.8 962.1 124.9 967.2 124.1 C972.3 123.3 975.3 121.8 979.4 122.2 C983.5 122.5 987.5 124.9 991.6 126.2 C995.7 127.6 999.1 130.1 1003.8 130.3 C1008.5 130.4 1014.9 128.1 1020.0 127.2 C1025.1 126.3 1029.5 125.7 1034.3 125.1 C1039.0 124.4 1042.8 123.5 1048.5 123.1 C1054.2 122.8 1063.7 122.3 1068.8 123.1 C1073.9 124.0 1076.6 127.3 1079.0 128.2 C1081.4 129.0 1080.6 128.8 1083.0 128.2 C1085.4 127.5 1091.0 125.5 1093.2 124.1 C1095.4 122.8 1095.5 123.9 1096.2 120.1 C1096.9 116.2 1097.0 104.3 1097.2 101.2 M1279.6 101.2 C1279.8 104.3 1278.2 116.7 1280.6 120.1 C1283.0 123.5 1289.6 121.6 1293.8 121.6 C1298.0 121.6 1302.6 119.5 1306.0 120.1 C1309.4 120.6 1310.7 124.0 1314.1 125.1 C1317.5 126.1 1322.9 126.2 1326.3 126.2 C1329.7 126.2 1331.7 125.5 1334.4 125.1 C1337.1 124.7 1339.5 123.4 1342.5 123.7 C1345.5 124.1 1349.0 126.1 1352.7 127.2 C1356.4 128.3 1360.8 130.3 1364.9 130.3 C1369.0 130.3 1374.0 127.5 1377.1 127.2 C1380.1 126.8 1380.8 127.5 1383.2 128.2 C1385.6 128.8 1387.9 130.9 1391.3 131.2 C1394.7 131.6 1398.0 130.6 1403.4 130.3 C1408.8 129.9 1417.0 129.5 1423.8 129.3 C1430.6 129.1 1437.3 129.1 1444.1 129.3 C1450.9 129.5 1459.0 129.9 1464.4 130.3 C1469.8 130.6 1472.2 131.6 1476.6 131.2 C1481.0 130.9 1487.1 128.2 1490.8 128.2 C1494.5 128.2 1496.0 130.6 1499.0 131.2 C1502.0 131.9 1504.7 132.2 1509.1 132.2 C1513.5 132.2 1521.3 130.4 1525.4 131.2 C1529.5 132.1 1531.7 136.0 1533.5 137.4 C1535.3 138.8 1536.0 139.3 1536.5 139.7 M1301.9 101.2 C1301.9 102.0 1300.2 104.2 1301.9 105.8 C1303.6 107.5 1308.7 109.7 1312.1 111.0 C1315.5 112.4 1318.5 113.2 1322.2 113.9 C1325.9 114.6 1331.0 114.8 1334.4 115.1 C1337.8 115.3 1337.8 115.5 1342.5 115.6 C1347.2 115.8 1357.1 116.1 1362.9 116.0 C1368.7 115.9 1372.0 114.7 1377.1 115.1 C1382.2 115.4 1387.9 117.0 1393.3 118.1 C1398.7 119.3 1404.5 121.7 1409.6 122.2 C1414.7 122.7 1418.0 121.4 1423.8 121.0 C1429.5 120.7 1437.3 119.9 1444.1 120.1 C1450.9 120.3 1458.3 121.7 1464.4 122.2 C1470.5 122.7 1476.0 123.8 1480.7 123.1 C1485.5 122.5 1489.9 119.6 1492.9 118.1 C1496.0 116.6 1497.8 116.2 1499.0 114.1 C1500.2 112.0 1500.2 108.0 1500.0 105.8 C1499.8 103.7 1498.3 102.0 1498.0 101.2 M633.5 101.2 C634.2 102.3 635.5 106.1 637.5 107.9 C639.5 109.7 643.3 112.1 645.7 112.0 C648.1 111.8 649.8 107.6 651.8 107.0 C653.8 106.3 656.2 107.1 657.9 107.9 C659.6 108.8 659.2 111.3 661.9 112.0 C664.6 112.7 671.7 113.8 674.1 112.0 C676.5 110.2 675.8 103.0 676.1 101.2 M698.5 101.2 C698.8 103.7 698.5 113.0 700.5 116.0 C702.5 119.0 706.0 118.8 710.7 119.1 C715.5 119.4 724.3 119.1 729.0 117.9 C733.7 116.8 735.7 113.6 739.1 112.0 C742.5 110.3 745.9 109.7 749.3 107.9 C752.7 106.1 757.7 102.3 759.4 101.2 M816.3 101.2 C816.9 101.8 818.4 104.2 820.0 105.0 C821.6 105.9 823.9 106.7 826.0 106.0 C828.1 105.4 831.5 102.0 832.6 101.2 M845.3 101.2 C846.3 102.3 848.0 107.2 851.4 107.9 C854.8 108.7 861.2 106.5 865.6 105.8 C870.0 105.1 873.4 103.1 877.8 103.9 C882.2 104.7 887.9 110.0 892.0 110.8 C896.1 111.7 898.1 109.5 902.2 108.9 C906.3 108.3 911.7 107.3 916.4 107.0 C921.1 106.7 927.2 107.5 930.6 107.0 C934.0 106.5 935.5 104.9 936.7 103.9 C937.9 102.9 937.6 101.6 937.8 101.2 M955.0 101.2 C954.7 102.5 952.7 106.6 953.4 108.9 C954.1 111.2 955.5 113.9 959.1 115.1 C962.8 116.2 970.6 115.5 975.3 116.0 C980.0 116.5 982.8 116.9 987.5 117.9 C992.2 119.0 998.7 121.8 1003.8 122.2 C1008.9 122.5 1013.3 120.9 1018.0 120.1 C1022.7 119.2 1029.0 118.3 1032.2 117.0 C1035.4 115.6 1036.5 114.6 1037.3 112.0 C1038.1 109.3 1037.3 103.0 1037.3 101.2 M1054.6 101.2 C1054.4 103.0 1053.1 109.7 1053.6 112.0 C1054.1 114.3 1056.4 115.1 1057.6 115.1 C1058.8 115.1 1060.2 114.3 1060.7 112.0 C1061.2 109.7 1060.7 103.0 1060.7 101.2 M166.0 101.2 C166.3 101.8 166.5 104.0 168.0 105.0 C169.5 106.1 172.5 107.4 175.0 107.6 C177.5 107.7 181.2 107.1 183.0 106.0 C184.8 105.0 185.1 102.0 185.5 101.2 M195.1 101.2 C195.3 104.5 193.6 117.0 196.1 121.2 C198.6 125.4 205.9 124.9 210.3 126.2 C214.7 127.6 219.1 128.3 222.5 129.3 C225.9 130.3 230.1 133.2 230.6 132.0 C231.1 130.8 226.3 127.3 225.6 122.2 C224.9 117.0 226.4 104.7 226.6 101.2 M295.7 101.2 C295.8 102.8 295.8 108.5 296.5 110.8 C297.2 113.1 298.8 114.7 300.0 115.1 C301.2 115.4 303.0 115.1 304.0 112.8 C305.0 110.4 305.5 103.1 305.8 101.2 M313.0 105.0 C313.8 105.7 316.2 108.1 318.0 108.9 C319.8 109.7 322.3 110.3 324.0 109.9 C325.7 109.4 328.3 107.5 328.0 106.0 C327.7 104.6 324.0 101.8 322.0 101.2 C320.0 100.6 317.5 101.5 316.0 102.2 C314.5 102.8 313.5 104.6 313.0 105.0 M344.9 101.2 C344.8 103.3 343.1 109.9 344.4 113.9 C345.7 117.9 349.9 122.9 352.6 125.1 C355.3 127.3 358.0 127.7 360.7 127.2 C363.4 126.7 366.9 124.4 368.8 122.2 C370.7 120.0 371.3 117.4 371.8 113.9 C372.3 110.4 371.8 103.3 371.8 101.2 M471.4 101.2 C471.5 103.1 471.0 110.3 471.8 112.8 C472.6 115.2 474.3 115.5 476.0 116.0 C477.7 116.5 480.7 116.5 482.0 115.6 C483.3 114.8 483.7 113.2 484.0 110.8 C484.3 108.4 484.0 102.8 484.0 101.2" fill="none" stroke="#000" stroke-width="1.9" stroke-linejoin="round"/><path clip-path="url(#cq1)" d="M131.1 514.7 C132.6 511.6 136.3 503.9 140.0 496.2 C143.7 488.6 150.0 475.1 153.4 468.9 C156.8 462.7 158.6 460.2 160.6 458.9 C162.6 457.5 162.9 458.3 165.6 460.8 C168.3 463.3 172.7 473.4 176.8 474.1 C180.9 474.8 186.8 465.7 190.0 464.8 C193.2 464.0 193.4 465.8 196.1 468.9 C198.8 471.9 202.6 480.1 206.3 483.1 C210.0 486.2 213.8 486.3 218.5 487.2 C223.2 488.0 230.6 489.0 234.7 488.3 C238.8 487.7 239.8 485.9 242.8 483.1 C245.9 480.4 250.3 473.3 253.0 472.0 C255.7 470.6 256.1 472.8 259.1 475.1 C262.2 477.3 266.9 485.8 271.3 485.3 C275.7 484.7 281.8 472.3 285.5 472.0 C289.2 471.6 290.6 478.7 293.6 483.1 C296.7 487.5 300.1 496.5 303.8 498.3 C307.5 500.2 311.3 493.8 316.0 494.3 C320.7 494.8 327.5 502.9 332.2 501.4 C336.9 499.9 341.0 488.8 344.4 485.3 C347.8 481.7 348.5 477.2 352.6 480.1 C356.7 482.9 364.8 498.4 368.8 502.4 C372.9 506.4 373.2 505.1 376.9 503.9 C380.6 502.7 384.4 494.7 391.2 495.3 C398.0 495.9 410.8 507.7 417.6 507.6 C424.4 507.4 426.1 493.8 431.8 494.3 C437.6 494.8 445.7 509.1 452.1 510.7 C458.5 512.2 463.9 504.7 470.4 503.5 C476.9 502.4 485.4 501.5 491.3 503.5 C497.2 505.6 500.9 511.6 505.5 515.7 C510.1 519.7 513.6 528.6 518.7 527.8 C523.8 527.0 531.1 513.7 536.0 510.7 C540.9 507.6 544.7 508.7 548.1 509.5 C551.5 510.3 553.6 513.3 556.3 515.7 C559.0 518.0 560.7 521.3 564.4 523.8 C568.1 526.2 574.5 530.6 578.6 530.3 C582.7 530.0 585.8 522.2 588.8 521.8 C591.8 521.4 592.8 527.0 596.9 528.0 C601.0 529.0 608.5 526.0 613.2 528.0 C617.9 530.0 620.9 535.0 625.3 540.1 C629.7 545.2 634.2 557.6 639.6 558.4 C645.0 559.2 652.1 546.7 657.9 545.1 C663.6 543.6 669.0 551.7 674.1 549.2 C679.2 546.6 684.9 531.4 688.3 529.9 C691.7 528.4 692.7 533.9 694.4 540.1 C696.1 546.4 697.8 562.9 698.5 567.5 M722.9 567.5 C723.9 565.2 727.0 554.0 729.0 554.0 C731.0 554.0 734.0 565.2 735.0 567.5 M755.4 567.5 C757.1 563.7 761.8 547.0 765.5 545.1 C769.2 543.3 774.0 553.8 777.7 556.3 C781.4 558.8 784.9 560.2 787.9 560.3 C790.9 560.5 794.0 556.1 796.0 557.2 C798.0 558.4 799.3 565.7 800.0 567.5 M820.4 567.5 C821.2 564.6 823.6 555.1 825.0 550.1 C826.4 545.2 826.8 539.8 828.5 537.6 C830.2 535.4 832.4 537.0 835.2 537.0 C838.0 537.1 841.6 537.0 845.3 538.0 C849.0 539.0 853.4 541.1 857.5 543.0 C861.6 544.9 866.5 546.9 869.7 549.2 C872.9 551.4 874.8 553.2 876.8 556.3 C878.8 559.3 881.0 565.6 881.9 567.5 M884.0 567.5 C884.3 564.9 884.3 557.8 886.0 552.2 C887.7 546.7 891.6 538.5 894.0 534.0 C896.4 529.4 898.2 525.7 900.2 524.7 C902.2 523.7 904.3 525.4 906.3 527.8 C908.3 530.2 910.0 538.1 912.4 539.0 C914.8 539.8 917.8 534.5 920.5 533.0 C923.2 531.5 926.2 529.8 928.6 529.9 C931.0 530.1 932.3 532.1 934.7 534.0 C937.1 535.8 940.8 539.9 942.8 541.1 C944.8 542.3 944.5 541.6 946.9 541.1 C949.3 540.6 953.7 537.5 957.1 538.0 C960.5 538.5 963.8 541.3 967.2 544.2 C970.6 547.0 974.4 551.4 977.4 555.3 C980.4 559.2 984.1 565.4 985.5 567.5 M997.7 567.5 C998.6 566.6 1001.1 562.4 1002.8 562.4 C1004.5 562.4 1007.0 566.6 1007.9 567.5 M1020.0 567.5 C1022.0 565.6 1029.4 557.6 1032.2 556.3 C1035.0 555.0 1035.3 557.9 1037.0 559.8 C1038.7 561.6 1041.5 566.2 1042.4 567.5 M1054.6 567.5 C1057.0 564.9 1063.0 556.8 1068.8 552.2 C1074.5 547.7 1082.8 541.8 1089.1 540.1 C1095.4 538.4 1102.7 542.0 1106.4 542.0 C1110.1 542.0 1108.6 540.6 1111.5 540.1 C1114.4 539.6 1119.0 540.0 1123.7 539.0 C1128.4 537.9 1135.5 534.3 1139.9 534.0 C1144.3 533.6 1146.4 536.4 1150.1 537.0 C1153.8 537.7 1158.2 536.8 1162.3 538.0 C1166.3 539.2 1171.5 542.8 1174.4 544.2 C1177.4 545.5 1177.0 546.4 1180.0 546.1 C1183.0 545.7 1187.1 543.4 1192.2 542.0 C1197.3 540.7 1205.8 539.2 1210.5 538.0 C1215.2 536.8 1216.5 535.9 1220.6 534.9 C1224.7 533.9 1230.5 531.8 1234.9 531.8 C1239.3 531.8 1243.5 534.1 1247.0 534.9 C1250.5 535.7 1253.5 537.0 1256.2 536.5 C1258.9 535.9 1260.9 533.1 1263.3 531.8 C1265.7 530.6 1268.4 529.1 1270.4 529.0 C1272.4 528.8 1272.0 529.2 1275.5 530.9 C1279.0 532.5 1286.0 536.6 1291.7 539.0 C1297.5 541.3 1304.9 543.9 1310.0 545.1 C1315.1 546.3 1318.0 545.9 1322.2 546.1 C1326.4 546.2 1332.0 545.4 1335.4 546.1 C1338.8 546.8 1340.0 548.8 1342.5 550.1 C1345.0 551.5 1347.3 553.9 1350.7 554.2 C1354.1 554.5 1359.2 551.9 1362.9 551.9 C1366.6 551.9 1369.6 552.8 1373.0 554.2 C1376.4 555.6 1380.5 559.0 1383.2 560.3 C1385.9 561.6 1386.6 562.7 1389.3 561.9 C1392.0 561.0 1396.4 557.3 1399.4 555.3 C1402.5 553.3 1404.2 550.4 1407.6 549.7 C1411.0 549.1 1415.7 551.2 1419.7 551.3 C1423.8 551.4 1428.2 549.7 1431.9 550.5 C1435.6 551.3 1439.3 554.6 1442.0 556.3 C1444.7 557.9 1446.2 559.8 1448.1 560.3 C1450.0 560.8 1451.2 560.7 1453.3 559.4 C1455.3 558.0 1457.9 552.9 1460.4 552.2 C1462.9 551.6 1465.5 554.1 1468.5 555.3 C1471.5 556.5 1475.2 559.0 1478.6 559.4 C1482.0 559.7 1485.1 558.1 1488.8 557.2 C1492.5 556.4 1497.6 556.0 1501.0 554.2 C1504.4 552.3 1506.4 548.8 1509.1 546.1 C1511.8 543.4 1514.6 539.1 1517.3 538.0 C1520.0 536.9 1522.2 539.5 1525.4 539.5 C1528.6 539.5 1534.7 538.3 1536.5 538.0 M499.4 374.9 C499.6 378.8 498.4 392.3 500.4 397.9 C502.4 403.4 508.1 405.7 511.6 408.1 C515.2 410.4 517.6 412.5 521.7 412.1 C525.8 411.7 531.6 407.0 536.0 405.9 C540.4 404.9 545.1 405.2 548.1 405.9 C551.1 406.6 551.8 408.3 554.2 410.2 C556.6 412.1 559.4 415.6 562.4 417.3 C565.4 419.0 569.3 420.2 572.5 420.2 C575.7 420.2 579.0 418.1 581.7 417.1 C584.4 416.1 582.9 414.4 588.8 414.2 C594.7 414.1 609.1 414.5 617.2 416.1 C625.3 417.8 630.7 422.7 637.5 424.2 C644.3 425.8 651.1 425.5 657.9 425.4 C664.7 425.2 673.3 424.4 678.2 423.3 C683.1 422.1 683.9 417.1 687.3 418.6 C690.7 420.2 694.6 428.0 698.5 432.5 C702.4 437.0 706.6 444.9 710.7 445.6 C714.8 446.3 718.9 437.2 722.9 436.6 C726.9 435.9 730.6 437.7 735.0 441.6 C739.4 445.4 745.2 458.3 749.3 459.8 C753.4 461.4 756.2 457.1 759.4 450.8 C762.6 444.5 765.2 423.7 768.6 422.3 C772.0 420.9 775.8 437.8 779.7 442.5 C783.6 447.2 787.8 447.9 791.9 450.6 C796.0 453.3 800.7 453.9 804.1 458.7 C807.5 463.4 809.6 479.4 812.3 479.1 C815.0 478.8 817.7 462.5 820.4 456.8 C823.1 451.0 826.1 446.2 828.5 444.6 C830.9 443.0 833.5 446.6 835.0 447.1 C836.5 447.7 835.5 448.6 837.2 447.7 C838.9 446.8 842.9 441.9 845.3 441.6 C847.7 441.2 849.4 443.1 851.4 445.6 C853.4 448.1 855.5 456.6 857.5 456.8 C859.5 456.9 861.7 452.0 863.6 446.6 C865.5 441.1 867.2 428.6 868.7 424.2 C870.2 419.8 871.2 419.8 872.7 420.2 C874.2 420.5 875.9 423.8 877.8 426.3 C879.7 428.9 881.9 433.7 883.9 435.4 C885.9 437.1 887.6 437.2 890.0 436.4 C892.4 435.5 895.4 432.4 898.1 430.4 C900.8 428.4 902.6 425.9 906.3 424.2 C910.0 422.5 916.5 420.5 920.5 420.2 C924.5 419.9 926.9 421.1 930.6 422.3 C934.3 423.5 940.1 426.3 942.8 427.3 C945.5 428.3 944.5 427.8 946.9 428.3 C949.3 428.8 953.7 430.7 957.1 430.4 C960.5 430.1 962.8 426.0 967.2 426.3 C971.6 426.7 978.1 430.8 983.5 432.5 C988.9 434.2 994.0 435.9 999.7 436.4 C1005.5 436.8 1012.2 435.7 1018.0 435.4 C1023.8 435.1 1029.2 435.6 1034.3 434.4 C1039.4 433.2 1042.8 430.0 1048.5 428.3 C1054.2 426.6 1062.0 425.1 1068.8 424.2 C1075.6 423.4 1083.3 423.9 1089.1 423.3 C1094.8 422.6 1100.4 420.5 1103.3 420.2 C1106.2 419.8 1105.0 420.1 1106.4 421.1 C1107.8 422.2 1108.6 425.5 1111.5 426.3 C1114.4 427.2 1119.0 426.9 1123.7 426.3 C1128.4 425.8 1134.8 423.4 1139.9 423.3 C1145.0 423.1 1149.1 423.8 1154.2 425.4 C1159.3 426.9 1166.1 430.6 1170.4 432.5 C1174.7 434.4 1177.0 436.1 1180.0 436.6 C1183.0 437.0 1186.1 436.4 1188.1 435.4 C1190.1 434.4 1190.2 432.3 1192.2 430.4 C1194.2 428.5 1197.9 425.3 1200.3 424.2 C1202.7 423.2 1204.2 423.6 1206.4 424.2 C1208.6 424.9 1210.8 428.4 1213.5 428.3 C1216.2 428.1 1219.5 423.9 1222.7 423.3 C1225.9 422.6 1229.8 424.1 1232.8 424.2 C1235.8 424.4 1237.6 424.4 1241.0 424.2 C1244.4 424.1 1249.7 423.9 1253.1 423.3 C1256.5 422.6 1258.6 421.5 1261.3 420.2 C1264.0 418.8 1267.0 415.5 1269.4 415.2 C1271.8 414.9 1272.8 416.2 1275.5 418.3 C1278.2 420.3 1282.2 424.9 1285.6 427.3 C1289.0 429.7 1291.4 431.3 1295.8 432.5 C1300.2 433.7 1307.7 434.0 1312.1 434.4 C1316.5 434.9 1318.5 434.6 1322.2 435.4 C1325.9 436.2 1331.0 439.1 1334.4 439.4 C1337.8 439.8 1337.8 438.0 1342.5 437.5 C1347.2 437.0 1356.8 436.7 1362.9 436.4 C1369.0 436.0 1374.7 434.7 1379.1 435.4 C1383.5 436.1 1385.2 440.2 1389.3 440.6 C1393.3 440.9 1397.7 438.2 1403.4 437.5 C1409.2 436.8 1417.0 435.8 1423.8 436.4 C1430.6 436.9 1439.0 440.8 1444.1 440.6 C1449.2 440.4 1449.6 435.7 1454.3 435.4 C1459.0 435.0 1468.1 439.0 1472.5 438.5 C1476.9 438.0 1478.0 434.8 1480.7 432.3 C1483.4 429.8 1486.1 424.1 1488.8 423.3 C1491.5 422.4 1494.2 425.8 1496.9 427.3 C1499.6 428.8 1500.9 431.6 1505.0 432.3 C1509.1 433.0 1516.0 430.6 1521.3 431.4 C1526.5 432.1 1534.0 436.0 1536.5 436.9 M566.4 374.9 C566.6 378.8 565.0 393.9 567.4 397.9 C569.8 401.8 577.0 399.2 580.6 398.8 C584.2 398.5 584.7 396.3 588.8 395.7 C592.9 395.2 596.9 395.2 605.0 395.7 C613.1 396.3 628.7 398.3 637.5 398.8 C646.3 399.3 651.1 399.5 657.9 398.8 C664.7 398.1 674.2 396.0 678.2 394.8 C682.2 393.6 680.2 390.3 682.2 391.7 C684.2 393.1 687.0 399.7 690.4 403.1 C693.8 406.5 699.1 410.1 702.5 412.1 C705.9 414.1 707.3 415.7 710.7 415.2 C714.1 414.7 718.2 410.0 722.9 409.0 C727.6 408.0 734.0 408.3 739.1 409.0 C744.2 409.7 750.2 414.6 753.3 413.1 C756.3 411.6 755.7 403.7 757.4 400.0 C759.1 396.3 760.5 392.1 763.5 390.7 C766.5 389.4 772.3 391.0 775.7 391.7 C779.1 392.4 781.1 394.9 783.8 394.8 C786.5 394.6 789.2 390.6 791.9 390.7 C794.6 390.9 797.3 388.8 800.0 395.7 C802.7 402.7 806.2 425.4 808.2 432.3 C810.2 439.3 810.9 437.8 812.3 437.5 C813.6 437.2 814.9 435.7 816.3 430.4 C817.6 425.1 818.4 413.1 820.4 405.9 C822.4 398.8 826.1 391.0 828.5 387.7 C830.9 384.3 832.9 385.5 835.0 385.7 C837.1 385.9 839.2 386.3 841.3 388.8 C843.3 391.3 845.3 398.2 847.3 400.9 C849.3 403.6 851.4 405.0 853.4 405.0 C855.4 405.0 856.8 402.1 859.5 400.9 C862.2 399.8 865.3 398.5 869.7 397.9 C874.1 397.2 880.6 397.2 886.0 396.9 C891.4 396.6 898.8 396.8 902.2 395.9 C905.6 395.1 904.3 393.6 906.3 391.9 C908.3 390.2 911.7 386.4 914.4 385.7 C917.1 385.0 919.1 386.3 922.5 387.7 C925.9 389.0 931.3 391.8 934.7 393.8 C938.1 395.9 940.4 398.8 942.8 400.0 C945.2 401.2 944.8 401.3 948.9 400.9 C953.0 400.6 962.1 398.7 967.2 397.9 C972.3 397.0 975.3 395.6 979.4 395.9 C983.5 396.3 987.5 398.6 991.6 400.0 C995.7 401.3 999.1 403.9 1003.8 404.0 C1008.5 404.2 1014.9 401.8 1020.0 400.9 C1025.1 400.1 1029.5 399.5 1034.3 398.8 C1039.0 398.1 1042.8 397.2 1048.5 396.9 C1054.2 396.6 1063.7 396.1 1068.8 396.9 C1073.9 397.7 1076.6 401.1 1079.0 401.9 C1081.4 402.7 1080.6 402.6 1083.0 401.9 C1085.4 401.2 1091.0 399.2 1093.2 397.9 C1095.4 396.5 1095.5 397.6 1096.2 393.8 C1096.9 390.0 1097.0 378.1 1097.2 374.9 M1279.6 374.9 C1279.8 378.1 1278.2 390.4 1280.6 393.8 C1283.0 397.2 1289.6 395.4 1293.8 395.4 C1298.0 395.4 1302.6 393.2 1306.0 393.8 C1309.4 394.4 1310.7 397.8 1314.1 398.8 C1317.5 399.8 1322.9 400.0 1326.3 400.0 C1329.7 400.0 1331.7 399.2 1334.4 398.8 C1337.1 398.4 1339.5 397.1 1342.5 397.5 C1345.5 397.8 1349.0 399.8 1352.7 400.9 C1356.4 402.0 1360.8 404.0 1364.9 404.0 C1369.0 404.0 1374.0 401.3 1377.1 400.9 C1380.1 400.6 1380.8 401.2 1383.2 401.9 C1385.6 402.6 1387.9 404.6 1391.3 405.0 C1394.7 405.3 1398.0 404.3 1403.4 404.0 C1408.8 403.7 1417.0 403.2 1423.8 403.1 C1430.6 402.9 1437.3 402.9 1444.1 403.1 C1450.9 403.2 1459.0 403.7 1464.4 404.0 C1469.8 404.3 1472.2 405.3 1476.6 405.0 C1481.0 404.6 1487.1 401.9 1490.8 401.9 C1494.5 401.9 1496.0 404.3 1499.0 405.0 C1502.0 405.7 1504.7 405.9 1509.1 405.9 C1513.5 405.9 1521.3 404.1 1525.4 405.0 C1529.5 405.8 1531.7 409.7 1533.5 411.1 C1535.3 412.6 1536.0 413.1 1536.5 413.4 M1301.9 374.9 C1301.9 375.7 1300.2 377.9 1301.9 379.6 C1303.6 381.2 1308.7 383.4 1312.1 384.8 C1315.5 386.1 1318.5 387.0 1322.2 387.7 C1325.9 388.3 1331.0 388.5 1334.4 388.8 C1337.8 389.1 1337.8 389.2 1342.5 389.4 C1347.2 389.5 1357.1 389.9 1362.9 389.8 C1368.7 389.7 1372.0 388.5 1377.1 388.8 C1382.2 389.2 1387.9 390.7 1393.3 391.9 C1398.7 393.1 1404.5 395.5 1409.6 395.9 C1414.7 396.4 1418.0 395.1 1423.8 394.8 C1429.5 394.4 1437.3 393.6 1444.1 393.8 C1450.9 394.0 1458.3 395.4 1464.4 395.9 C1470.5 396.4 1476.0 397.6 1480.7 396.9 C1485.5 396.2 1489.9 393.4 1492.9 391.9 C1496.0 390.4 1497.8 389.9 1499.0 387.8 C1500.2 385.8 1500.2 381.7 1500.0 379.6 C1499.8 377.4 1498.3 375.7 1498.0 374.9 M633.5 374.9 C634.2 376.1 635.5 379.9 637.5 381.7 C639.5 383.5 643.3 385.9 645.7 385.7 C648.1 385.6 649.8 381.4 651.8 380.7 C653.8 380.1 656.2 380.9 657.9 381.7 C659.6 382.5 659.2 385.1 661.9 385.7 C664.6 386.4 671.7 387.5 674.1 385.7 C676.5 383.9 675.8 376.7 676.1 374.9 M698.5 374.9 C698.8 377.4 698.5 386.8 700.5 389.8 C702.5 392.8 706.0 392.5 710.7 392.9 C715.5 393.2 724.3 392.9 729.0 391.7 C733.7 390.5 735.7 387.4 739.1 385.7 C742.5 384.1 745.9 383.5 749.3 381.7 C752.7 379.9 757.7 376.1 759.4 374.9 M816.3 374.9 C816.9 375.6 818.4 378.0 820.0 378.8 C821.6 379.6 823.9 380.4 826.0 379.8 C828.1 379.1 831.5 375.8 832.6 374.9 M845.3 374.9 C846.3 376.1 848.0 380.9 851.4 381.7 C854.8 382.5 861.2 380.2 865.6 379.6 C870.0 378.9 873.4 376.8 877.8 377.6 C882.2 378.5 887.9 383.7 892.0 384.6 C896.1 385.4 898.1 383.3 902.2 382.6 C906.3 382.0 911.7 381.0 916.4 380.7 C921.1 380.4 927.2 381.2 930.6 380.7 C934.0 380.2 935.5 378.6 936.7 377.6 C937.9 376.7 937.6 375.4 937.8 374.9 M955.0 374.9 C954.7 376.2 952.7 380.3 953.4 382.6 C954.1 385.0 955.5 387.6 959.1 388.8 C962.8 390.0 970.6 389.3 975.3 389.8 C980.0 390.3 982.8 390.7 987.5 391.7 C992.2 392.7 998.7 395.6 1003.8 395.9 C1008.9 396.3 1013.3 394.7 1018.0 393.8 C1022.7 392.9 1029.0 392.1 1032.2 390.7 C1035.4 389.4 1036.5 388.4 1037.3 385.7 C1038.1 383.1 1037.3 376.7 1037.3 374.9 M1054.6 374.9 C1054.4 376.7 1053.1 383.4 1053.6 385.7 C1054.1 388.0 1056.4 388.8 1057.6 388.8 C1058.8 388.8 1060.2 388.0 1060.7 385.7 C1061.2 383.4 1060.7 376.7 1060.7 374.9 M166.0 374.9 C166.3 375.6 166.5 377.7 168.0 378.8 C169.5 379.9 172.5 381.1 175.0 381.3 C177.5 381.5 181.2 380.8 183.0 379.8 C184.8 378.7 185.1 375.8 185.5 374.9 M195.1 374.9 C195.3 378.3 193.6 390.8 196.1 395.0 C198.6 399.1 205.9 398.6 210.3 400.0 C214.7 401.3 219.1 402.1 222.5 403.1 C225.9 404.0 230.1 406.9 230.6 405.8 C231.1 404.6 226.3 401.1 225.6 395.9 C224.9 390.8 226.4 378.4 226.6 374.9 M295.7 374.9 C295.8 376.6 295.8 382.3 296.5 384.6 C297.2 386.9 298.8 388.5 300.0 388.8 C301.2 389.1 303.0 388.8 304.0 386.5 C305.0 384.2 305.5 376.9 305.8 374.9 M313.0 378.8 C313.8 379.4 316.2 381.8 318.0 382.6 C319.8 383.5 322.3 384.1 324.0 383.6 C325.7 383.1 328.3 381.2 328.0 379.8 C327.7 378.3 324.0 375.6 322.0 374.9 C320.0 374.3 317.5 375.3 316.0 375.9 C314.5 376.6 313.5 378.3 313.0 378.8 M344.9 374.9 C344.8 377.1 343.1 383.7 344.4 387.7 C345.7 391.6 349.9 396.6 352.6 398.8 C355.3 401.0 358.0 401.4 360.7 400.9 C363.4 400.5 366.9 398.1 368.8 395.9 C370.7 393.7 371.3 391.2 371.8 387.7 C372.3 384.2 371.8 377.1 371.8 374.9 M471.4 374.9 C471.5 376.9 471.0 384.0 471.8 386.5 C472.6 389.0 474.3 389.3 476.0 389.8 C477.7 390.3 480.7 390.3 482.0 389.4 C483.3 388.5 483.7 387.0 484.0 384.6 C484.3 382.2 484.0 376.6 484.0 374.9" fill="none" stroke="#000" stroke-width="1.9" stroke-linejoin="round"/><path clip-path="url(#cq2)" d="M131.1 788.5 C132.6 785.4 136.3 777.6 140.0 770.0 C143.7 762.3 150.0 748.9 153.4 742.6 C156.8 736.4 158.6 734.0 160.6 732.6 C162.6 731.3 162.9 732.0 165.6 734.6 C168.3 737.1 172.7 747.2 176.8 747.8 C180.9 748.5 186.8 739.5 190.0 738.6 C193.2 737.7 193.4 739.6 196.1 742.6 C198.8 745.7 202.6 753.8 206.3 756.9 C210.0 759.9 213.8 760.1 218.5 760.9 C223.2 761.8 230.6 762.8 234.7 762.1 C238.8 761.4 239.8 759.6 242.8 756.9 C245.9 754.2 250.3 747.1 253.0 745.7 C255.7 744.4 256.1 746.6 259.1 748.8 C262.2 751.0 266.9 759.5 271.3 759.0 C275.7 758.5 281.8 746.1 285.5 745.7 C289.2 745.4 290.6 752.5 293.6 756.9 C296.7 761.3 300.1 770.2 303.8 772.1 C307.5 774.0 311.3 767.5 316.0 768.1 C320.7 768.6 327.5 776.7 332.2 775.2 C336.9 773.7 341.0 762.6 344.4 759.0 C347.8 755.4 348.5 750.9 352.6 753.8 C356.7 756.7 364.8 772.2 368.8 776.1 C372.9 780.1 373.2 778.9 376.9 777.7 C380.6 776.5 384.4 768.4 391.2 769.0 C398.0 769.6 410.8 781.5 417.6 781.3 C424.4 781.2 426.1 767.5 431.8 768.1 C437.6 768.6 445.7 782.9 452.1 784.4 C458.5 786.0 463.9 778.5 470.4 777.3 C476.9 776.1 485.4 775.3 491.3 777.3 C497.2 779.3 500.9 785.4 505.5 789.4 C510.1 793.5 513.6 802.4 518.7 801.5 C523.8 800.7 531.1 787.5 536.0 784.4 C540.9 781.4 544.7 782.4 548.1 783.3 C551.5 784.1 553.6 787.0 556.3 789.4 C559.0 791.8 560.7 795.1 564.4 797.5 C568.1 799.9 574.5 804.4 578.6 804.0 C582.7 803.7 585.8 796.0 588.8 795.6 C591.8 795.2 592.8 800.7 596.9 801.7 C601.0 802.8 608.5 799.7 613.2 801.7 C617.9 803.8 620.9 808.8 625.3 813.9 C629.7 818.9 634.2 831.3 639.6 832.2 C645.0 833.0 652.1 820.4 657.9 818.9 C663.6 817.3 669.0 825.4 674.1 822.9 C679.2 820.4 684.9 805.2 688.3 803.7 C691.7 802.2 692.7 807.6 694.4 813.9 C696.1 820.1 697.8 836.6 698.5 841.2 M722.9 841.2 C723.9 839.0 727.0 827.7 729.0 827.7 C731.0 827.7 734.0 839.0 735.0 841.2 M755.4 841.2 C757.1 837.5 761.8 820.7 765.5 818.9 C769.2 817.0 774.0 827.5 777.7 830.0 C781.4 832.6 784.9 833.9 787.9 834.1 C790.9 834.2 794.0 829.8 796.0 831.0 C798.0 832.2 799.3 839.5 800.0 841.2 M820.4 841.2 C821.2 838.3 823.6 828.8 825.0 823.9 C826.4 818.9 826.8 813.5 828.5 811.4 C830.2 809.2 832.4 810.7 835.2 810.8 C838.0 810.8 841.6 810.8 845.3 811.7 C849.0 812.7 853.4 814.9 857.5 816.8 C861.6 818.6 866.5 820.7 869.7 822.9 C872.9 825.1 874.8 827.0 876.8 830.0 C878.8 833.1 881.0 839.3 881.9 841.2 M884.0 841.2 C884.3 838.7 884.3 831.6 886.0 826.0 C887.7 820.4 891.6 812.3 894.0 807.7 C896.4 803.1 898.2 799.5 900.2 798.5 C902.2 797.4 904.3 799.2 906.3 801.5 C908.3 803.9 910.0 811.8 912.4 812.7 C914.8 813.6 917.8 808.3 920.5 806.7 C923.2 805.2 926.2 803.5 928.6 803.7 C931.0 803.8 932.3 805.8 934.7 807.7 C937.1 809.6 940.8 813.6 942.8 814.8 C944.8 816.0 944.5 815.3 946.9 814.8 C949.3 814.3 953.7 811.2 957.1 811.7 C960.5 812.3 963.8 815.0 967.2 817.9 C970.6 820.8 974.4 825.2 977.4 829.1 C980.4 833.0 984.1 839.2 985.5 841.2 M997.7 841.2 C998.6 840.4 1001.1 836.2 1002.8 836.2 C1004.5 836.2 1007.0 840.4 1007.9 841.2 M1020.0 841.2 C1022.0 839.3 1029.4 831.3 1032.2 830.0 C1035.0 828.8 1035.3 831.6 1037.0 833.5 C1038.7 835.4 1041.5 839.9 1042.4 841.2 M1054.6 841.2 C1057.0 838.7 1063.0 830.5 1068.8 826.0 C1074.5 821.4 1082.8 815.6 1089.1 813.9 C1095.4 812.2 1102.7 815.8 1106.4 815.8 C1110.1 815.8 1108.6 814.4 1111.5 813.9 C1114.4 813.4 1119.0 813.7 1123.7 812.7 C1128.4 811.7 1135.5 808.0 1139.9 807.7 C1144.3 807.4 1146.4 810.1 1150.1 810.8 C1153.8 811.5 1158.2 810.6 1162.3 811.7 C1166.3 812.9 1171.5 816.6 1174.4 817.9 C1177.4 819.3 1177.0 820.2 1180.0 819.8 C1183.0 819.5 1187.1 817.1 1192.2 815.8 C1197.3 814.4 1205.8 812.9 1210.5 811.7 C1215.2 810.6 1216.5 809.7 1220.6 808.7 C1224.7 807.6 1230.5 805.6 1234.9 805.6 C1239.3 805.6 1243.5 807.9 1247.0 808.7 C1250.5 809.4 1253.5 810.7 1256.2 810.2 C1258.9 809.7 1260.9 806.8 1263.3 805.6 C1265.7 804.3 1268.4 802.9 1270.4 802.7 C1272.4 802.5 1272.0 803.0 1275.5 804.6 C1279.0 806.3 1286.0 810.3 1291.7 812.7 C1297.5 815.1 1304.9 817.7 1310.0 818.9 C1315.1 820.1 1318.0 819.7 1322.2 819.8 C1326.4 820.0 1332.0 819.2 1335.4 819.8 C1338.8 820.5 1340.0 822.5 1342.5 823.9 C1345.0 825.2 1347.3 827.6 1350.7 827.9 C1354.1 828.2 1359.2 825.6 1362.9 825.6 C1366.6 825.6 1369.6 826.5 1373.0 827.9 C1376.4 829.3 1380.5 832.8 1383.2 834.1 C1385.9 835.4 1386.6 836.5 1389.3 835.6 C1392.0 834.8 1396.4 831.1 1399.4 829.1 C1402.5 827.1 1404.2 824.2 1407.6 823.5 C1411.0 822.8 1415.7 824.9 1419.7 825.0 C1423.8 825.2 1428.2 823.4 1431.9 824.3 C1435.6 825.1 1439.3 828.4 1442.0 830.0 C1444.7 831.7 1446.2 833.6 1448.1 834.1 C1450.0 834.6 1451.2 834.5 1453.3 833.1 C1455.3 831.8 1457.9 826.7 1460.4 826.0 C1462.9 825.3 1465.5 827.9 1468.5 829.1 C1471.5 830.3 1475.2 832.8 1478.6 833.1 C1482.0 833.4 1485.1 831.9 1488.8 831.0 C1492.5 830.1 1497.6 829.8 1501.0 827.9 C1504.4 826.1 1506.4 822.5 1509.1 819.8 C1511.8 817.1 1514.6 812.8 1517.3 811.7 C1520.0 810.7 1522.2 813.3 1525.4 813.3 C1528.6 813.3 1534.7 812.0 1536.5 811.7 M499.4 648.7 C499.6 652.5 498.4 666.1 500.4 671.6 C502.4 677.1 508.1 679.4 511.6 681.8 C515.2 684.2 517.6 686.2 521.7 685.9 C525.8 685.5 531.6 680.7 536.0 679.7 C540.4 678.7 545.1 679.0 548.1 679.7 C551.1 680.4 551.8 682.0 554.2 683.9 C556.6 685.8 559.4 689.4 562.4 691.1 C565.4 692.7 569.3 694.0 572.5 693.9 C575.7 693.9 579.0 691.9 581.7 690.9 C584.4 689.9 582.9 688.1 588.8 688.0 C594.7 687.8 609.1 688.2 617.2 689.9 C625.3 691.6 630.7 696.4 637.5 698.0 C644.3 699.5 651.1 699.3 657.9 699.1 C664.7 699.0 673.3 698.1 678.2 697.0 C683.1 695.9 683.9 690.9 687.3 692.4 C690.7 693.9 694.6 701.8 698.5 706.3 C702.4 710.7 706.6 718.7 710.7 719.3 C714.8 720.0 718.9 711.0 722.9 710.3 C726.9 709.6 730.6 711.4 735.0 715.3 C739.4 719.2 745.2 732.1 749.3 733.6 C753.4 735.1 756.2 730.8 759.4 724.5 C762.6 718.3 765.2 697.4 768.6 696.1 C772.0 694.7 775.8 711.6 779.7 716.3 C783.6 721.0 787.8 721.7 791.9 724.4 C796.0 727.0 800.7 727.7 804.1 732.4 C807.5 737.2 809.6 753.2 812.3 752.8 C815.0 752.5 817.7 736.3 820.4 730.5 C823.1 724.8 826.1 720.0 828.5 718.4 C830.9 716.8 833.5 720.4 835.0 720.9 C836.5 721.4 835.5 722.4 837.2 721.5 C838.9 720.5 842.9 715.7 845.3 715.3 C847.7 715.0 849.4 716.8 851.4 719.3 C853.4 721.9 855.5 730.4 857.5 730.5 C859.5 730.7 861.7 725.7 863.6 720.3 C865.5 714.9 867.2 702.4 868.7 698.0 C870.2 693.6 871.2 693.6 872.7 693.9 C874.2 694.3 875.9 697.6 877.8 700.1 C879.7 702.6 881.9 707.5 883.9 709.1 C885.9 710.8 887.6 710.9 890.0 710.1 C892.4 709.3 895.4 706.2 898.1 704.1 C900.8 702.1 902.6 699.7 906.3 698.0 C910.0 696.3 916.5 694.3 920.5 693.9 C924.5 693.6 926.9 694.9 930.6 696.1 C934.3 697.2 940.1 700.1 942.8 701.1 C945.5 702.1 944.5 701.5 946.9 702.0 C949.3 702.5 953.7 704.5 957.1 704.1 C960.5 703.8 962.8 699.7 967.2 700.1 C971.6 700.5 978.1 704.6 983.5 706.3 C988.9 707.9 994.0 709.6 999.7 710.1 C1005.5 710.6 1012.2 709.5 1018.0 709.1 C1023.8 708.8 1029.2 709.4 1034.3 708.2 C1039.4 707.0 1042.8 703.7 1048.5 702.0 C1054.2 700.3 1062.0 698.8 1068.8 698.0 C1075.6 697.1 1083.3 697.7 1089.1 697.0 C1094.8 696.3 1100.4 694.3 1103.3 693.9 C1106.2 693.6 1105.0 693.9 1106.4 694.9 C1107.8 695.9 1108.6 699.2 1111.5 700.1 C1114.4 701.0 1119.0 700.6 1123.7 700.1 C1128.4 699.6 1134.8 697.2 1139.9 697.0 C1145.0 696.9 1149.1 697.6 1154.2 699.1 C1159.3 700.7 1166.1 704.4 1170.4 706.3 C1174.7 708.1 1177.0 709.8 1180.0 710.3 C1183.0 710.8 1186.1 710.2 1188.1 709.1 C1190.1 708.1 1190.2 706.0 1192.2 704.1 C1194.2 702.3 1197.9 699.0 1200.3 698.0 C1202.7 697.0 1204.2 697.3 1206.4 698.0 C1208.6 698.7 1210.8 702.2 1213.5 702.0 C1216.2 701.9 1219.5 697.7 1222.7 697.0 C1225.9 696.3 1229.8 697.8 1232.8 698.0 C1235.8 698.1 1237.6 698.1 1241.0 698.0 C1244.4 697.8 1249.7 697.7 1253.1 697.0 C1256.5 696.3 1258.6 695.3 1261.3 693.9 C1264.0 692.6 1267.0 689.3 1269.4 688.9 C1271.8 688.6 1272.8 690.0 1275.5 692.0 C1278.2 694.0 1282.2 698.7 1285.6 701.1 C1289.0 703.4 1291.4 705.1 1295.8 706.3 C1300.2 707.4 1307.7 707.7 1312.1 708.2 C1316.5 708.7 1318.5 708.3 1322.2 709.1 C1325.9 710.0 1331.0 712.8 1334.4 713.2 C1337.8 713.5 1337.8 711.8 1342.5 711.3 C1347.2 710.7 1356.8 710.5 1362.9 710.1 C1369.0 709.8 1374.7 708.4 1379.1 709.1 C1383.5 709.9 1385.2 714.0 1389.3 714.3 C1393.3 714.7 1397.7 712.0 1403.4 711.3 C1409.2 710.6 1417.0 709.6 1423.8 710.1 C1430.6 710.6 1439.0 714.5 1444.1 714.3 C1449.2 714.2 1449.6 709.5 1454.3 709.1 C1459.0 708.8 1468.1 712.7 1472.5 712.2 C1476.9 711.7 1478.0 708.6 1480.7 706.1 C1483.4 703.5 1486.1 697.9 1488.8 697.0 C1491.5 696.2 1494.2 699.6 1496.9 701.1 C1499.6 702.6 1500.9 705.4 1505.0 706.1 C1509.1 706.7 1516.0 704.3 1521.3 705.1 C1526.5 705.9 1534.0 709.8 1536.5 710.7 M566.4 648.7 C566.6 652.5 565.0 667.6 567.4 671.6 C569.8 675.6 577.0 672.9 580.6 672.6 C584.2 672.2 584.7 670.0 588.8 669.5 C592.9 669.0 596.9 669.0 605.0 669.5 C613.1 670.0 628.7 672.1 637.5 672.6 C646.3 673.1 651.1 673.2 657.9 672.6 C664.7 671.9 674.2 669.7 678.2 668.5 C682.2 667.3 680.2 664.1 682.2 665.4 C684.2 666.8 687.0 673.4 690.4 676.8 C693.8 680.2 699.1 683.8 702.5 685.9 C705.9 687.9 707.3 689.4 710.7 688.9 C714.1 688.4 718.2 683.8 722.9 682.8 C727.6 681.7 734.0 682.1 739.1 682.8 C744.2 683.4 750.2 688.3 753.3 686.8 C756.3 685.3 755.7 677.4 757.4 673.7 C759.1 670.0 760.5 665.9 763.5 664.5 C766.5 663.1 772.3 664.8 775.7 665.4 C779.1 666.1 781.1 668.7 783.8 668.5 C786.5 668.4 789.2 664.3 791.9 664.5 C794.6 664.6 797.3 662.6 800.0 669.5 C802.7 676.4 806.2 699.1 808.2 706.1 C810.2 713.0 810.9 711.6 812.3 711.3 C813.6 710.9 814.9 709.4 816.3 704.1 C817.6 698.9 818.4 686.8 820.4 679.7 C822.4 672.6 826.1 664.8 828.5 661.4 C830.9 658.0 832.9 659.3 835.0 659.5 C837.1 659.7 839.2 660.0 841.3 662.6 C843.3 665.1 845.3 672.0 847.3 674.7 C849.3 677.4 851.4 678.7 853.4 678.7 C855.4 678.7 856.8 675.9 859.5 674.7 C862.2 673.5 865.3 672.3 869.7 671.6 C874.1 670.9 880.6 671.0 886.0 670.6 C891.4 670.3 898.8 670.5 902.2 669.7 C905.6 668.8 904.3 667.3 906.3 665.6 C908.3 663.9 911.7 660.2 914.4 659.5 C917.1 658.8 919.1 660.1 922.5 661.4 C925.9 662.8 931.3 665.5 934.7 667.6 C938.1 669.6 940.4 672.5 942.8 673.7 C945.2 674.9 944.8 675.0 948.9 674.7 C953.0 674.3 962.1 672.4 967.2 671.6 C972.3 670.8 975.3 669.3 979.4 669.7 C983.5 670.0 987.5 672.4 991.6 673.7 C995.7 675.1 999.1 677.6 1003.8 677.8 C1008.5 677.9 1014.9 675.6 1020.0 674.7 C1025.1 673.8 1029.5 673.2 1034.3 672.6 C1039.0 671.9 1042.8 671.0 1048.5 670.6 C1054.2 670.3 1063.7 669.8 1068.8 670.6 C1073.9 671.5 1076.6 674.8 1079.0 675.7 C1081.4 676.5 1080.6 676.3 1083.0 675.7 C1085.4 675.0 1091.0 673.0 1093.2 671.6 C1095.4 670.3 1095.5 671.4 1096.2 667.6 C1096.9 663.7 1097.0 651.8 1097.2 648.7 M1279.6 648.7 C1279.8 651.8 1278.2 664.2 1280.6 667.6 C1283.0 671.0 1289.6 669.1 1293.8 669.1 C1298.0 669.1 1302.6 667.0 1306.0 667.6 C1309.4 668.1 1310.7 671.5 1314.1 672.6 C1317.5 673.6 1322.9 673.7 1326.3 673.7 C1329.7 673.7 1331.7 673.0 1334.4 672.6 C1337.1 672.2 1339.5 670.9 1342.5 671.2 C1345.5 671.6 1349.0 673.6 1352.7 674.7 C1356.4 675.8 1360.8 677.8 1364.9 677.8 C1369.0 677.8 1374.0 675.0 1377.1 674.7 C1380.1 674.3 1380.8 675.0 1383.2 675.7 C1385.6 676.3 1387.9 678.4 1391.3 678.7 C1394.7 679.1 1398.0 678.1 1403.4 677.8 C1408.8 677.4 1417.0 677.0 1423.8 676.8 C1430.6 676.6 1437.3 676.6 1444.1 676.8 C1450.9 677.0 1459.0 677.4 1464.4 677.8 C1469.8 678.1 1472.2 679.1 1476.6 678.7 C1481.0 678.4 1487.1 675.7 1490.8 675.7 C1494.5 675.7 1496.0 678.1 1499.0 678.7 C1502.0 679.4 1504.7 679.7 1509.1 679.7 C1513.5 679.7 1521.3 677.9 1525.4 678.7 C1529.5 679.6 1531.7 683.5 1533.5 684.9 C1535.3 686.3 1536.0 686.8 1536.5 687.2 M1301.9 648.7 C1301.9 649.5 1300.2 651.7 1301.9 653.3 C1303.6 655.0 1308.7 657.2 1312.1 658.5 C1315.5 659.9 1318.5 660.7 1322.2 661.4 C1325.9 662.1 1331.0 662.3 1334.4 662.6 C1337.8 662.8 1337.8 663.0 1342.5 663.1 C1347.2 663.3 1357.1 663.6 1362.9 663.5 C1368.7 663.4 1372.0 662.2 1377.1 662.6 C1382.2 662.9 1387.9 664.5 1393.3 665.6 C1398.7 666.8 1404.5 669.2 1409.6 669.7 C1414.7 670.2 1418.0 668.9 1423.8 668.5 C1429.5 668.2 1437.3 667.4 1444.1 667.6 C1450.9 667.8 1458.3 669.2 1464.4 669.7 C1470.5 670.2 1476.0 671.3 1480.7 670.6 C1485.5 670.0 1489.9 667.1 1492.9 665.6 C1496.0 664.1 1497.8 663.7 1499.0 661.6 C1500.2 659.5 1500.2 655.5 1500.0 653.3 C1499.8 651.2 1498.3 649.5 1498.0 648.7 M633.5 648.7 C634.2 649.8 635.5 653.6 637.5 655.4 C639.5 657.2 643.3 659.6 645.7 659.5 C648.1 659.3 649.8 655.1 651.8 654.5 C653.8 653.8 656.2 654.6 657.9 655.4 C659.6 656.3 659.2 658.8 661.9 659.5 C664.6 660.2 671.7 661.3 674.1 659.5 C676.5 657.7 675.8 650.5 676.1 648.7 M698.5 648.7 C698.8 651.2 698.5 660.5 700.5 663.5 C702.5 666.5 706.0 666.3 710.7 666.6 C715.5 666.9 724.3 666.6 729.0 665.4 C733.7 664.3 735.7 661.1 739.1 659.5 C742.5 657.8 745.9 657.2 749.3 655.4 C752.7 653.6 757.7 649.8 759.4 648.7 M816.3 648.7 C816.9 649.3 818.4 651.7 820.0 652.6 C821.6 653.4 823.9 654.2 826.0 653.5 C828.1 652.9 831.5 649.5 832.6 648.7 M845.3 648.7 C846.3 649.8 848.0 654.7 851.4 655.4 C854.8 656.2 861.2 654.0 865.6 653.3 C870.0 652.6 873.4 650.6 877.8 651.4 C882.2 652.2 887.9 657.5 892.0 658.3 C896.1 659.2 898.1 657.0 902.2 656.4 C906.3 655.8 911.7 654.8 916.4 654.5 C921.1 654.2 927.2 655.0 930.6 654.5 C934.0 654.0 935.5 652.4 936.7 651.4 C937.9 650.4 937.6 649.1 937.8 648.7 M955.0 648.7 C954.7 650.0 952.7 654.1 953.4 656.4 C954.1 658.7 955.5 661.4 959.1 662.6 C962.8 663.7 970.6 663.0 975.3 663.5 C980.0 664.0 982.8 664.4 987.5 665.4 C992.2 666.5 998.7 669.3 1003.8 669.7 C1008.9 670.0 1013.3 668.4 1018.0 667.6 C1022.7 666.7 1029.0 665.8 1032.2 664.5 C1035.4 663.1 1036.5 662.1 1037.3 659.5 C1038.1 656.8 1037.3 650.5 1037.3 648.7 M1054.6 648.7 C1054.4 650.5 1053.1 657.2 1053.6 659.5 C1054.1 661.8 1056.4 662.6 1057.6 662.6 C1058.8 662.6 1060.2 661.8 1060.7 659.5 C1061.2 657.2 1060.7 650.5 1060.7 648.7 M166.0 648.7 C166.3 649.3 166.5 651.5 168.0 652.6 C169.5 653.6 172.5 654.9 175.0 655.1 C177.5 655.2 181.2 654.6 183.0 653.5 C184.8 652.5 185.1 649.5 185.5 648.7 M195.1 648.7 C195.3 652.0 193.6 664.5 196.1 668.7 C198.6 672.9 205.9 672.4 210.3 673.7 C214.7 675.1 219.1 675.8 222.5 676.8 C225.9 677.8 230.1 680.7 230.6 679.5 C231.1 678.3 226.3 674.8 225.6 669.7 C224.9 664.5 226.4 652.2 226.6 648.7 M295.7 648.7 C295.8 650.3 295.8 656.0 296.5 658.3 C297.2 660.6 298.8 662.2 300.0 662.6 C301.2 662.9 303.0 662.6 304.0 660.2 C305.0 657.9 305.5 650.6 305.8 648.7 M313.0 652.6 C313.8 653.2 316.2 655.6 318.0 656.4 C319.8 657.2 322.3 657.8 324.0 657.4 C325.7 656.9 328.3 655.0 328.0 653.5 C327.7 652.1 324.0 649.3 322.0 648.7 C320.0 648.1 317.5 649.0 316.0 649.7 C314.5 650.3 313.5 652.1 313.0 652.6 M344.9 648.7 C344.8 650.8 343.1 657.4 344.4 661.4 C345.7 665.4 349.9 670.4 352.6 672.6 C355.3 674.8 358.0 675.2 360.7 674.7 C363.4 674.2 366.9 671.9 368.8 669.7 C370.7 667.5 371.3 664.9 371.8 661.4 C372.3 657.9 371.8 650.8 371.8 648.7 M471.4 648.7 C471.5 650.6 471.0 657.8 471.8 660.2 C472.6 662.7 474.3 663.0 476.0 663.5 C477.7 664.0 480.7 664.0 482.0 663.1 C483.3 662.3 483.7 660.7 484.0 658.3 C484.3 655.9 484.0 650.3 484.0 648.7" fill="none" stroke="#000" stroke-width="1.9" stroke-linejoin="round"/><path clip-path="url(#cq3)" d="M131.1 1062.2 C132.6 1059.1 136.3 1051.4 140.0 1043.7 C143.7 1036.1 150.0 1022.6 153.4 1016.4 C156.8 1010.2 158.6 1007.7 160.6 1006.4 C162.6 1005.0 162.9 1005.8 165.6 1008.3 C168.3 1010.8 172.7 1020.9 176.8 1021.6 C180.9 1022.3 186.8 1013.2 190.0 1012.3 C193.2 1011.5 193.4 1013.3 196.1 1016.4 C198.8 1019.4 202.6 1027.6 206.3 1030.6 C210.0 1033.7 213.8 1033.8 218.5 1034.7 C223.2 1035.5 230.6 1036.5 234.7 1035.8 C238.8 1035.2 239.8 1033.4 242.8 1030.6 C245.9 1027.9 250.3 1020.8 253.0 1019.5 C255.7 1018.1 256.1 1020.3 259.1 1022.6 C262.2 1024.8 266.9 1033.3 271.3 1032.8 C275.7 1032.2 281.8 1019.8 285.5 1019.5 C289.2 1019.1 290.6 1026.2 293.6 1030.6 C296.7 1035.0 300.1 1044.0 303.8 1045.8 C307.5 1047.7 311.3 1041.3 316.0 1041.8 C320.7 1042.3 327.5 1050.4 332.2 1048.9 C336.9 1047.4 341.0 1036.3 344.4 1032.8 C347.8 1029.2 348.5 1024.7 352.6 1027.6 C356.7 1030.4 364.8 1045.9 368.8 1049.9 C372.9 1053.9 373.2 1052.6 376.9 1051.4 C380.6 1050.2 384.4 1042.2 391.2 1042.8 C398.0 1043.4 410.8 1055.2 417.6 1055.1 C424.4 1054.9 426.1 1041.3 431.8 1041.8 C437.6 1042.3 445.7 1056.6 452.1 1058.2 C458.5 1059.7 463.9 1052.2 470.4 1051.0 C476.9 1049.9 485.4 1049.0 491.3 1051.0 C497.2 1053.1 500.9 1059.1 505.5 1063.2 C510.1 1067.2 513.6 1076.1 518.7 1075.3 C523.8 1074.5 531.1 1061.2 536.0 1058.2 C540.9 1055.1 544.7 1056.2 548.1 1057.0 C551.5 1057.8 553.6 1060.8 556.3 1063.2 C559.0 1065.5 560.7 1068.8 564.4 1071.3 C568.1 1073.7 574.5 1078.1 578.6 1077.8 C582.7 1077.5 585.8 1069.7 588.8 1069.3 C591.8 1068.9 592.8 1074.5 596.9 1075.5 C601.0 1076.5 608.5 1073.5 613.2 1075.5 C617.9 1077.5 620.9 1082.5 625.3 1087.6 C629.7 1092.7 634.2 1105.1 639.6 1105.9 C645.0 1106.7 652.1 1094.2 657.9 1092.6 C663.6 1091.1 669.0 1099.2 674.1 1096.7 C679.2 1094.1 684.9 1078.9 688.3 1077.4 C691.7 1075.9 692.7 1081.4 694.4 1087.6 C696.1 1093.9 697.8 1110.4 698.5 1115.0 M722.9 1115.0 C723.9 1112.7 727.0 1101.5 729.0 1101.5 C731.0 1101.5 734.0 1112.7 735.0 1115.0 M755.4 1115.0 C757.1 1111.2 761.8 1094.5 765.5 1092.6 C769.2 1090.8 774.0 1101.3 777.7 1103.8 C781.4 1106.3 784.9 1107.7 787.9 1107.8 C790.9 1108.0 794.0 1103.6 796.0 1104.7 C798.0 1105.9 799.3 1113.2 800.0 1115.0 M820.4 1115.0 C821.2 1112.1 823.6 1102.6 825.0 1097.6 C826.4 1092.7 826.8 1087.3 828.5 1085.1 C830.2 1082.9 832.4 1084.5 835.2 1084.5 C838.0 1084.6 841.6 1084.5 845.3 1085.5 C849.0 1086.5 853.4 1088.6 857.5 1090.5 C861.6 1092.4 866.5 1094.4 869.7 1096.7 C872.9 1098.9 874.8 1100.7 876.8 1103.8 C878.8 1106.8 881.0 1113.1 881.9 1115.0 M884.0 1115.0 C884.3 1112.4 884.3 1105.3 886.0 1099.7 C887.7 1094.2 891.6 1086.0 894.0 1081.5 C896.4 1076.9 898.2 1073.2 900.2 1072.2 C902.2 1071.2 904.3 1072.9 906.3 1075.3 C908.3 1077.7 910.0 1085.6 912.4 1086.5 C914.8 1087.3 917.8 1082.0 920.5 1080.5 C923.2 1079.0 926.2 1077.3 928.6 1077.4 C931.0 1077.6 932.3 1079.6 934.7 1081.5 C937.1 1083.3 940.8 1087.4 942.8 1088.6 C944.8 1089.8 944.5 1089.1 946.9 1088.6 C949.3 1088.1 953.7 1085.0 957.1 1085.5 C960.5 1086.0 963.8 1088.8 967.2 1091.7 C970.6 1094.5 974.4 1098.9 977.4 1102.8 C980.4 1106.7 984.1 1112.9 985.5 1115.0 M997.7 1115.0 C998.6 1114.1 1001.1 1109.9 1002.8 1109.9 C1004.5 1109.9 1007.0 1114.1 1007.9 1115.0 M1020.0 1115.0 C1022.0 1113.1 1029.4 1105.1 1032.2 1103.8 C1035.0 1102.5 1035.3 1105.4 1037.0 1107.2 C1038.7 1109.1 1041.5 1113.7 1042.4 1115.0 M1054.6 1115.0 C1057.0 1112.4 1063.0 1104.3 1068.8 1099.7 C1074.5 1095.2 1082.8 1089.3 1089.1 1087.6 C1095.4 1085.9 1102.7 1089.5 1106.4 1089.5 C1110.1 1089.5 1108.6 1088.1 1111.5 1087.6 C1114.4 1087.1 1119.0 1087.5 1123.7 1086.5 C1128.4 1085.4 1135.5 1081.8 1139.9 1081.5 C1144.3 1081.1 1146.4 1083.9 1150.1 1084.5 C1153.8 1085.2 1158.2 1084.3 1162.3 1085.5 C1166.3 1086.7 1171.5 1090.3 1174.4 1091.7 C1177.4 1093.0 1177.0 1093.9 1180.0 1093.6 C1183.0 1093.2 1187.1 1090.9 1192.2 1089.5 C1197.3 1088.2 1205.8 1086.7 1210.5 1085.5 C1215.2 1084.3 1216.5 1083.4 1220.6 1082.4 C1224.7 1081.4 1230.5 1079.3 1234.9 1079.3 C1239.3 1079.3 1243.5 1081.6 1247.0 1082.4 C1250.5 1083.2 1253.5 1084.5 1256.2 1084.0 C1258.9 1083.4 1260.9 1080.6 1263.3 1079.3 C1265.7 1078.1 1268.4 1076.6 1270.4 1076.5 C1272.4 1076.3 1272.0 1076.7 1275.5 1078.4 C1279.0 1080.0 1286.0 1084.1 1291.7 1086.5 C1297.5 1088.8 1304.9 1091.4 1310.0 1092.6 C1315.1 1093.8 1318.0 1093.4 1322.2 1093.6 C1326.4 1093.7 1332.0 1092.9 1335.4 1093.6 C1338.8 1094.3 1340.0 1096.3 1342.5 1097.6 C1345.0 1099.0 1347.3 1101.4 1350.7 1101.7 C1354.1 1102.0 1359.2 1099.4 1362.9 1099.4 C1366.6 1099.4 1369.6 1100.3 1373.0 1101.7 C1376.4 1103.1 1380.5 1106.5 1383.2 1107.8 C1385.9 1109.1 1386.6 1110.2 1389.3 1109.4 C1392.0 1108.5 1396.4 1104.8 1399.4 1102.8 C1402.5 1100.8 1404.2 1097.9 1407.6 1097.2 C1411.0 1096.6 1415.7 1098.7 1419.7 1098.8 C1423.8 1098.9 1428.2 1097.2 1431.9 1098.0 C1435.6 1098.8 1439.3 1102.1 1442.0 1103.8 C1444.7 1105.4 1446.2 1107.3 1448.1 1107.8 C1450.0 1108.3 1451.2 1108.2 1453.3 1106.9 C1455.3 1105.5 1457.9 1100.4 1460.4 1099.7 C1462.9 1099.1 1465.5 1101.6 1468.5 1102.8 C1471.5 1104.0 1475.2 1106.5 1478.6 1106.9 C1482.0 1107.2 1485.1 1105.6 1488.8 1104.7 C1492.5 1103.9 1497.6 1103.5 1501.0 1101.7 C1504.4 1099.8 1506.4 1096.3 1509.1 1093.6 C1511.8 1090.9 1514.6 1086.6 1517.3 1085.5 C1520.0 1084.4 1522.2 1087.0 1525.4 1087.0 C1528.6 1087.0 1534.7 1085.8 1536.5 1085.5 M499.4 922.5 C499.6 926.3 498.4 939.8 500.4 945.4 C502.4 950.9 508.1 953.2 511.6 955.6 C515.2 957.9 517.6 960.0 521.7 959.6 C525.8 959.2 531.6 954.5 536.0 953.4 C540.4 952.4 545.1 952.7 548.1 953.4 C551.1 954.1 551.8 955.8 554.2 957.7 C556.6 959.6 559.4 963.1 562.4 964.8 C565.4 966.5 569.3 967.7 572.5 967.7 C575.7 967.7 579.0 965.6 581.7 964.6 C584.4 963.6 582.9 961.9 588.8 961.7 C594.7 961.6 609.1 962.0 617.2 963.6 C625.3 965.3 630.7 970.2 637.5 971.7 C644.3 973.3 651.1 973.0 657.9 972.9 C664.7 972.7 673.3 971.9 678.2 970.8 C683.1 969.6 683.9 964.6 687.3 966.1 C690.7 967.7 694.6 975.5 698.5 980.0 C702.4 984.5 706.6 992.4 710.7 993.1 C714.8 993.8 718.9 984.7 722.9 984.1 C726.9 983.4 730.6 985.2 735.0 989.1 C739.4 992.9 745.2 1005.8 749.3 1007.3 C753.4 1008.9 756.2 1004.6 759.4 998.3 C762.6 992.0 765.2 971.2 768.6 969.8 C772.0 968.4 775.8 985.3 779.7 990.0 C783.6 994.7 787.8 995.4 791.9 998.1 C796.0 1000.8 800.7 1001.4 804.1 1006.2 C807.5 1010.9 809.6 1026.9 812.3 1026.6 C815.0 1026.3 817.7 1010.0 820.4 1004.3 C823.1 998.5 826.1 993.7 828.5 992.1 C830.9 990.5 833.5 994.1 835.0 994.6 C836.5 995.2 835.5 996.1 837.2 995.2 C838.9 994.3 842.9 989.4 845.3 989.1 C847.7 988.7 849.4 990.6 851.4 993.1 C853.4 995.6 855.5 1004.1 857.5 1004.3 C859.5 1004.4 861.7 999.5 863.6 994.1 C865.5 988.6 867.2 976.1 868.7 971.7 C870.2 967.3 871.2 967.3 872.7 967.7 C874.2 968.0 875.9 971.3 877.8 973.8 C879.7 976.4 881.9 981.2 883.9 982.9 C885.9 984.6 887.6 984.7 890.0 983.9 C892.4 983.0 895.4 979.9 898.1 977.9 C900.8 975.9 902.6 973.4 906.3 971.7 C910.0 970.0 916.5 968.0 920.5 967.7 C924.5 967.4 926.9 968.6 930.6 969.8 C934.3 971.0 940.1 973.8 942.8 974.8 C945.5 975.8 944.5 975.3 946.9 975.8 C949.3 976.3 953.7 978.2 957.1 977.9 C960.5 977.6 962.8 973.5 967.2 973.8 C971.6 974.2 978.1 978.3 983.5 980.0 C988.9 981.7 994.0 983.4 999.7 983.9 C1005.5 984.3 1012.2 983.2 1018.0 982.9 C1023.8 982.6 1029.2 983.1 1034.3 981.9 C1039.4 980.7 1042.8 977.5 1048.5 975.8 C1054.2 974.1 1062.0 972.6 1068.8 971.7 C1075.6 970.9 1083.3 971.4 1089.1 970.8 C1094.8 970.1 1100.4 968.0 1103.3 967.7 C1106.2 967.3 1105.0 967.6 1106.4 968.7 C1107.8 969.7 1108.6 973.0 1111.5 973.8 C1114.4 974.7 1119.0 974.4 1123.7 973.8 C1128.4 973.3 1134.8 970.9 1139.9 970.8 C1145.0 970.6 1149.1 971.3 1154.2 972.9 C1159.3 974.4 1166.1 978.1 1170.4 980.0 C1174.7 981.9 1177.0 983.6 1180.0 984.1 C1183.0 984.5 1186.1 983.9 1188.1 982.9 C1190.1 981.9 1190.2 979.8 1192.2 977.9 C1194.2 976.0 1197.9 972.8 1200.3 971.7 C1202.7 970.7 1204.2 971.1 1206.4 971.7 C1208.6 972.4 1210.8 975.9 1213.5 975.8 C1216.2 975.6 1219.5 971.4 1222.7 970.8 C1225.9 970.1 1229.8 971.6 1232.8 971.7 C1235.8 971.9 1237.6 971.9 1241.0 971.7 C1244.4 971.6 1249.7 971.4 1253.1 970.8 C1256.5 970.1 1258.6 969.0 1261.3 967.7 C1264.0 966.3 1267.0 963.0 1269.4 962.7 C1271.8 962.4 1272.8 963.7 1275.5 965.8 C1278.2 967.8 1282.2 972.4 1285.6 974.8 C1289.0 977.2 1291.4 978.8 1295.8 980.0 C1300.2 981.2 1307.7 981.5 1312.1 981.9 C1316.5 982.4 1318.5 982.1 1322.2 982.9 C1325.9 983.7 1331.0 986.6 1334.4 986.9 C1337.8 987.3 1337.8 985.5 1342.5 985.0 C1347.2 984.5 1356.8 984.2 1362.9 983.9 C1369.0 983.5 1374.7 982.2 1379.1 982.9 C1383.5 983.6 1385.2 987.7 1389.3 988.1 C1393.3 988.4 1397.7 985.7 1403.4 985.0 C1409.2 984.3 1417.0 983.3 1423.8 983.9 C1430.6 984.4 1439.0 988.3 1444.1 988.1 C1449.2 987.9 1449.6 983.2 1454.3 982.9 C1459.0 982.5 1468.1 986.5 1472.5 986.0 C1476.9 985.5 1478.0 982.3 1480.7 979.8 C1483.4 977.3 1486.1 971.6 1488.8 970.8 C1491.5 969.9 1494.2 973.3 1496.9 974.8 C1499.6 976.3 1500.9 979.1 1505.0 979.8 C1509.1 980.5 1516.0 978.1 1521.3 978.9 C1526.5 979.6 1534.0 983.5 1536.5 984.4 M566.4 922.5 C566.6 926.3 565.0 941.4 567.4 945.4 C569.8 949.3 577.0 946.7 580.6 946.3 C584.2 946.0 584.7 943.8 588.8 943.2 C592.9 942.7 596.9 942.7 605.0 943.2 C613.1 943.8 628.7 945.8 637.5 946.3 C646.3 946.8 651.1 947.0 657.9 946.3 C664.7 945.6 674.2 943.5 678.2 942.3 C682.2 941.1 680.2 937.8 682.2 939.2 C684.2 940.6 687.0 947.2 690.4 950.6 C693.8 954.0 699.1 957.6 702.5 959.6 C705.9 961.6 707.3 963.2 710.7 962.7 C714.1 962.2 718.2 957.5 722.9 956.5 C727.6 955.5 734.0 955.8 739.1 956.5 C744.2 957.2 750.2 962.1 753.3 960.6 C756.3 959.1 755.7 951.2 757.4 947.5 C759.1 943.8 760.5 939.6 763.5 938.2 C766.5 936.9 772.3 938.5 775.7 939.2 C779.1 939.9 781.1 942.4 783.8 942.3 C786.5 942.1 789.2 938.1 791.9 938.2 C794.6 938.4 797.3 936.3 800.0 943.2 C802.7 950.2 806.2 972.9 808.2 979.8 C810.2 986.8 810.9 985.3 812.3 985.0 C813.6 984.7 814.9 983.2 816.3 977.9 C817.6 972.6 818.4 960.6 820.4 953.4 C822.4 946.3 826.1 938.5 828.5 935.2 C830.9 931.8 832.9 933.0 835.0 933.2 C837.1 933.4 839.2 933.8 841.3 936.3 C843.3 938.8 845.3 945.7 847.3 948.4 C849.3 951.1 851.4 952.5 853.4 952.5 C855.4 952.5 856.8 949.6 859.5 948.4 C862.2 947.3 865.3 946.0 869.7 945.4 C874.1 944.7 880.6 944.7 886.0 944.4 C891.4 944.1 898.8 944.3 902.2 943.4 C905.6 942.6 904.3 941.1 906.3 939.4 C908.3 937.7 911.7 933.9 914.4 933.2 C917.1 932.5 919.1 933.8 922.5 935.2 C925.9 936.5 931.3 939.3 934.7 941.3 C938.1 943.4 940.4 946.3 942.8 947.5 C945.2 948.7 944.8 948.8 948.9 948.4 C953.0 948.1 962.1 946.2 967.2 945.4 C972.3 944.5 975.3 943.1 979.4 943.4 C983.5 943.8 987.5 946.1 991.6 947.5 C995.7 948.8 999.1 951.4 1003.8 951.5 C1008.5 951.7 1014.9 949.3 1020.0 948.4 C1025.1 947.6 1029.5 947.0 1034.3 946.3 C1039.0 945.6 1042.8 944.7 1048.5 944.4 C1054.2 944.1 1063.7 943.6 1068.8 944.4 C1073.9 945.2 1076.6 948.6 1079.0 949.4 C1081.4 950.2 1080.6 950.1 1083.0 949.4 C1085.4 948.7 1091.0 946.7 1093.2 945.4 C1095.4 944.0 1095.5 945.1 1096.2 941.3 C1096.9 937.5 1097.0 925.6 1097.2 922.5 M1279.6 922.5 C1279.8 925.6 1278.2 937.9 1280.6 941.3 C1283.0 944.7 1289.6 942.9 1293.8 942.9 C1298.0 942.9 1302.6 940.7 1306.0 941.3 C1309.4 941.9 1310.7 945.3 1314.1 946.3 C1317.5 947.3 1322.9 947.5 1326.3 947.5 C1329.7 947.5 1331.7 946.7 1334.4 946.3 C1337.1 945.9 1339.5 944.6 1342.5 945.0 C1345.5 945.3 1349.0 947.3 1352.7 948.4 C1356.4 949.5 1360.8 951.5 1364.9 951.5 C1369.0 951.5 1374.0 948.8 1377.1 948.4 C1380.1 948.1 1380.8 948.7 1383.2 949.4 C1385.6 950.1 1387.9 952.1 1391.3 952.5 C1394.7 952.8 1398.0 951.8 1403.4 951.5 C1408.8 951.2 1417.0 950.7 1423.8 950.6 C1430.6 950.4 1437.3 950.4 1444.1 950.6 C1450.9 950.7 1459.0 951.2 1464.4 951.5 C1469.8 951.8 1472.2 952.8 1476.6 952.5 C1481.0 952.1 1487.1 949.4 1490.8 949.4 C1494.5 949.4 1496.0 951.8 1499.0 952.5 C1502.0 953.2 1504.7 953.4 1509.1 953.4 C1513.5 953.4 1521.3 951.6 1525.4 952.5 C1529.5 953.3 1531.7 957.2 1533.5 958.6 C1535.3 960.1 1536.0 960.6 1536.5 961.0 M1301.9 922.5 C1301.9 923.2 1300.2 925.4 1301.9 927.1 C1303.6 928.7 1308.7 930.9 1312.1 932.3 C1315.5 933.6 1318.5 934.5 1322.2 935.2 C1325.9 935.8 1331.0 936.0 1334.4 936.3 C1337.8 936.6 1337.8 936.7 1342.5 936.9 C1347.2 937.0 1357.1 937.4 1362.9 937.3 C1368.7 937.2 1372.0 936.0 1377.1 936.3 C1382.2 936.7 1387.9 938.2 1393.3 939.4 C1398.7 940.6 1404.5 943.0 1409.6 943.4 C1414.7 943.9 1418.0 942.6 1423.8 942.3 C1429.5 941.9 1437.3 941.1 1444.1 941.3 C1450.9 941.5 1458.3 942.9 1464.4 943.4 C1470.5 943.9 1476.0 945.1 1480.7 944.4 C1485.5 943.7 1489.9 940.9 1492.9 939.4 C1496.0 937.9 1497.8 937.4 1499.0 935.3 C1500.2 933.3 1500.2 929.2 1500.0 927.1 C1499.8 924.9 1498.3 923.2 1498.0 922.5 M633.5 922.5 C634.2 923.6 635.5 927.4 637.5 929.2 C639.5 931.0 643.3 933.4 645.7 933.2 C648.1 933.1 649.8 928.9 651.8 928.2 C653.8 927.6 656.2 928.4 657.9 929.2 C659.6 930.0 659.2 932.6 661.9 933.2 C664.6 933.9 671.7 935.0 674.1 933.2 C676.5 931.4 675.8 924.2 676.1 922.5 M698.5 922.5 C698.8 924.9 698.5 934.3 700.5 937.3 C702.5 940.3 706.0 940.0 710.7 940.4 C715.5 940.7 724.3 940.4 729.0 939.2 C733.7 938.0 735.7 934.9 739.1 933.2 C742.5 931.6 745.9 931.0 749.3 929.2 C752.7 927.4 757.7 923.6 759.4 922.5 M816.3 922.5 C816.9 923.1 818.4 925.5 820.0 926.3 C821.6 927.1 823.9 927.9 826.0 927.3 C828.1 926.6 831.5 923.3 832.6 922.5 M845.3 922.5 C846.3 923.6 848.0 928.4 851.4 929.2 C854.8 930.0 861.2 927.7 865.6 927.1 C870.0 926.4 873.4 924.3 877.8 925.1 C882.2 926.0 887.9 931.2 892.0 932.1 C896.1 932.9 898.1 930.8 902.2 930.2 C906.3 929.5 911.7 928.5 916.4 928.2 C921.1 927.9 927.2 928.7 930.6 928.2 C934.0 927.7 935.5 926.1 936.7 925.1 C937.9 924.2 937.6 922.9 937.8 922.5 M955.0 922.5 C954.7 923.7 952.7 927.8 953.4 930.2 C954.1 932.5 955.5 935.1 959.1 936.3 C962.8 937.5 970.6 936.8 975.3 937.3 C980.0 937.8 982.8 938.2 987.5 939.2 C992.2 940.2 998.7 943.1 1003.8 943.4 C1008.9 943.8 1013.3 942.2 1018.0 941.3 C1022.7 940.4 1029.0 939.6 1032.2 938.2 C1035.4 936.9 1036.5 935.9 1037.3 933.2 C1038.1 930.6 1037.3 924.2 1037.3 922.5 M1054.6 922.5 C1054.4 924.2 1053.1 930.9 1053.6 933.2 C1054.1 935.5 1056.4 936.3 1057.6 936.3 C1058.8 936.3 1060.2 935.5 1060.7 933.2 C1061.2 930.9 1060.7 924.2 1060.7 922.5 M166.0 922.5 C166.3 923.1 166.5 925.2 168.0 926.3 C169.5 927.4 172.5 928.6 175.0 928.8 C177.5 929.0 181.2 928.3 183.0 927.3 C184.8 926.2 185.1 923.3 185.5 922.5 M195.1 922.5 C195.3 925.8 193.6 938.3 196.1 942.5 C198.6 946.6 205.9 946.1 210.3 947.5 C214.7 948.8 219.1 949.6 222.5 950.6 C225.9 951.5 230.1 954.4 230.6 953.2 C231.1 952.1 226.3 948.6 225.6 943.4 C224.9 938.3 226.4 925.9 226.6 922.5 M295.7 922.5 C295.8 924.1 295.8 929.8 296.5 932.1 C297.2 934.4 298.8 936.0 300.0 936.3 C301.2 936.6 303.0 936.3 304.0 934.0 C305.0 931.7 305.5 924.4 305.8 922.5 M313.0 926.3 C313.8 926.9 316.2 929.3 318.0 930.2 C319.8 931.0 322.3 931.6 324.0 931.1 C325.7 930.6 328.3 928.7 328.0 927.3 C327.7 925.8 324.0 923.1 322.0 922.5 C320.0 921.8 317.5 922.8 316.0 923.4 C314.5 924.1 313.5 925.8 313.0 926.3 M344.9 922.5 C344.8 924.6 343.1 931.2 344.4 935.2 C345.7 939.1 349.9 944.1 352.6 946.3 C355.3 948.5 358.0 948.9 360.7 948.4 C363.4 948.0 366.9 945.6 368.8 943.4 C370.7 941.2 371.3 938.7 371.8 935.2 C372.3 931.7 371.8 924.6 371.8 922.5 M471.4 922.5 C471.5 924.4 471.0 931.5 471.8 934.0 C472.6 936.5 474.3 936.8 476.0 937.3 C477.7 937.8 480.7 937.8 482.0 936.9 C483.3 936.0 483.7 934.5 484.0 932.1 C484.3 929.7 484.0 924.1 484.0 922.5" fill="none" stroke="#000" stroke-width="1.9" stroke-linejoin="round"/><path clip-path="url(#cq4)" d="M131.1 1336.0 C132.6 1332.9 136.3 1325.1 140.0 1317.5 C143.7 1309.8 150.0 1296.4 153.4 1290.1 C156.8 1283.9 158.6 1281.5 160.6 1280.1 C162.6 1278.8 162.9 1279.5 165.6 1282.1 C168.3 1284.6 172.7 1294.7 176.8 1295.3 C180.9 1296.0 186.8 1287.0 190.0 1286.1 C193.2 1285.2 193.4 1287.1 196.1 1290.1 C198.8 1293.2 202.6 1301.3 206.3 1304.4 C210.0 1307.4 213.8 1307.6 218.5 1308.4 C223.2 1309.3 230.6 1310.3 234.7 1309.6 C238.8 1308.9 239.8 1307.1 242.8 1304.4 C245.9 1301.7 250.3 1294.6 253.0 1293.2 C255.7 1291.9 256.1 1294.1 259.1 1296.3 C262.2 1298.5 266.9 1307.0 271.3 1306.5 C275.7 1306.0 281.8 1293.6 285.5 1293.2 C289.2 1292.9 290.6 1300.0 293.6 1304.4 C296.7 1308.8 300.1 1317.7 303.8 1319.6 C307.5 1321.5 311.3 1315.0 316.0 1315.5 C320.7 1316.1 327.5 1324.2 332.2 1322.7 C336.9 1321.2 341.0 1310.1 344.4 1306.5 C347.8 1302.9 348.5 1298.4 352.6 1301.3 C356.7 1304.2 364.8 1319.7 368.8 1323.6 C372.9 1327.6 373.2 1326.4 376.9 1325.2 C380.6 1324.0 384.4 1315.9 391.2 1316.5 C398.0 1317.1 410.8 1329.0 417.6 1328.8 C424.4 1328.7 426.1 1315.0 431.8 1315.5 C437.6 1316.1 445.7 1330.4 452.1 1331.9 C458.5 1333.5 463.9 1326.0 470.4 1324.8 C476.9 1323.6 485.4 1322.8 491.3 1324.8 C497.2 1326.8 500.9 1332.9 505.5 1336.9 C510.1 1341.0 513.6 1349.9 518.7 1349.0 C523.8 1348.2 531.1 1335.0 536.0 1331.9 C540.9 1328.9 544.7 1329.9 548.1 1330.8 C551.5 1331.6 553.6 1334.5 556.3 1336.9 C559.0 1339.3 560.7 1342.6 564.4 1345.0 C568.1 1347.4 574.5 1351.9 578.6 1351.5 C582.7 1351.2 585.8 1343.5 588.8 1343.1 C591.8 1342.7 592.8 1348.2 596.9 1349.2 C601.0 1350.3 608.5 1347.2 613.2 1349.2 C617.9 1351.3 620.9 1356.3 625.3 1361.4 C629.7 1366.4 634.2 1378.8 639.6 1379.7 C645.0 1380.5 652.1 1367.9 657.9 1366.4 C663.6 1364.8 669.0 1372.9 674.1 1370.4 C679.2 1367.9 684.9 1352.7 688.3 1351.2 C691.7 1349.7 692.7 1355.1 694.4 1361.4 C696.1 1367.6 697.8 1384.1 698.5 1388.7 M722.9 1388.7 C723.9 1386.5 727.0 1375.2 729.0 1375.2 C731.0 1375.2 734.0 1386.5 735.0 1388.7 M755.4 1388.7 C757.1 1385.0 761.8 1368.2 765.5 1366.4 C769.2 1364.5 774.0 1375.0 777.7 1377.5 C781.4 1380.1 784.9 1381.4 787.9 1381.6 C790.9 1381.7 794.0 1377.3 796.0 1378.5 C798.0 1379.7 799.3 1387.0 800.0 1388.7 M820.4 1388.7 C821.2 1385.8 823.6 1376.3 825.0 1371.4 C826.4 1366.4 826.8 1361.0 828.5 1358.9 C830.2 1356.7 832.4 1358.2 835.2 1358.3 C838.0 1358.3 841.6 1358.3 845.3 1359.2 C849.0 1360.2 853.4 1362.4 857.5 1364.3 C861.6 1366.1 866.5 1368.2 869.7 1370.4 C872.9 1372.6 874.8 1374.5 876.8 1377.5 C878.8 1380.6 881.0 1386.8 881.9 1388.7 M884.0 1388.7 C884.3 1386.2 884.3 1379.1 886.0 1373.5 C887.7 1367.9 891.6 1359.8 894.0 1355.2 C896.4 1350.6 898.2 1347.0 900.2 1346.0 C902.2 1344.9 904.3 1346.7 906.3 1349.0 C908.3 1351.4 910.0 1359.3 912.4 1360.2 C914.8 1361.1 917.8 1355.8 920.5 1354.2 C923.2 1352.7 926.2 1351.0 928.6 1351.2 C931.0 1351.3 932.3 1353.3 934.7 1355.2 C937.1 1357.1 940.8 1361.1 942.8 1362.3 C944.8 1363.5 944.5 1362.8 946.9 1362.3 C949.3 1361.8 953.7 1358.7 957.1 1359.2 C960.5 1359.8 963.8 1362.5 967.2 1365.4 C970.6 1368.3 974.4 1372.7 977.4 1376.6 C980.4 1380.5 984.1 1386.7 985.5 1388.7 M997.7 1388.7 C998.6 1387.9 1001.1 1383.7 1002.8 1383.7 C1004.5 1383.7 1007.0 1387.9 1007.9 1388.7 M1020.0 1388.7 C1022.0 1386.8 1029.4 1378.8 1032.2 1377.5 C1035.0 1376.3 1035.3 1379.1 1037.0 1381.0 C1038.7 1382.9 1041.5 1387.4 1042.4 1388.7 M1054.6 1388.7 C1057.0 1386.2 1063.0 1378.0 1068.8 1373.5 C1074.5 1368.9 1082.8 1363.1 1089.1 1361.4 C1095.4 1359.7 1102.7 1363.3 1106.4 1363.3 C1110.1 1363.3 1108.6 1361.9 1111.5 1361.4 C1114.4 1360.9 1119.0 1361.2 1123.7 1360.2 C1128.4 1359.2 1135.5 1355.5 1139.9 1355.2 C1144.3 1354.9 1146.4 1357.6 1150.1 1358.3 C1153.8 1359.0 1158.2 1358.1 1162.3 1359.2 C1166.3 1360.4 1171.5 1364.1 1174.4 1365.4 C1177.4 1366.8 1177.0 1367.7 1180.0 1367.3 C1183.0 1367.0 1187.1 1364.6 1192.2 1363.3 C1197.3 1361.9 1205.8 1360.4 1210.5 1359.2 C1215.2 1358.1 1216.5 1357.2 1220.6 1356.2 C1224.7 1355.1 1230.5 1353.1 1234.9 1353.1 C1239.3 1353.1 1243.5 1355.4 1247.0 1356.2 C1250.5 1356.9 1253.5 1358.2 1256.2 1357.7 C1258.9 1357.2 1260.9 1354.3 1263.3 1353.1 C1265.7 1351.8 1268.4 1350.4 1270.4 1350.2 C1272.4 1350.0 1272.0 1350.5 1275.5 1352.1 C1279.0 1353.8 1286.0 1357.8 1291.7 1360.2 C1297.5 1362.6 1304.9 1365.2 1310.0 1366.4 C1315.1 1367.6 1318.0 1367.2 1322.2 1367.3 C1326.4 1367.5 1332.0 1366.7 1335.4 1367.3 C1338.8 1368.0 1340.0 1370.0 1342.5 1371.4 C1345.0 1372.7 1347.3 1375.1 1350.7 1375.4 C1354.1 1375.7 1359.2 1373.1 1362.9 1373.1 C1366.6 1373.1 1369.6 1374.0 1373.0 1375.4 C1376.4 1376.8 1380.5 1380.3 1383.2 1381.6 C1385.9 1382.9 1386.6 1384.0 1389.3 1383.1 C1392.0 1382.3 1396.4 1378.6 1399.4 1376.6 C1402.5 1374.6 1404.2 1371.7 1407.6 1371.0 C1411.0 1370.3 1415.7 1372.4 1419.7 1372.5 C1423.8 1372.7 1428.2 1370.9 1431.9 1371.8 C1435.6 1372.6 1439.3 1375.9 1442.0 1377.5 C1444.7 1379.2 1446.2 1381.1 1448.1 1381.6 C1450.0 1382.1 1451.2 1382.0 1453.3 1380.6 C1455.3 1379.3 1457.9 1374.2 1460.4 1373.5 C1462.9 1372.8 1465.5 1375.4 1468.5 1376.6 C1471.5 1377.8 1475.2 1380.3 1478.6 1380.6 C1482.0 1380.9 1485.1 1379.4 1488.8 1378.5 C1492.5 1377.6 1497.6 1377.3 1501.0 1375.4 C1504.4 1373.6 1506.4 1370.0 1509.1 1367.3 C1511.8 1364.6 1514.6 1360.3 1517.3 1359.2 C1520.0 1358.2 1522.2 1360.8 1525.4 1360.8 C1528.6 1360.8 1534.7 1359.5 1536.5 1359.2 M499.4 1196.2 C499.6 1200.0 498.4 1213.6 500.4 1219.1 C502.4 1224.6 508.1 1226.9 511.6 1229.3 C515.2 1231.7 517.6 1233.7 521.7 1233.4 C525.8 1233.0 531.6 1228.2 536.0 1227.2 C540.4 1226.2 545.1 1226.5 548.1 1227.2 C551.1 1227.9 551.8 1229.5 554.2 1231.4 C556.6 1233.3 559.4 1236.9 562.4 1238.5 C565.4 1240.2 569.3 1241.5 572.5 1241.4 C575.7 1241.4 579.0 1239.4 581.7 1238.4 C584.4 1237.4 582.9 1235.6 588.8 1235.5 C594.7 1235.3 609.1 1235.7 617.2 1237.4 C625.3 1239.1 630.7 1243.9 637.5 1245.5 C644.3 1247.0 651.1 1246.8 657.9 1246.6 C664.7 1246.5 673.3 1245.6 678.2 1244.5 C683.1 1243.4 683.9 1238.4 687.3 1239.9 C690.7 1241.4 694.6 1249.3 698.5 1253.8 C702.4 1258.2 706.6 1266.2 710.7 1266.8 C714.8 1267.5 718.9 1258.5 722.9 1257.8 C726.9 1257.1 730.6 1258.9 735.0 1262.8 C739.4 1266.7 745.2 1279.6 749.3 1281.1 C753.4 1282.6 756.2 1278.3 759.4 1272.0 C762.6 1265.8 765.2 1244.9 768.6 1243.6 C772.0 1242.2 775.8 1259.1 779.7 1263.8 C783.6 1268.5 787.8 1269.2 791.9 1271.9 C796.0 1274.5 800.7 1275.2 804.1 1279.9 C807.5 1284.7 809.6 1300.7 812.3 1300.3 C815.0 1300.0 817.7 1283.8 820.4 1278.0 C823.1 1272.3 826.1 1267.5 828.5 1265.9 C830.9 1264.3 833.5 1267.9 835.0 1268.4 C836.5 1268.9 835.5 1269.9 837.2 1269.0 C838.9 1268.0 842.9 1263.2 845.3 1262.8 C847.7 1262.5 849.4 1264.3 851.4 1266.8 C853.4 1269.4 855.5 1277.9 857.5 1278.0 C859.5 1278.2 861.7 1273.2 863.6 1267.8 C865.5 1262.4 867.2 1249.9 868.7 1245.5 C870.2 1241.1 871.2 1241.1 872.7 1241.4 C874.2 1241.8 875.9 1245.1 877.8 1247.6 C879.7 1250.1 881.9 1255.0 883.9 1256.6 C885.9 1258.3 887.6 1258.4 890.0 1257.6 C892.4 1256.8 895.4 1253.7 898.1 1251.6 C900.8 1249.6 902.6 1247.2 906.3 1245.5 C910.0 1243.8 916.5 1241.8 920.5 1241.4 C924.5 1241.1 926.9 1242.4 930.6 1243.6 C934.3 1244.7 940.1 1247.6 942.8 1248.6 C945.5 1249.6 944.5 1249.0 946.9 1249.5 C949.3 1250.0 953.7 1252.0 957.1 1251.6 C960.5 1251.3 962.8 1247.2 967.2 1247.6 C971.6 1248.0 978.1 1252.1 983.5 1253.8 C988.9 1255.4 994.0 1257.1 999.7 1257.6 C1005.5 1258.1 1012.2 1257.0 1018.0 1256.6 C1023.8 1256.3 1029.2 1256.9 1034.3 1255.7 C1039.4 1254.5 1042.8 1251.2 1048.5 1249.5 C1054.2 1247.8 1062.0 1246.3 1068.8 1245.5 C1075.6 1244.6 1083.3 1245.2 1089.1 1244.5 C1094.8 1243.8 1100.4 1241.8 1103.3 1241.4 C1106.2 1241.1 1105.0 1241.4 1106.4 1242.4 C1107.8 1243.4 1108.6 1246.7 1111.5 1247.6 C1114.4 1248.5 1119.0 1248.1 1123.7 1247.6 C1128.4 1247.1 1134.8 1244.7 1139.9 1244.5 C1145.0 1244.4 1149.1 1245.1 1154.2 1246.6 C1159.3 1248.2 1166.1 1251.9 1170.4 1253.8 C1174.7 1255.6 1177.0 1257.3 1180.0 1257.8 C1183.0 1258.3 1186.1 1257.7 1188.1 1256.6 C1190.1 1255.6 1190.2 1253.5 1192.2 1251.6 C1194.2 1249.8 1197.9 1246.5 1200.3 1245.5 C1202.7 1244.5 1204.2 1244.8 1206.4 1245.5 C1208.6 1246.2 1210.8 1249.7 1213.5 1249.5 C1216.2 1249.4 1219.5 1245.2 1222.7 1244.5 C1225.9 1243.8 1229.8 1245.3 1232.8 1245.5 C1235.8 1245.6 1237.6 1245.6 1241.0 1245.5 C1244.4 1245.3 1249.7 1245.2 1253.1 1244.5 C1256.5 1243.8 1258.6 1242.8 1261.3 1241.4 C1264.0 1240.1 1267.0 1236.8 1269.4 1236.4 C1271.8 1236.1 1272.8 1237.5 1275.5 1239.5 C1278.2 1241.5 1282.2 1246.2 1285.6 1248.6 C1289.0 1250.9 1291.4 1252.6 1295.8 1253.8 C1300.2 1254.9 1307.7 1255.2 1312.1 1255.7 C1316.5 1256.2 1318.5 1255.8 1322.2 1256.6 C1325.9 1257.5 1331.0 1260.3 1334.4 1260.7 C1337.8 1261.0 1337.8 1259.3 1342.5 1258.8 C1347.2 1258.2 1356.8 1258.0 1362.9 1257.6 C1369.0 1257.3 1374.7 1255.9 1379.1 1256.6 C1383.5 1257.4 1385.2 1261.5 1389.3 1261.8 C1393.3 1262.2 1397.7 1259.5 1403.4 1258.8 C1409.2 1258.1 1417.0 1257.1 1423.8 1257.6 C1430.6 1258.1 1439.0 1262.0 1444.1 1261.8 C1449.2 1261.7 1449.6 1257.0 1454.3 1256.6 C1459.0 1256.3 1468.1 1260.2 1472.5 1259.7 C1476.9 1259.2 1478.0 1256.1 1480.7 1253.6 C1483.4 1251.0 1486.1 1245.4 1488.8 1244.5 C1491.5 1243.7 1494.2 1247.1 1496.9 1248.6 C1499.6 1250.1 1500.9 1252.9 1505.0 1253.6 C1509.1 1254.2 1516.0 1251.8 1521.3 1252.6 C1526.5 1253.4 1534.0 1257.3 1536.5 1258.2 M566.4 1196.2 C566.6 1200.0 565.0 1215.1 567.4 1219.1 C569.8 1223.1 577.0 1220.4 580.6 1220.1 C584.2 1219.7 584.7 1217.5 588.8 1217.0 C592.9 1216.5 596.9 1216.5 605.0 1217.0 C613.1 1217.5 628.7 1219.6 637.5 1220.1 C646.3 1220.6 651.1 1220.7 657.9 1220.1 C664.7 1219.4 674.2 1217.2 678.2 1216.0 C682.2 1214.8 680.2 1211.6 682.2 1212.9 C684.2 1214.3 687.0 1220.9 690.4 1224.3 C693.8 1227.7 699.1 1231.3 702.5 1233.4 C705.9 1235.4 707.3 1236.9 710.7 1236.4 C714.1 1235.9 718.2 1231.3 722.9 1230.3 C727.6 1229.2 734.0 1229.6 739.1 1230.3 C744.2 1230.9 750.2 1235.8 753.3 1234.3 C756.3 1232.8 755.7 1224.9 757.4 1221.2 C759.1 1217.5 760.5 1213.4 763.5 1212.0 C766.5 1210.6 772.3 1212.3 775.7 1212.9 C779.1 1213.6 781.1 1216.2 783.8 1216.0 C786.5 1215.9 789.2 1211.8 791.9 1212.0 C794.6 1212.1 797.3 1210.1 800.0 1217.0 C802.7 1223.9 806.2 1246.6 808.2 1253.6 C810.2 1260.5 810.9 1259.1 812.3 1258.8 C813.6 1258.4 814.9 1256.9 816.3 1251.6 C817.6 1246.4 818.4 1234.3 820.4 1227.2 C822.4 1220.1 826.1 1212.3 828.5 1208.9 C830.9 1205.5 832.9 1206.8 835.0 1207.0 C837.1 1207.2 839.2 1207.5 841.3 1210.1 C843.3 1212.6 845.3 1219.5 847.3 1222.2 C849.3 1224.9 851.4 1226.2 853.4 1226.2 C855.4 1226.2 856.8 1223.4 859.5 1222.2 C862.2 1221.0 865.3 1219.8 869.7 1219.1 C874.1 1218.4 880.6 1218.5 886.0 1218.1 C891.4 1217.8 898.8 1218.0 902.2 1217.2 C905.6 1216.3 904.3 1214.8 906.3 1213.1 C908.3 1211.4 911.7 1207.7 914.4 1207.0 C917.1 1206.3 919.1 1207.6 922.5 1208.9 C925.9 1210.3 931.3 1213.0 934.7 1215.1 C938.1 1217.1 940.4 1220.0 942.8 1221.2 C945.2 1222.4 944.8 1222.5 948.9 1222.2 C953.0 1221.8 962.1 1219.9 967.2 1219.1 C972.3 1218.3 975.3 1216.8 979.4 1217.2 C983.5 1217.5 987.5 1219.9 991.6 1221.2 C995.7 1222.6 999.1 1225.1 1003.8 1225.3 C1008.5 1225.4 1014.9 1223.1 1020.0 1222.2 C1025.1 1221.3 1029.5 1220.7 1034.3 1220.1 C1039.0 1219.4 1042.8 1218.5 1048.5 1218.1 C1054.2 1217.8 1063.7 1217.3 1068.8 1218.1 C1073.9 1219.0 1076.6 1222.3 1079.0 1223.2 C1081.4 1224.0 1080.6 1223.8 1083.0 1223.2 C1085.4 1222.5 1091.0 1220.5 1093.2 1219.1 C1095.4 1217.8 1095.5 1218.9 1096.2 1215.1 C1096.9 1211.2 1097.0 1199.3 1097.2 1196.2 M1279.6 1196.2 C1279.8 1199.3 1278.2 1211.7 1280.6 1215.1 C1283.0 1218.5 1289.6 1216.6 1293.8 1216.6 C1298.0 1216.6 1302.6 1214.5 1306.0 1215.1 C1309.4 1215.6 1310.7 1219.0 1314.1 1220.1 C1317.5 1221.1 1322.9 1221.2 1326.3 1221.2 C1329.7 1221.2 1331.7 1220.5 1334.4 1220.1 C1337.1 1219.7 1339.5 1218.4 1342.5 1218.7 C1345.5 1219.1 1349.0 1221.1 1352.7 1222.2 C1356.4 1223.3 1360.8 1225.3 1364.9 1225.3 C1369.0 1225.3 1374.0 1222.5 1377.1 1222.2 C1380.1 1221.8 1380.8 1222.5 1383.2 1223.2 C1385.6 1223.8 1387.9 1225.9 1391.3 1226.2 C1394.7 1226.6 1398.0 1225.6 1403.4 1225.3 C1408.8 1224.9 1417.0 1224.5 1423.8 1224.3 C1430.6 1224.1 1437.3 1224.1 1444.1 1224.3 C1450.9 1224.5 1459.0 1224.9 1464.4 1225.3 C1469.8 1225.6 1472.2 1226.6 1476.6 1226.2 C1481.0 1225.9 1487.1 1223.2 1490.8 1223.2 C1494.5 1223.2 1496.0 1225.6 1499.0 1226.2 C1502.0 1226.9 1504.7 1227.2 1509.1 1227.2 C1513.5 1227.2 1521.3 1225.4 1525.4 1226.2 C1529.5 1227.1 1531.7 1231.0 1533.5 1232.4 C1535.3 1233.8 1536.0 1234.3 1536.5 1234.7 M1301.9 1196.2 C1301.9 1197.0 1300.2 1199.2 1301.9 1200.8 C1303.6 1202.5 1308.7 1204.7 1312.1 1206.0 C1315.5 1207.4 1318.5 1208.2 1322.2 1208.9 C1325.9 1209.6 1331.0 1209.8 1334.4 1210.1 C1337.8 1210.3 1337.8 1210.5 1342.5 1210.6 C1347.2 1210.8 1357.1 1211.1 1362.9 1211.0 C1368.7 1210.9 1372.0 1209.7 1377.1 1210.1 C1382.2 1210.4 1387.9 1212.0 1393.3 1213.1 C1398.7 1214.3 1404.5 1216.7 1409.6 1217.2 C1414.7 1217.7 1418.0 1216.4 1423.8 1216.0 C1429.5 1215.7 1437.3 1214.9 1444.1 1215.1 C1450.9 1215.3 1458.3 1216.7 1464.4 1217.2 C1470.5 1217.7 1476.0 1218.8 1480.7 1218.1 C1485.5 1217.5 1489.9 1214.6 1492.9 1213.1 C1496.0 1211.6 1497.8 1211.2 1499.0 1209.1 C1500.2 1207.0 1500.2 1203.0 1500.0 1200.8 C1499.8 1198.7 1498.3 1197.0 1498.0 1196.2 M633.5 1196.2 C634.2 1197.3 635.5 1201.1 637.5 1202.9 C639.5 1204.7 643.3 1207.1 645.7 1207.0 C648.1 1206.8 649.8 1202.6 651.8 1202.0 C653.8 1201.3 656.2 1202.1 657.9 1202.9 C659.6 1203.8 659.2 1206.3 661.9 1207.0 C664.6 1207.7 671.7 1208.8 674.1 1207.0 C676.5 1205.2 675.8 1198.0 676.1 1196.2 M698.5 1196.2 C698.8 1198.7 698.5 1208.0 700.5 1211.0 C702.5 1214.0 706.0 1213.8 710.7 1214.1 C715.5 1214.4 724.3 1214.1 729.0 1212.9 C733.7 1211.8 735.7 1208.6 739.1 1207.0 C742.5 1205.3 745.9 1204.7 749.3 1202.9 C752.7 1201.1 757.7 1197.3 759.4 1196.2 M816.3 1196.2 C816.9 1196.8 818.4 1199.2 820.0 1200.0 C821.6 1200.9 823.9 1201.7 826.0 1201.0 C828.1 1200.4 831.5 1197.0 832.6 1196.2 M845.3 1196.2 C846.3 1197.3 848.0 1202.2 851.4 1202.9 C854.8 1203.7 861.2 1201.5 865.6 1200.8 C870.0 1200.1 873.4 1198.1 877.8 1198.9 C882.2 1199.7 887.9 1205.0 892.0 1205.8 C896.1 1206.7 898.1 1204.5 902.2 1203.9 C906.3 1203.3 911.7 1202.3 916.4 1202.0 C921.1 1201.7 927.2 1202.5 930.6 1202.0 C934.0 1201.5 935.5 1199.9 936.7 1198.9 C937.9 1197.9 937.6 1196.6 937.8 1196.2 M955.0 1196.2 C954.7 1197.5 952.7 1201.6 953.4 1203.9 C954.1 1206.2 955.5 1208.9 959.1 1210.1 C962.8 1211.2 970.6 1210.5 975.3 1211.0 C980.0 1211.5 982.8 1211.9 987.5 1212.9 C992.2 1214.0 998.7 1216.8 1003.8 1217.2 C1008.9 1217.5 1013.3 1215.9 1018.0 1215.1 C1022.7 1214.2 1029.0 1213.3 1032.2 1212.0 C1035.4 1210.6 1036.5 1209.6 1037.3 1207.0 C1038.1 1204.3 1037.3 1198.0 1037.3 1196.2 M1054.6 1196.2 C1054.4 1198.0 1053.1 1204.7 1053.6 1207.0 C1054.1 1209.3 1056.4 1210.1 1057.6 1210.1 C1058.8 1210.1 1060.2 1209.3 1060.7 1207.0 C1061.2 1204.7 1060.7 1198.0 1060.7 1196.2 M166.0 1196.2 C166.3 1196.8 166.5 1199.0 168.0 1200.0 C169.5 1201.1 172.5 1202.4 175.0 1202.6 C177.5 1202.7 181.2 1202.1 183.0 1201.0 C184.8 1200.0 185.1 1197.0 185.5 1196.2 M195.1 1196.2 C195.3 1199.5 193.6 1212.0 196.1 1216.2 C198.6 1220.4 205.9 1219.9 210.3 1221.2 C214.7 1222.6 219.1 1223.3 222.5 1224.3 C225.9 1225.3 230.1 1228.2 230.6 1227.0 C231.1 1225.8 226.3 1222.3 225.6 1217.2 C224.9 1212.0 226.4 1199.7 226.6 1196.2 M295.7 1196.2 C295.8 1197.8 295.8 1203.5 296.5 1205.8 C297.2 1208.1 298.8 1209.7 300.0 1210.1 C301.2 1210.4 303.0 1210.1 304.0 1207.8 C305.0 1205.4 305.5 1198.1 305.8 1196.2 M313.0 1200.0 C313.8 1200.7 316.2 1203.1 318.0 1203.9 C319.8 1204.7 322.3 1205.3 324.0 1204.9 C325.7 1204.4 328.3 1202.5 328.0 1201.0 C327.7 1199.6 324.0 1196.8 322.0 1196.2 C320.0 1195.6 317.5 1196.5 316.0 1197.2 C314.5 1197.8 313.5 1199.6 313.0 1200.0 M344.9 1196.2 C344.8 1198.3 343.1 1204.9 344.4 1208.9 C345.7 1212.9 349.9 1217.9 352.6 1220.1 C355.3 1222.3 358.0 1222.7 360.7 1222.2 C363.4 1221.7 366.9 1219.4 368.8 1217.2 C370.7 1215.0 371.3 1212.4 371.8 1208.9 C372.3 1205.4 371.8 1198.3 371.8 1196.2 M471.4 1196.2 C471.5 1198.1 471.0 1205.3 471.8 1207.8 C472.6 1210.2 474.3 1210.5 476.0 1211.0 C477.7 1211.5 480.7 1211.5 482.0 1210.6 C483.3 1209.8 483.7 1208.2 484.0 1205.8 C484.3 1203.4 484.0 1197.8 484.0 1196.2" fill="none" stroke="#000" stroke-width="1.9" stroke-linejoin="round"/><text x="174.4" y="554.0" font-size="36" font-weight="bold" fill="#000000">b) Salinity</text><text x="174.4" y="832.3" font-size="36" font-weight="bold" fill="#000000">c) Oxygen (µmol kg<tspan font-size="25" dy="-17">-1</tspan><tspan dy="17">)</tspan></text><text x="174.4" y="1101.6" font-size="36" font-weight="bold" fill="#000000">d) pH</text><text x="174.4" y="1379.8" font-size="36" font-weight="bold" fill="#000000">e) Nitrate (µmol kg<tspan font-size="25" dy="-17">-1</tspan><tspan dy="17">)</tspan></text><text x="158.6" y="1649.1" font-size="36" font-weight="bold" fill="#eeeeee">f) Oxygen:Nitrate ratio</text><line x1="156.0" y1="101.2" x2="156.0" y2="293.7" stroke="#a6a6a6" stroke-width="4.5"/><line x1="551.2" y1="101.2" x2="551.2" y2="293.7" stroke="#a6a6a6" stroke-width="4.5"/><line x1="945.0" y1="101.2" x2="945.0" y2="293.7" stroke="#a6a6a6" stroke-width="4.5"/><line x1="1338.8" y1="101.2" x2="1338.8" y2="293.7" stroke="#a6a6a6" stroke-width="4.5"/><line x1="584.5" y1="101.2" x2="584.5" y2="293.7" stroke="#000" stroke-width="4.2"/><line x1="1107.7" y1="101.2" x2="1107.7" y2="293.7" stroke="#000" stroke-width="4.2"/><line x1="1273.2" y1="101.2" x2="1273.2" y2="293.7" stroke="#000" stroke-width="4.2"/><line x1="254.4" y1="293.7" x2="254.4" y2="101.2" stroke="#ff0000" stroke-width="5" stroke-dasharray="19.2 18.4"/><line x1="879.4" y1="293.7" x2="879.4" y2="101.2" stroke="#ff0000" stroke-width="5" stroke-dasharray="19.2 18.4"/><line x1="1140.0" y1="293.7" x2="1140.0" y2="101.2" stroke="#ff0000" stroke-width="5" stroke-dasharray="19.2 18.4"/><line x1="1387.1" y1="293.7" x2="1387.1" y2="101.2" stroke="#ff0000" stroke-width="5" stroke-dasharray="19.2 18.4"/><line x1="1034.4" y1="293.7" x2="1034.4" y2="101.2" stroke="#ff00ff" stroke-width="5" stroke-dasharray="19.2 18.4"/><line x1="1189.7" y1="293.7" x2="1189.7" y2="101.2" stroke="#ff00ff" stroke-width="5" stroke-dasharray="19.2 18.4"/><line x1="156.0" y1="374.9" x2="156.0" y2="567.5" stroke="#a6a6a6" stroke-width="4.5"/><line x1="551.2" y1="374.9" x2="551.2" y2="567.5" stroke="#a6a6a6" stroke-width="4.5"/><line x1="945.0" y1="374.9" x2="945.0" y2="567.5" stroke="#a6a6a6" stroke-width="4.5"/><line x1="1338.8" y1="374.9" x2="1338.8" y2="567.5" stroke="#a6a6a6" stroke-width="4.5"/><line x1="584.5" y1="374.9" x2="584.5" y2="567.5" stroke="#000" stroke-width="4.2"/><line x1="1107.7" y1="374.9" x2="1107.7" y2="567.5" stroke="#000" stroke-width="4.2"/><line x1="1273.2" y1="374.9" x2="1273.2" y2="567.5" stroke="#000" stroke-width="4.2"/><line x1="254.4" y1="567.5" x2="254.4" y2="374.9" stroke="#ff0000" stroke-width="5" stroke-dasharray="19.2 18.4"/><line x1="879.4" y1="567.5" x2="879.4" y2="374.9" stroke="#ff0000" stroke-width="5" stroke-dasharray="19.2 18.4"/><line x1="1140.0" y1="567.5" x2="1140.0" y2="374.9" stroke="#ff0000" stroke-width="5" stroke-dasharray="19.2 18.4"/><line x1="1387.1" y1="567.5" x2="1387.1" y2="374.9" stroke="#ff0000" stroke-width="5" stroke-dasharray="19.2 18.4"/><line x1="1034.4" y1="567.5" x2="1034.4" y2="374.9" stroke="#ff00ff" stroke-width="5" stroke-dasharray="19.2 18.4"/><line x1="1189.7" y1="567.5" x2="1189.7" y2="374.9" stroke="#ff00ff" stroke-width="5" stroke-dasharray="19.2 18.4"/><line x1="156.0" y1="648.7" x2="156.0" y2="841.2" stroke="#a6a6a6" stroke-width="4.5"/><line x1="551.2" y1="648.7" x2="551.2" y2="841.2" stroke="#a6a6a6" stroke-width="4.5"/><line x1="945.0" y1="648.7" x2="945.0" y2="841.2" stroke="#a6a6a6" stroke-width="4.5"/><line x1="1338.8" y1="648.7" x2="1338.8" y2="841.2" stroke="#a6a6a6" stroke-width="4.5"/><line x1="584.5" y1="648.7" x2="584.5" y2="841.2" stroke="#000" stroke-width="4.2"/><line x1="1107.7" y1="648.7" x2="1107.7" y2="841.2" stroke="#000" stroke-width="4.2"/><line x1="1273.2" y1="648.7" x2="1273.2" y2="841.2" stroke="#000" stroke-width="4.2"/><line x1="254.4" y1="841.2" x2="254.4" y2="648.7" stroke="#ff0000" stroke-width="5" stroke-dasharray="19.2 18.4"/><line x1="879.4" y1="841.2" x2="879.4" y2="648.7" stroke="#ff0000" stroke-width="5" stroke-dasharray="19.2 18.4"/><line x1="1140.0" y1="841.2" x2="1140.0" y2="648.7" stroke="#ff0000" stroke-width="5" stroke-dasharray="19.2 18.4"/><line x1="1387.1" y1="841.2" x2="1387.1" y2="648.7" stroke="#ff0000" stroke-width="5" stroke-dasharray="19.2 18.4"/><line x1="1034.4" y1="841.2" x2="1034.4" y2="648.7" stroke="#ff00ff" stroke-width="5" stroke-dasharray="19.2 18.4"/><line x1="1189.7" y1="841.2" x2="1189.7" y2="648.7" stroke="#ff00ff" stroke-width="5" stroke-dasharray="19.2 18.4"/><line x1="156.0" y1="922.5" x2="156.0" y2="1115.0" stroke="#a6a6a6" stroke-width="4.5"/><line x1="551.2" y1="922.5" x2="551.2" y2="1115.0" stroke="#a6a6a6" stroke-width="4.5"/><line x1="945.0" y1="922.5" x2="945.0" y2="1115.0" stroke="#a6a6a6" stroke-width="4.5"/><line x1="1338.8" y1="922.5" x2="1338.8" y2="1115.0" stroke="#a6a6a6" stroke-width="4.5"/><line x1="584.5" y1="922.5" x2="584.5" y2="1115.0" stroke="#000" stroke-width="4.2"/><line x1="1107.7" y1="922.5" x2="1107.7" y2="1115.0" stroke="#000" stroke-width="4.2"/><line x1="1273.2" y1="922.5" x2="1273.2" y2="1115.0" stroke="#000" stroke-width="4.2"/><line x1="254.4" y1="1115.0" x2="254.4" y2="922.5" stroke="#ff0000" stroke-width="5" stroke-dasharray="19.2 18.4"/><line x1="879.4" y1="1115.0" x2="879.4" y2="922.5" stroke="#ff0000" stroke-width="5" stroke-dasharray="19.2 18.4"/><line x1="1140.0" y1="1115.0" x2="1140.0" y2="922.5" stroke="#ff0000" stroke-width="5" stroke-dasharray="19.2 18.4"/><line x1="1387.1" y1="1115.0" x2="1387.1" y2="922.5" stroke="#ff0000" stroke-width="5" stroke-dasharray="19.2 18.4"/><line x1="1034.4" y1="1115.0" x2="1034.4" y2="922.5" stroke="#ff00ff" stroke-width="5" stroke-dasharray="19.2 18.4"/><line x1="1189.7" y1="1115.0" x2="1189.7" y2="922.5" stroke="#ff00ff" stroke-width="5" stroke-dasharray="19.2 18.4"/><line x1="156.0" y1="1196.2" x2="156.0" y2="1388.7" stroke="#a6a6a6" stroke-width="4.5"/><line x1="551.2" y1="1196.2" x2="551.2" y2="1388.7" stroke="#a6a6a6" stroke-width="4.5"/><line x1="945.0" y1="1196.2" x2="945.0" y2="1388.7" stroke="#a6a6a6" stroke-width="4.5"/><line x1="1338.8" y1="1196.2" x2="1338.8" y2="1388.7" stroke="#a6a6a6" stroke-width="4.5"/><line x1="584.5" y1="1196.2" x2="584.5" y2="1388.7" stroke="#000" stroke-width="4.2"/><line x1="1107.7" y1="1196.2" x2="1107.7" y2="1388.7" stroke="#000" stroke-width="4.2"/><line x1="1273.2" y1="1196.2" x2="1273.2" y2="1388.7" stroke="#000" stroke-width="4.2"/><line x1="254.4" y1="1388.7" x2="254.4" y2="1196.2" stroke="#ff0000" stroke-width="5" stroke-dasharray="19.2 18.4"/><line x1="879.4" y1="1388.7" x2="879.4" y2="1196.2" stroke="#ff0000" stroke-width="5" stroke-dasharray="19.2 18.4"/><line x1="1140.0" y1="1388.7" x2="1140.0" y2="1196.2" stroke="#ff0000" stroke-width="5" stroke-dasharray="19.2 18.4"/><line x1="1387.1" y1="1388.7" x2="1387.1" y2="1196.2" stroke="#ff0000" stroke-width="5" stroke-dasharray="19.2 18.4"/><line x1="1034.4" y1="1388.7" x2="1034.4" y2="1196.2" stroke="#ff00ff" stroke-width="5" stroke-dasharray="19.2 18.4"/><line x1="1189.7" y1="1388.7" x2="1189.7" y2="1196.2" stroke="#ff00ff" stroke-width="5" stroke-dasharray="19.2 18.4"/><line x1="156.0" y1="1470.0" x2="156.0" y2="1662.5" stroke="#a6a6a6" stroke-width="4.5"/><line x1="551.2" y1="1470.0" x2="551.2" y2="1662.5" stroke="#a6a6a6" stroke-width="4.5"/><line x1="945.0" y1="1470.0" x2="945.0" y2="1662.5" stroke="#a6a6a6" stroke-width="4.5"/><line x1="1338.8" y1="1470.0" x2="1338.8" y2="1662.5" stroke="#a6a6a6" stroke-width="4.5"/><line x1="584.5" y1="1470.0" x2="584.5" y2="1662.5" stroke="#000" stroke-width="4.2"/><line x1="1107.7" y1="1470.0" x2="1107.7" y2="1662.5" stroke="#000" stroke-width="4.2"/><line x1="1273.2" y1="1470.0" x2="1273.2" y2="1662.5" stroke="#000" stroke-width="4.2"/><line x1="254.4" y1="1662.5" x2="254.4" y2="1470.0" stroke="#ff0000" stroke-width="5" stroke-dasharray="19.2 18.4"/><line x1="879.4" y1="1662.5" x2="879.4" y2="1470.0" stroke="#ff0000" stroke-width="5" stroke-dasharray="19.2 18.4"/><line x1="1140.0" y1="1662.5" x2="1140.0" y2="1470.0" stroke="#ff0000" stroke-width="5" stroke-dasharray="19.2 18.4"/><line x1="1387.1" y1="1662.5" x2="1387.1" y2="1470.0" stroke="#ff0000" stroke-width="5" stroke-dasharray="19.2 18.4"/><line x1="1034.4" y1="1662.5" x2="1034.4" y2="1470.0" stroke="#ff00ff" stroke-width="5" stroke-dasharray="19.2 18.4"/><line x1="1189.7" y1="1662.5" x2="1189.7" y2="1470.0" stroke="#ff00ff" stroke-width="5" stroke-dasharray="19.2 18.4"/><text x="174.4" y="280.3" font-size="36" font-weight="bold" fill="#ffffff">a) Pot. Temp. (°C)</text><rect x="131.0" y="101.2" width="1405.5" height="192.5" fill="none" stroke="#262626" stroke-width="1.3"/><text x="156.0" y="333.7" font-size="33" fill="#262626" text-anchor="middle">Jan</text><text x="254.2" y="333.7" font-size="33" fill="#262626" text-anchor="middle">Apr</text><text x="352.5" y="333.7" font-size="33" fill="#262626" text-anchor="middle">Jul</text><text x="451.8" y="333.7" font-size="33" fill="#262626" text-anchor="middle">Oct</text><text x="551.1" y="333.7" font-size="33" fill="#262626" text-anchor="middle">Jan</text><text x="648.2" y="333.7" font-size="33" fill="#262626" text-anchor="middle">Apr</text><text x="746.5" y="333.7" font-size="33" fill="#262626" text-anchor="middle">Jul</text><text x="845.8" y="333.7" font-size="33" fill="#262626" text-anchor="middle">Oct</text><text x="945.1" y="333.7" font-size="33" fill="#262626" text-anchor="middle">Jan</text><text x="1042.2" y="333.7" font-size="33" fill="#262626" text-anchor="middle">Apr</text><text x="1140.5" y="333.7" font-size="33" fill="#262626" text-anchor="middle">Jul</text><text x="1239.8" y="333.7" font-size="33" fill="#262626" text-anchor="middle">Oct</text><text x="1339.1" y="333.7" font-size="33" fill="#262626" text-anchor="middle">Jan</text><text x="1436.2" y="333.7" font-size="33" fill="#262626" text-anchor="middle">Apr</text><text x="1534.5" y="333.7" font-size="33" fill="#262626" text-anchor="middle">Jul</text><text x="122.0" y="114.2" font-size="33" fill="#262626" text-anchor="end">0</text><text x="122.0" y="191.2" font-size="33" fill="#262626" text-anchor="end">-200</text><text x="122.0" y="268.2" font-size="33" fill="#262626" text-anchor="end">-400</text><text transform="translate(44.5,197.4) rotate(-90)" font-size="35.6" fill="#262626" text-anchor="middle">Depth(m)</text><rect x="131.0" y="374.9" width="1405.5" height="192.5" fill="none" stroke="#262626" stroke-width="1.3"/><text x="156.0" y="607.5" font-size="33" fill="#262626" text-anchor="middle">Jan</text><text x="254.2" y="607.5" font-size="33" fill="#262626" text-anchor="middle">Apr</text><text x="352.5" y="607.5" font-size="33" fill="#262626" text-anchor="middle">Jul</text><text x="451.8" y="607.5" font-size="33" fill="#262626" text-anchor="middle">Oct</text><text x="551.1" y="607.5" font-size="33" fill="#262626" text-anchor="middle">Jan</text><text x="648.2" y="607.5" font-size="33" fill="#262626" text-anchor="middle">Apr</text><text x="746.5" y="607.5" font-size="33" fill="#262626" text-anchor="middle">Jul</text><text x="845.8" y="607.5" font-size="33" fill="#262626" text-anchor="middle">Oct</text><text x="945.1" y="607.5" font-size="33" fill="#262626" text-anchor="middle">Jan</text><text x="1042.2" y="607.5" font-size="33" fill="#262626" text-anchor="middle">Apr</text><text x="1140.5" y="607.5" font-size="33" fill="#262626" text-anchor="middle">Jul</text><text x="1239.8" y="607.5" font-size="33" fill="#262626" text-anchor="middle">Oct</text><text x="1339.1" y="607.5" font-size="33" fill="#262626" text-anchor="middle">Jan</text><text x="1436.2" y="607.5" font-size="33" fill="#262626" text-anchor="middle">Apr</text><text x="1534.5" y="607.5" font-size="33" fill="#262626" text-anchor="middle">Jul</text><text x="122.0" y="387.9" font-size="33" fill="#262626" text-anchor="end">0</text><text x="122.0" y="464.9" font-size="33" fill="#262626" text-anchor="end">-200</text><text x="122.0" y="542.0" font-size="33" fill="#262626" text-anchor="end">-400</text><text transform="translate(44.5,471.2) rotate(-90)" font-size="35.6" fill="#262626" text-anchor="middle">Depth(m)</text><rect x="131.0" y="648.7" width="1405.5" height="192.5" fill="none" stroke="#262626" stroke-width="1.3"/><text x="156.0" y="881.2" font-size="33" fill="#262626" text-anchor="middle">Jan</text><text x="254.2" y="881.2" font-size="33" fill="#262626" text-anchor="middle">Apr</text><text x="352.5" y="881.2" font-size="33" fill="#262626" text-anchor="middle">Jul</text><text x="451.8" y="881.2" font-size="33" fill="#262626" text-anchor="middle">Oct</text><text x="551.1" y="881.2" font-size="33" fill="#262626" text-anchor="middle">Jan</text><text x="648.2" y="881.2" font-size="33" fill="#262626" text-anchor="middle">Apr</text><text x="746.5" y="881.2" font-size="33" fill="#262626" text-anchor="middle">Jul</text><text x="845.8" y="881.2" font-size="33" fill="#262626" text-anchor="middle">Oct</text><text x="945.1" y="881.2" font-size="33" fill="#262626" text-anchor="middle">Jan</text><text x="1042.2" y="881.2" font-size="33" fill="#262626" text-anchor="middle">Apr</text><text x="1140.5" y="881.2" font-size="33" fill="#262626" text-anchor="middle">Jul</text><text x="1239.8" y="881.2" font-size="33" fill="#262626" text-anchor="middle">Oct</text><text x="1339.1" y="881.2" font-size="33" fill="#262626" text-anchor="middle">Jan</text><text x="1436.2" y="881.2" font-size="33" fill="#262626" text-anchor="middle">Apr</text><text x="1534.5" y="881.2" font-size="33" fill="#262626" text-anchor="middle">Jul</text><text x="122.0" y="661.7" font-size="33" fill="#262626" text-anchor="end">0</text><text x="122.0" y="738.7" font-size="33" fill="#262626" text-anchor="end">-200</text><text x="122.0" y="815.7" font-size="33" fill="#262626" text-anchor="end">-400</text><text transform="translate(44.5,745.0) rotate(-90)" font-size="35.6" fill="#262626" text-anchor="middle">Depth(m)</text><rect x="131.0" y="922.5" width="1405.5" height="192.5" fill="none" stroke="#262626" stroke-width="1.3"/><text x="156.0" y="1155.0" font-size="33" fill="#262626" text-anchor="middle">Jan</text><text x="254.2" y="1155.0" font-size="33" fill="#262626" text-anchor="middle">Apr</text><text x="352.5" y="1155.0" font-size="33" fill="#262626" text-anchor="middle">Jul</text><text x="451.8" y="1155.0" font-size="33" fill="#262626" text-anchor="middle">Oct</text><text x="551.1" y="1155.0" font-size="33" fill="#262626" text-anchor="middle">Jan</text><text x="648.2" y="1155.0" font-size="33" fill="#262626" text-anchor="middle">Apr</text><text x="746.5" y="1155.0" font-size="33" fill="#262626" text-anchor="middle">Jul</text><text x="845.8" y="1155.0" font-size="33" fill="#262626" text-anchor="middle">Oct</text><text x="945.1" y="1155.0" font-size="33" fill="#262626" text-anchor="middle">Jan</text><text x="1042.2" y="1155.0" font-size="33" fill="#262626" text-anchor="middle">Apr</text><text x="1140.5" y="1155.0" font-size="33" fill="#262626" text-anchor="middle">Jul</text><text x="1239.8" y="1155.0" font-size="33" fill="#262626" text-anchor="middle">Oct</text><text x="1339.1" y="1155.0" font-size="33" fill="#262626" text-anchor="middle">Jan</text><text x="1436.2" y="1155.0" font-size="33" fill="#262626" text-anchor="middle">Apr</text><text x="1534.5" y="1155.0" font-size="33" fill="#262626" text-anchor="middle">Jul</text><text x="122.0" y="935.5" font-size="33" fill="#262626" text-anchor="end">0</text><text x="122.0" y="1012.5" font-size="33" fill="#262626" text-anchor="end">-200</text><text x="122.0" y="1089.5" font-size="33" fill="#262626" text-anchor="end">-400</text><text transform="translate(44.5,1018.7) rotate(-90)" font-size="35.6" fill="#262626" text-anchor="middle">Depth(m)</text><rect x="131.0" y="1196.2" width="1405.5" height="192.5" fill="none" stroke="#262626" stroke-width="1.3"/><text x="156.0" y="1428.7" font-size="33" fill="#262626" text-anchor="middle">Jan</text><text x="254.2" y="1428.7" font-size="33" fill="#262626" text-anchor="middle">Apr</text><text x="352.5" y="1428.7" font-size="33" fill="#262626" text-anchor="middle">Jul</text><text x="451.8" y="1428.7" font-size="33" fill="#262626" text-anchor="middle">Oct</text><text x="551.1" y="1428.7" font-size="33" fill="#262626" text-anchor="middle">Jan</text><text x="648.2" y="1428.7" font-size="33" fill="#262626" text-anchor="middle">Apr</text><text x="746.5" y="1428.7" font-size="33" fill="#262626" text-anchor="middle">Jul</text><text x="845.8" y="1428.7" font-size="33" fill="#262626" text-anchor="middle">Oct</text><text x="945.1" y="1428.7" font-size="33" fill="#262626" text-anchor="middle">Jan</text><text x="1042.2" y="1428.7" font-size="33" fill="#262626" text-anchor="middle">Apr</text><text x="1140.5" y="1428.7" font-size="33" fill="#262626" text-anchor="middle">Jul</text><text x="1239.8" y="1428.7" font-size="33" fill="#262626" text-anchor="middle">Oct</text><text x="1339.1" y="1428.7" font-size="33" fill="#262626" text-anchor="middle">Jan</text><text x="1436.2" y="1428.7" font-size="33" fill="#262626" text-anchor="middle">Apr</text><text x="1534.5" y="1428.7" font-size="33" fill="#262626" text-anchor="middle">Jul</text><text x="122.0" y="1209.2" font-size="33" fill="#262626" text-anchor="end">0</text><text x="122.0" y="1286.2" font-size="33" fill="#262626" text-anchor="end">-200</text><text x="122.0" y="1363.2" font-size="33" fill="#262626" text-anchor="end">-400</text><text transform="translate(44.5,1292.5) rotate(-90)" font-size="35.6" fill="#262626" text-anchor="middle">Depth(m)</text><rect x="131.0" y="1470.0" width="1405.5" height="192.5" fill="none" stroke="#262626" stroke-width="1.3"/><text x="156.0" y="1702.5" font-size="33" fill="#262626" text-anchor="middle">Jan</text><text x="254.2" y="1702.5" font-size="33" fill="#262626" text-anchor="middle">Apr</text><text x="352.5" y="1702.5" font-size="33" fill="#262626" text-anchor="middle">Jul</text><text x="451.8" y="1702.5" font-size="33" fill="#262626" text-anchor="middle">Oct</text><text x="551.1" y="1702.5" font-size="33" fill="#262626" text-anchor="middle">Jan</text><text x="648.2" y="1702.5" font-size="33" fill="#262626" text-anchor="middle">Apr</text><text x="746.5" y="1702.5" font-size="33" fill="#262626" text-anchor="middle">Jul</text><text x="845.8" y="1702.5" font-size="33" fill="#262626" text-anchor="middle">Oct</text><text x="945.1" y="1702.5" font-size="33" fill="#262626" text-anchor="middle">Jan</text><text x="1042.2" y="1702.5" font-size="33" fill="#262626" text-anchor="middle">Apr</text><text x="1140.5" y="1702.5" font-size="33" fill="#262626" text-anchor="middle">Jul</text><text x="1239.8" y="1702.5" font-size="33" fill="#262626" text-anchor="middle">Oct</text><text x="1339.1" y="1702.5" font-size="33" fill="#262626" text-anchor="middle">Jan</text><text x="1436.2" y="1702.5" font-size="33" fill="#262626" text-anchor="middle">Apr</text><text x="1534.5" y="1702.5" font-size="33" fill="#262626" text-anchor="middle">Jul</text><text x="122.0" y="1483.0" font-size="33" fill="#262626" text-anchor="end">0</text><text x="122.0" y="1560.0" font-size="33" fill="#262626" text-anchor="end">-200</text><text x="122.0" y="1637.0" font-size="33" fill="#262626" text-anchor="end">-400</text><text transform="translate(44.5,1566.2) rotate(-90)" font-size="35.6" fill="#262626" text-anchor="middle">Depth(m)</text><line x1="1340.4" y1="922.5" x2="1340.4" y2="936.0" stroke="#262626" stroke-width="1.3"/><line x1="1340.4" y1="1115.0" x2="1340.4" y2="1101.5" stroke="#262626" stroke-width="1.3"/><line x1="1437.7" y1="922.5" x2="1437.7" y2="936.0" stroke="#262626" stroke-width="1.3"/><line x1="1437.7" y1="1115.0" x2="1437.7" y2="1101.5" stroke="#262626" stroke-width="1.3"/><line x1="1536.5" y1="999.5" x2="1522.5" y2="999.5" stroke="#262626" stroke-width="1.3"/><line x1="1536.5" y1="1076.5" x2="1522.5" y2="1076.5" stroke="#262626" stroke-width="1.3"/><line x1="1535.5" y1="923.5" x2="1535.5" y2="936.5" stroke="#262626" stroke-width="2"/><line x1="1535.5" y1="1114.0" x2="1535.5" y2="1101.0" stroke="#262626" stroke-width="2"/><text x="259.3" y="224.3" font-size="38" font-weight="bold" fill="#ff0000">(1)</text><text x="884.0" y="274.0" font-size="38" font-weight="bold" fill="#ff0000">(2)</text><text x="1144.8" y="274.0" font-size="38" font-weight="bold" fill="#ff0000">(3)</text><text x="1393.5" y="274.0" font-size="38" font-weight="bold" fill="#ff0000">(4)</text><text x="1039.5" y="224.3" font-size="38" font-weight="bold" fill="#ff00ff">(A)</text><text x="1193.7" y="224.3" font-size="38" font-weight="bold" fill="#ff00ff">(B)</text><text x="821" y="50.6" font-size="36" font-weight="bold" fill="#000" text-anchor="middle">BGC-Argo 5904663</text><text x="365.2" y="92.5" font-size="32.5" font-weight="bold" fill="#000" text-anchor="middle">Offshore</text><text x="841.8" y="89.5" font-size="32.5" font-weight="bold" fill="#000" text-anchor="middle">Onshore</text><text x="1190.0" y="92.5" font-size="32.5" font-weight="bold" fill="#000" text-anchor="middle">Offshore</text><text x="1405.0" y="92.5" font-size="32.5" font-weight="bold" fill="#000" text-anchor="middle">Onshore</text><rect x="1590.5" y="102.8" width="63.5" height="192.3" fill="url(#cb0)" stroke="#262626" stroke-width="1.5"/><text x="1668" y="135.0" font-size="30.5" fill="#262626">13</text><line x1="1654" y1="123.8" x2="1651.5" y2="123.8" stroke="#262626" stroke-width="1.3"/><text x="1668" y="177.0" font-size="30.5" fill="#262626">11</text><line x1="1654" y1="165.8" x2="1651.5" y2="165.8" stroke="#262626" stroke-width="1.3"/><text x="1668" y="219.0" font-size="30.5" fill="#262626">9</text><line x1="1654" y1="207.8" x2="1651.5" y2="207.8" stroke="#262626" stroke-width="1.3"/><text x="1668" y="261.5" font-size="30.5" fill="#262626">7</text><line x1="1654" y1="250.3" x2="1651.5" y2="250.3" stroke="#262626" stroke-width="1.3"/><text x="1668" y="304.0" font-size="30.5" fill="#262626">5</text><line x1="1654" y1="292.8" x2="1651.5" y2="292.8" stroke="#262626" stroke-width="1.3"/><rect x="1590.5" y="376.6" width="63.5" height="192.3" fill="url(#cb1)" stroke="#262626" stroke-width="1.5"/><text x="1668" y="388.0" font-size="30.5" fill="#262626">34.5</text><line x1="1654" y1="376.8" x2="1651.5" y2="376.8" stroke="#262626" stroke-width="1.3"/><text x="1668" y="451.5" font-size="30.5" fill="#262626">34</text><line x1="1654" y1="440.3" x2="1651.5" y2="440.3" stroke="#262626" stroke-width="1.3"/><text x="1668" y="515.2" font-size="30.5" fill="#262626">33.5</text><line x1="1654" y1="504.0" x2="1651.5" y2="504.0" stroke="#262626" stroke-width="1.3"/><text x="1668" y="579.0" font-size="30.5" fill="#262626">33</text><rect x="1590.5" y="650.3" width="63.5" height="192.3" fill="url(#cb2)" stroke="#262626" stroke-width="1.5"/><text x="1668" y="661.4" font-size="30.5" fill="#262626">300</text><line x1="1654" y1="650.2" x2="1651.5" y2="650.2" stroke="#262626" stroke-width="1.3"/><text x="1668" y="725.0" font-size="30.5" fill="#262626">250</text><line x1="1654" y1="713.8" x2="1651.5" y2="713.8" stroke="#262626" stroke-width="1.3"/><text x="1668" y="788.0" font-size="30.5" fill="#262626">200</text><line x1="1654" y1="776.8" x2="1651.5" y2="776.8" stroke="#262626" stroke-width="1.3"/><text x="1668" y="852.0" font-size="30.5" fill="#262626">150</text><rect x="1590.5" y="924.1" width="63.5" height="192.3" fill="url(#cb3)" stroke="#262626" stroke-width="1.5"/><text x="1668" y="934.3" font-size="30.5" fill="#262626">8.1</text><text x="1668" y="981.6" font-size="30.5" fill="#262626">8</text><line x1="1654" y1="970.4" x2="1651.5" y2="970.4" stroke="#262626" stroke-width="1.3"/><text x="1668" y="1029.5" font-size="30.5" fill="#262626">7.9</text><line x1="1654" y1="1018.3" x2="1651.5" y2="1018.3" stroke="#262626" stroke-width="1.3"/><text x="1668" y="1077.6" font-size="30.5" fill="#262626">7.8</text><line x1="1654" y1="1066.4" x2="1651.5" y2="1066.4" stroke="#262626" stroke-width="1.3"/><text x="1668" y="1125.6" font-size="30.5" fill="#262626">7.7</text><rect x="1590.5" y="1197.8" width="63.5" height="192.3" fill="url(#cb4)" stroke="#262626" stroke-width="1.5"/><text x="1668" y="1208.0" font-size="30.5" fill="#262626">30</text><text x="1668" y="1271.8" font-size="30.5" fill="#262626">20</text><line x1="1654" y1="1260.6" x2="1651.5" y2="1260.6" stroke="#262626" stroke-width="1.3"/><text x="1668" y="1336.0" font-size="30.5" fill="#262626">10</text><line x1="1654" y1="1324.8" x2="1651.5" y2="1324.8" stroke="#262626" stroke-width="1.3"/><text x="1668" y="1400.5" font-size="30.5" fill="#262626">0</text><rect x="1590.5" y="1471.5" width="63.5" height="192.3" fill="url(#cb5)" stroke="#262626" stroke-width="1.5"/><text x="1668" y="1483.0" font-size="30.5" fill="#262626">&gt;30</text><line x1="1654" y1="1471.8" x2="1651.5" y2="1471.8" stroke="#262626" stroke-width="1.3"/><text x="1668" y="1558.0" font-size="30.5" fill="#262626">20</text><line x1="1654" y1="1546.8" x2="1651.5" y2="1546.8" stroke="#262626" stroke-width="1.3"/><text x="1668" y="1634.7" font-size="30.5" fill="#262626">10</text><line x1="1654" y1="1623.5" x2="1651.5" y2="1623.5" stroke="#262626" stroke-width="1.3"/><defs><clipPath id="cg"><rect x="132.0" y="1739.5" width="1400.0" height="199.0"/></clipPath></defs><line x1="156.8" y1="1739.5" x2="156.8" y2="1752.5" stroke="#262626" stroke-width="1.3"/><line x1="156.8" y1="1938.5" x2="156.8" y2="1925.5" stroke="#262626" stroke-width="1.3"/><text x="156.8" y="1978.5" font-size="33" fill="#262626" text-anchor="middle">Jan</text><line x1="254.8" y1="1739.5" x2="254.8" y2="1752.5" stroke="#262626" stroke-width="1.3"/><line x1="254.8" y1="1938.5" x2="254.8" y2="1925.5" stroke="#262626" stroke-width="1.3"/><text x="254.8" y="1978.5" font-size="33" fill="#262626" text-anchor="middle">Apr</text><line x1="352.8" y1="1739.5" x2="352.8" y2="1752.5" stroke="#262626" stroke-width="1.3"/><line x1="352.8" y1="1938.5" x2="352.8" y2="1925.5" stroke="#262626" stroke-width="1.3"/><text x="352.8" y="1978.5" font-size="33" fill="#262626" text-anchor="middle">Jul</text><line x1="451.9" y1="1739.5" x2="451.9" y2="1752.5" stroke="#262626" stroke-width="1.3"/><line x1="451.9" y1="1938.5" x2="451.9" y2="1925.5" stroke="#262626" stroke-width="1.3"/><text x="451.9" y="1978.5" font-size="33" fill="#262626" text-anchor="middle">Oct</text><line x1="550.9" y1="1739.5" x2="550.9" y2="1752.5" stroke="#262626" stroke-width="1.3"/><line x1="550.9" y1="1938.5" x2="550.9" y2="1925.5" stroke="#262626" stroke-width="1.3"/><text x="550.9" y="1978.5" font-size="33" fill="#262626" text-anchor="middle">Jan</text><line x1="647.9" y1="1739.5" x2="647.9" y2="1752.5" stroke="#262626" stroke-width="1.3"/><line x1="647.9" y1="1938.5" x2="647.9" y2="1925.5" stroke="#262626" stroke-width="1.3"/><text x="647.9" y="1978.5" font-size="33" fill="#262626" text-anchor="middle">Apr</text><line x1="745.9" y1="1739.5" x2="745.9" y2="1752.5" stroke="#262626" stroke-width="1.3"/><line x1="745.9" y1="1938.5" x2="745.9" y2="1925.5" stroke="#262626" stroke-width="1.3"/><text x="745.9" y="1978.5" font-size="33" fill="#262626" text-anchor="middle">Jul</text><line x1="844.9" y1="1739.5" x2="844.9" y2="1752.5" stroke="#262626" stroke-width="1.3"/><line x1="844.9" y1="1938.5" x2="844.9" y2="1925.5" stroke="#262626" stroke-width="1.3"/><text x="844.9" y="1978.5" font-size="33" fill="#262626" text-anchor="middle">Oct</text><line x1="944.0" y1="1739.5" x2="944.0" y2="1752.5" stroke="#262626" stroke-width="1.3"/><line x1="944.0" y1="1938.5" x2="944.0" y2="1925.5" stroke="#262626" stroke-width="1.3"/><text x="944.0" y="1978.5" font-size="33" fill="#262626" text-anchor="middle">Jan</text><line x1="1040.9" y1="1739.5" x2="1040.9" y2="1752.5" stroke="#262626" stroke-width="1.3"/><line x1="1040.9" y1="1938.5" x2="1040.9" y2="1925.5" stroke="#262626" stroke-width="1.3"/><text x="1040.9" y="1978.5" font-size="33" fill="#262626" text-anchor="middle">Apr</text><line x1="1138.9" y1="1739.5" x2="1138.9" y2="1752.5" stroke="#262626" stroke-width="1.3"/><line x1="1138.9" y1="1938.5" x2="1138.9" y2="1925.5" stroke="#262626" stroke-width="1.3"/><text x="1138.9" y="1978.5" font-size="33" fill="#262626" text-anchor="middle">Jul</text><line x1="1238.0" y1="1739.5" x2="1238.0" y2="1752.5" stroke="#262626" stroke-width="1.3"/><line x1="1238.0" y1="1938.5" x2="1238.0" y2="1925.5" stroke="#262626" stroke-width="1.3"/><text x="1238.0" y="1978.5" font-size="33" fill="#262626" text-anchor="middle">Oct</text><line x1="1337.1" y1="1739.5" x2="1337.1" y2="1752.5" stroke="#262626" stroke-width="1.3"/><line x1="1337.1" y1="1938.5" x2="1337.1" y2="1925.5" stroke="#262626" stroke-width="1.3"/><text x="1337.1" y="1978.5" font-size="33" fill="#262626" text-anchor="middle">Jan</text><line x1="1434.0" y1="1739.5" x2="1434.0" y2="1752.5" stroke="#262626" stroke-width="1.3"/><line x1="1434.0" y1="1938.5" x2="1434.0" y2="1925.5" stroke="#262626" stroke-width="1.3"/><text x="1434.0" y="1978.5" font-size="33" fill="#262626" text-anchor="middle">Apr</text><line x1="1532.0" y1="1739.5" x2="1532.0" y2="1752.5" stroke="#262626" stroke-width="1.3"/><line x1="1532.0" y1="1938.5" x2="1532.0" y2="1925.5" stroke="#262626" stroke-width="1.3"/><text x="1532.0" y="1978.5" font-size="33" fill="#262626" text-anchor="middle">Jul</text><path clip-path="url(#cg)" d="M132.1 1764.3 C133.8 1764.1 139.1 1762.1 142.2 1762.6 C145.3 1763.2 148.4 1765.5 150.7 1767.7 C153.0 1770.0 154.1 1774.5 155.8 1776.2 C157.5 1777.9 158.9 1777.5 160.9 1777.9 C162.8 1778.3 165.4 1778.3 167.6 1778.6 C169.9 1778.8 171.9 1780.5 174.4 1779.6 C176.9 1778.6 180.3 1774.7 182.9 1772.8 C185.4 1770.9 186.8 1768.7 189.6 1768.4 C192.5 1768.1 195.3 1771.2 199.8 1771.1 C204.3 1771.0 211.1 1769.1 216.7 1767.7 C222.4 1766.3 228.6 1764.6 233.7 1762.6 C238.7 1760.7 243.3 1757.3 247.2 1755.9 C251.2 1754.5 254.0 1754.4 257.4 1754.2 C260.8 1754.0 264.4 1755.1 267.5 1754.9 C270.6 1754.6 273.2 1752.0 276.0 1752.5 C278.8 1752.9 280.8 1755.0 284.5 1757.6 C288.1 1760.1 294.1 1766.3 298.0 1767.7 C302.0 1769.1 305.3 1766.0 308.2 1766.0 C311.0 1766.0 312.4 1766.6 314.9 1767.7 C317.5 1768.9 320.0 1773.3 323.4 1772.8 C326.8 1772.4 331.6 1766.5 335.3 1765.0 C338.9 1763.5 341.5 1762.9 345.4 1763.7 C349.4 1764.4 355.6 1768.7 359.0 1769.4 C362.3 1770.1 362.3 1769.3 365.7 1767.7 C369.1 1766.2 374.8 1761.4 379.3 1760.3 C383.8 1759.1 388.3 1761.0 392.8 1761.0 C397.3 1761.0 401.9 1760.8 406.4 1760.3 C410.9 1759.7 415.7 1758.3 419.9 1757.6 C424.1 1756.8 427.8 1755.8 431.8 1755.9 C435.7 1756.0 439.4 1757.5 443.6 1758.2 C447.8 1759.0 453.2 1759.5 457.2 1760.3 C461.1 1761.0 463.9 1761.7 467.3 1762.6 C470.7 1763.6 474.1 1766.3 477.5 1766.0 C480.9 1765.8 484.8 1762.1 487.6 1761.0 C490.5 1759.8 492.2 1758.4 494.4 1759.3 C496.7 1760.1 498.9 1762.1 501.2 1766.0 C503.4 1770.0 505.1 1778.3 508.0 1783.0 C510.8 1787.7 514.7 1792.7 518.1 1794.1 C521.5 1795.6 524.9 1793.9 528.3 1791.4 C531.7 1789.0 535.6 1782.4 538.4 1779.6 C541.3 1776.8 541.6 1772.5 545.2 1774.5 C548.8 1776.5 556.0 1787.2 560.2 1791.4 C564.3 1795.7 566.4 1797.8 570.3 1799.9 C574.3 1802.0 579.9 1804.0 583.9 1804.3 C587.8 1804.6 590.4 1802.6 594.0 1801.6 C597.7 1800.6 602.5 1798.2 605.9 1798.2 C609.3 1798.2 611.2 1798.8 614.3 1801.6 C617.4 1804.4 621.4 1808.4 624.5 1815.1 C627.6 1821.9 630.4 1830.9 633.0 1842.2 C635.5 1853.5 637.8 1871.9 639.7 1882.9 C641.7 1893.9 643.1 1906.6 644.8 1908.3 C646.5 1910.0 647.9 1898.7 649.9 1893.0 C651.9 1887.4 654.7 1876.1 656.7 1874.4 C658.6 1872.7 659.9 1879.8 661.8 1882.9 C663.6 1886.0 665.9 1895.3 667.8 1893.0 C669.8 1890.8 671.5 1878.9 673.6 1869.3 C675.7 1859.7 678.1 1845.1 680.4 1835.5 C682.6 1825.9 685.2 1814.9 687.1 1811.8 C689.1 1808.6 690.0 1811.2 692.2 1816.8 C694.5 1822.5 698.4 1839.4 700.7 1845.6 C703.0 1851.8 703.2 1854.6 705.8 1854.1 C708.3 1853.5 712.5 1845.6 715.9 1842.2 C719.3 1838.8 723.0 1836.0 726.1 1833.8 C729.2 1831.5 731.7 1832.9 734.6 1828.7 C737.4 1824.4 739.9 1813.3 743.0 1808.4 C746.1 1803.4 749.5 1801.3 753.2 1798.9 C756.9 1796.5 761.6 1794.1 765.0 1794.1 C768.4 1794.1 770.4 1797.6 773.5 1798.9 C776.6 1800.1 780.3 1801.6 783.7 1801.6 C787.0 1801.6 790.4 1799.7 793.8 1798.9 C797.2 1798.0 799.5 1796.8 804.0 1796.5 C808.5 1796.2 815.8 1796.3 820.9 1797.2 C826.0 1798.0 830.5 1800.3 834.5 1801.6 C838.4 1802.9 841.2 1802.4 844.6 1805.0 C848.0 1807.5 851.1 1813.7 854.8 1816.8 C858.4 1819.9 863.5 1821.1 866.6 1823.6 C869.7 1826.1 870.9 1826.7 873.4 1832.1 C875.9 1837.4 879.0 1849.0 881.9 1855.8 C884.7 1862.5 888.1 1868.8 890.3 1872.7 C892.6 1876.7 893.4 1880.0 895.4 1879.5 C897.4 1878.9 899.9 1873.0 902.2 1869.3 C904.4 1865.7 907.0 1858.0 909.0 1857.5 C910.9 1856.9 912.3 1860.0 914.0 1865.9 C915.7 1871.9 917.7 1886.5 919.1 1893.0 C920.5 1899.5 921.1 1904.9 922.5 1904.9 C923.9 1904.9 925.9 1899.5 927.6 1893.0 C929.3 1886.5 930.7 1872.0 932.7 1865.9 C934.6 1859.8 936.6 1858.1 939.4 1856.5 C942.3 1854.8 946.8 1855.3 949.6 1855.8 C952.4 1856.2 953.5 1856.3 956.4 1859.2 C959.2 1862.0 963.1 1865.9 966.5 1872.7 C969.9 1879.5 973.3 1892.5 976.7 1899.8 C980.1 1907.1 983.5 1913.1 986.8 1916.7 C990.2 1920.4 993.9 1922.7 997.0 1921.8 C1000.1 1921.0 1002.9 1914.8 1005.5 1911.6 C1008.0 1908.5 1009.7 1904.3 1012.2 1903.2 C1014.8 1902.1 1018.2 1906.0 1020.7 1904.9 C1023.2 1903.7 1025.2 1905.2 1027.5 1896.4 C1029.7 1887.7 1031.4 1863.7 1034.3 1852.4 C1037.1 1841.1 1041.0 1829.2 1044.4 1828.7 C1047.8 1828.1 1052.3 1845.6 1054.6 1849.0 C1056.8 1852.4 1055.7 1853.0 1058.0 1849.0 C1060.2 1845.1 1065.0 1830.7 1068.1 1825.3 C1071.2 1819.9 1073.8 1818.1 1076.6 1816.8 C1079.4 1815.6 1081.9 1819.8 1085.0 1817.8 C1088.2 1815.9 1091.8 1808.5 1095.2 1805.0 C1098.6 1801.4 1101.4 1798.2 1105.4 1796.5 C1109.3 1794.8 1114.4 1795.9 1118.9 1794.8 C1123.4 1793.7 1125.5 1789.2 1132.5 1789.7 C1139.4 1790.3 1154.1 1797.4 1160.5 1798.3 C1167.0 1799.1 1168.1 1795.2 1171.1 1794.8 C1174.0 1794.3 1175.2 1797.2 1178.1 1795.5 C1181.0 1793.7 1184.5 1786.4 1188.6 1784.2 C1192.7 1782.1 1198.0 1782.8 1202.7 1782.5 C1207.3 1782.2 1213.2 1781.9 1216.7 1782.5 C1220.2 1783.1 1220.8 1783.9 1223.7 1786.0 C1226.6 1788.0 1230.1 1793.3 1234.2 1794.8 C1238.3 1796.2 1243.6 1794.2 1248.3 1794.8 C1253.0 1795.4 1258.5 1796.5 1262.3 1798.3 C1266.1 1800.0 1268.2 1800.6 1271.1 1805.3 C1274.0 1810.0 1276.7 1818.2 1279.9 1826.4 C1283.1 1834.6 1286.9 1845.1 1290.4 1854.4 C1293.9 1863.8 1297.4 1873.2 1300.9 1882.5 C1304.4 1891.9 1308.8 1905.6 1311.5 1910.6 C1314.1 1915.6 1314.4 1913.5 1316.7 1912.4 C1319.1 1911.2 1322.9 1905.0 1325.5 1903.6 C1328.1 1902.1 1330.2 1901.5 1332.5 1903.6 C1334.9 1905.6 1336.6 1911.8 1339.5 1915.9 C1342.5 1920.0 1346.6 1926.4 1350.1 1928.2 C1353.6 1929.9 1355.9 1926.4 1360.6 1926.4 C1365.3 1926.4 1372.3 1927.9 1378.2 1928.2 C1384.0 1928.4 1389.9 1928.2 1395.7 1928.2 C1401.6 1928.2 1408.6 1929.6 1413.3 1928.2 C1417.9 1926.7 1420.6 1922.9 1423.8 1919.4 C1427.0 1915.9 1430.2 1908.6 1432.6 1907.1 C1434.9 1905.6 1435.8 1908.8 1437.8 1910.6 C1439.9 1912.4 1441.9 1918.2 1444.8 1917.6 C1447.8 1917.0 1451.9 1910.0 1455.4 1907.1 C1458.9 1904.2 1462.4 1903.6 1465.9 1900.1 C1469.4 1896.6 1472.9 1893.1 1476.4 1886.0 C1479.9 1879.0 1482.9 1864.4 1487.0 1858.0 C1491.1 1851.5 1496.3 1850.3 1501.0 1847.4 C1505.7 1844.5 1511.2 1841.9 1515.0 1840.4 C1518.8 1838.9 1521.0 1843.3 1523.8 1838.6 C1526.6 1834.0 1530.5 1816.7 1531.9 1812.3" fill="none" stroke="#0000ff" stroke-width="1.6"/><path clip-path="url(#cg)" d="M132.1 1909.3 C133.8 1910.0 139.1 1912.6 142.2 1913.3 C145.3 1914.1 147.3 1914.7 150.7 1914.0 C154.1 1913.3 158.9 1910.8 162.5 1909.3 C166.2 1907.8 169.9 1905.2 172.7 1904.9 C175.5 1904.5 176.9 1906.5 179.5 1907.2 C182.0 1908.0 185.1 1910.0 187.9 1909.3 C190.8 1908.6 193.3 1904.8 196.4 1903.2 C199.5 1901.6 202.1 1900.6 206.6 1899.8 C211.1 1899.0 218.4 1898.0 223.5 1898.1 C228.6 1898.2 232.5 1899.6 237.0 1900.5 C241.6 1901.3 246.1 1902.6 250.6 1903.2 C255.1 1903.7 259.6 1903.6 264.1 1903.9 C268.7 1904.1 273.7 1905.6 277.7 1904.9 C281.6 1904.2 284.2 1901.8 287.8 1899.8 C291.5 1897.8 295.7 1893.7 299.7 1893.0 C303.6 1892.3 307.3 1895.3 311.5 1895.7 C315.8 1896.2 320.6 1895.7 325.1 1895.7 C329.6 1895.7 334.1 1896.1 338.6 1895.7 C343.2 1895.4 347.7 1894.4 352.2 1893.7 C356.7 1893.0 361.2 1891.4 365.7 1891.3 C370.2 1891.2 374.8 1892.5 379.3 1893.0 C383.8 1893.6 388.3 1894.4 392.8 1894.7 C397.3 1895.0 401.9 1894.2 406.4 1894.7 C410.9 1895.3 416.0 1896.8 419.9 1898.1 C423.9 1899.4 426.7 1902.2 430.1 1902.5 C433.5 1902.8 436.8 1901.1 440.2 1899.8 C443.6 1898.5 445.9 1895.8 450.4 1894.7 C454.9 1893.6 462.2 1893.8 467.3 1893.0 C472.4 1892.3 476.4 1891.2 480.9 1890.3 C485.4 1889.5 490.5 1889.8 494.4 1887.9 C498.4 1886.1 501.2 1882.6 504.6 1879.5 C508.0 1876.4 511.6 1871.3 514.7 1869.3 C517.8 1867.3 520.1 1867.1 523.2 1867.6 C526.3 1868.2 530.0 1871.0 533.4 1872.7 C536.7 1874.4 540.4 1877.8 543.5 1877.8 C546.6 1877.8 549.2 1875.5 552.0 1872.7 C554.8 1869.9 557.1 1864.2 560.2 1860.9 C563.2 1857.5 566.4 1854.4 570.3 1852.4 C574.3 1850.4 579.9 1849.2 583.9 1849.0 C587.8 1848.8 590.4 1851.4 594.0 1851.4 C597.7 1851.4 601.9 1850.2 605.9 1849.0 C609.8 1847.8 613.8 1845.6 617.7 1843.9 C621.7 1842.2 625.6 1842.8 629.6 1838.8 C633.5 1834.9 637.8 1821.9 641.4 1820.2 C645.1 1818.5 647.6 1828.4 651.6 1828.7 C655.5 1829.0 661.2 1821.6 665.1 1821.9 C669.1 1822.2 671.9 1826.7 675.3 1830.4 C678.7 1834.0 682.1 1844.2 685.5 1843.9 C688.8 1843.6 692.2 1834.0 695.6 1828.7 C699.0 1823.3 701.8 1815.1 705.8 1811.8 C709.7 1808.4 714.8 1812.0 719.3 1808.4 C723.8 1804.7 728.9 1790.9 732.9 1789.7 C736.8 1788.6 739.6 1796.8 743.0 1801.6 C746.4 1806.4 749.0 1811.3 753.2 1818.5 C757.4 1825.7 763.9 1841.8 768.4 1844.9 C772.9 1848.0 776.6 1838.7 780.3 1837.1 C783.9 1835.6 787.0 1838.0 790.4 1835.5 C793.8 1832.9 797.2 1826.4 800.6 1821.9 C804.0 1817.4 807.4 1808.4 810.8 1808.4 C814.1 1808.4 817.0 1817.4 820.9 1821.9 C824.9 1826.4 830.5 1834.3 834.5 1835.5 C838.4 1836.6 841.2 1832.1 844.6 1828.7 C848.0 1825.3 852.0 1815.7 854.8 1815.1 C857.6 1814.6 859.3 1821.3 861.5 1825.3 C863.8 1829.2 866.1 1838.8 868.3 1838.8 C870.6 1838.8 872.3 1830.4 875.1 1825.3 C877.9 1820.2 881.9 1812.6 885.3 1808.4 C888.6 1804.1 892.3 1797.6 895.4 1799.9 C898.5 1802.2 901.1 1814.0 903.9 1821.9 C906.7 1829.8 909.2 1844.8 912.3 1847.3 C915.4 1849.8 919.1 1839.4 922.5 1837.1 C925.9 1834.9 929.3 1834.6 932.7 1833.8 C936.0 1832.9 939.4 1833.5 942.8 1832.1 C946.2 1830.7 949.0 1827.3 953.0 1825.3 C956.9 1823.3 961.4 1821.9 966.5 1820.2 C971.6 1818.5 978.9 1818.2 983.5 1815.1 C988.0 1812.0 989.9 1809.2 993.6 1801.6 C997.3 1794.0 1001.5 1773.7 1005.5 1769.4 C1009.4 1765.2 1013.7 1770.8 1017.3 1776.2 C1021.0 1781.6 1024.1 1792.0 1027.5 1801.6 C1030.9 1811.2 1034.5 1828.1 1037.6 1833.8 C1040.7 1839.4 1043.3 1835.7 1046.1 1835.5 C1048.9 1835.2 1051.5 1831.5 1054.6 1832.1 C1057.7 1832.6 1060.8 1837.1 1064.7 1838.8 C1068.7 1840.5 1073.8 1841.1 1078.3 1842.2 C1082.8 1843.4 1087.3 1843.8 1091.8 1845.6 C1096.3 1847.4 1100.9 1851.9 1105.4 1853.1 C1109.9 1854.2 1114.4 1851.4 1118.9 1852.4 C1123.4 1853.4 1127.3 1857.9 1132.5 1859.2 C1137.6 1860.4 1144.2 1859.9 1150.0 1859.7 C1155.8 1859.5 1161.7 1858.0 1167.6 1858.0 C1173.4 1858.0 1179.3 1857.7 1185.1 1859.7 C1191.0 1861.8 1196.8 1868.5 1202.7 1870.2 C1208.5 1872.0 1214.4 1870.6 1220.2 1870.2 C1226.1 1869.8 1231.9 1868.4 1237.8 1867.8 C1243.6 1867.2 1249.7 1867.2 1255.3 1866.7 C1260.9 1866.3 1267.0 1867.6 1271.1 1865.0 C1275.2 1862.3 1276.7 1855.9 1279.9 1850.9 C1283.1 1846.0 1286.9 1838.4 1290.4 1835.1 C1293.9 1831.9 1297.4 1834.0 1300.9 1831.6 C1304.4 1829.3 1307.4 1825.4 1311.5 1821.1 C1315.6 1816.8 1320.2 1808.8 1325.5 1806.0 C1330.8 1803.3 1337.2 1806.2 1343.1 1804.6 C1348.9 1803.0 1355.3 1797.6 1360.6 1796.5 C1365.9 1795.5 1371.1 1799.7 1374.6 1798.3 C1378.2 1796.8 1379.3 1791.8 1381.7 1787.8 C1384.0 1783.7 1386.3 1775.2 1388.7 1773.7 C1391.0 1772.2 1392.2 1776.6 1395.7 1779.0 C1399.2 1781.3 1403.9 1785.8 1409.7 1787.8 C1415.6 1789.7 1425.0 1789.9 1430.8 1790.6 C1436.7 1791.3 1439.0 1791.3 1444.8 1792.0 C1450.7 1792.7 1460.1 1792.8 1465.9 1794.8 C1471.8 1796.7 1475.8 1799.5 1479.9 1803.5 C1484.0 1807.6 1487.0 1816.4 1490.5 1819.3 C1494.0 1822.3 1496.9 1820.2 1501.0 1821.1 C1505.1 1822.0 1509.9 1825.5 1515.0 1824.6 C1520.2 1823.7 1529.1 1817.3 1531.9 1815.8" fill="none" stroke="#ff0000" stroke-width="1.6"/><path clip-path="url(#cg)" d="M132.1 1921.8 C133.8 1922.2 139.1 1924.0 142.2 1924.2 C145.3 1924.3 147.3 1924.1 150.7 1922.8 C154.1 1921.6 158.3 1918.2 162.5 1916.7 C166.8 1915.3 172.1 1914.0 176.1 1914.0 C180.0 1914.0 182.9 1917.0 186.3 1916.7 C189.6 1916.5 192.5 1913.5 196.4 1912.7 C200.4 1911.8 205.4 1911.8 210.0 1911.6 C214.5 1911.5 219.0 1911.1 223.5 1911.6 C228.0 1912.2 232.5 1914.5 237.0 1915.0 C241.6 1915.6 245.5 1914.8 250.6 1915.0 C255.7 1915.3 263.0 1916.4 267.5 1916.7 C272.0 1917.0 274.3 1917.3 277.7 1916.7 C281.1 1916.2 283.9 1914.2 287.8 1913.3 C291.8 1912.5 296.9 1911.6 301.4 1911.6 C305.9 1911.6 310.4 1912.9 314.9 1913.3 C319.4 1913.7 324.0 1914.1 328.5 1914.0 C333.0 1913.9 337.5 1913.3 342.0 1912.7 C346.5 1912.0 351.6 1910.7 355.6 1910.0 C359.5 1909.2 362.3 1907.6 365.7 1908.3 C369.1 1908.9 371.9 1912.7 375.9 1914.0 C379.8 1915.3 384.4 1915.7 389.4 1916.1 C394.5 1916.4 400.7 1916.4 406.4 1916.1 C412.0 1915.7 417.7 1913.9 423.3 1914.0 C428.9 1914.1 435.2 1916.3 440.2 1916.7 C445.3 1917.2 449.3 1917.0 453.8 1916.7 C458.3 1916.4 462.8 1915.9 467.3 1915.0 C471.8 1914.2 476.4 1912.2 480.9 1911.6 C485.4 1911.1 490.5 1912.4 494.4 1911.6 C498.4 1910.9 501.7 1908.8 504.6 1907.2 C507.4 1905.7 509.1 1903.6 511.3 1902.5 C513.6 1901.4 515.3 1900.4 518.1 1900.5 C520.9 1900.6 524.3 1902.8 528.3 1903.2 C532.2 1903.5 537.9 1903.6 541.8 1902.5 C545.8 1901.4 548.4 1898.3 552.0 1896.4 C555.6 1894.5 559.4 1892.7 563.5 1891.3 C567.7 1889.9 572.0 1888.8 577.1 1887.9 C582.2 1887.1 588.9 1886.8 594.0 1886.3 C599.1 1885.7 603.1 1884.8 607.6 1884.6 C612.1 1884.3 616.9 1885.1 621.1 1884.6 C625.3 1884.0 629.3 1883.4 633.0 1881.2 C636.6 1878.9 640.0 1872.1 643.1 1871.0 C646.2 1869.9 647.9 1873.8 651.6 1874.4 C655.3 1875.0 661.2 1873.0 665.1 1874.4 C669.1 1875.8 671.9 1880.9 675.3 1882.9 C678.7 1884.8 681.5 1887.4 685.5 1886.3 C689.4 1885.1 694.5 1877.8 699.0 1876.1 C703.5 1874.4 708.0 1877.8 712.5 1876.1 C717.1 1874.4 722.4 1869.0 726.1 1865.9 C729.8 1862.8 731.7 1855.2 734.6 1857.5 C737.4 1859.7 739.9 1873.0 743.0 1879.5 C746.1 1886.0 749.2 1894.7 753.2 1896.4 C757.1 1898.1 761.6 1888.5 766.7 1889.6 C771.8 1890.8 778.6 1901.8 783.7 1903.2 C788.7 1904.6 792.7 1897.3 797.2 1898.1 C801.7 1899.0 806.8 1908.0 810.8 1908.3 C814.7 1908.5 817.0 1900.6 820.9 1899.8 C824.9 1899.0 830.5 1903.2 834.5 1903.2 C838.4 1903.2 841.2 1902.1 844.6 1899.8 C848.0 1897.5 850.8 1890.5 854.8 1889.6 C858.7 1888.8 864.4 1898.1 868.3 1894.7 C872.3 1891.3 874.5 1875.2 878.5 1869.3 C882.4 1863.4 888.4 1861.7 892.0 1859.2 C895.7 1856.6 897.7 1851.8 900.5 1854.1 C903.3 1856.3 905.9 1867.6 909.0 1872.7 C912.1 1877.8 915.7 1883.4 919.1 1884.6 C922.5 1885.7 925.3 1880.9 929.3 1879.5 C933.2 1878.1 938.3 1877.2 942.8 1876.1 C947.3 1875.0 951.9 1873.8 956.4 1872.7 C960.9 1871.6 965.4 1870.2 969.9 1869.3 C974.4 1868.5 979.5 1871.6 983.5 1867.6 C987.4 1863.7 989.9 1852.1 993.6 1845.6 C997.3 1839.1 1001.5 1830.9 1005.5 1828.7 C1009.4 1826.4 1013.7 1827.6 1017.3 1832.1 C1021.0 1836.6 1024.1 1847.0 1027.5 1855.8 C1030.9 1864.5 1033.7 1880.3 1037.6 1884.6 C1041.6 1888.8 1047.2 1881.5 1051.2 1881.2 C1055.1 1880.9 1057.4 1881.5 1061.3 1882.9 C1065.3 1884.3 1069.8 1887.9 1074.9 1889.6 C1080.0 1891.3 1086.2 1891.6 1091.8 1893.0 C1097.5 1894.4 1103.1 1896.7 1108.8 1898.1 C1114.4 1899.5 1118.8 1900.0 1125.7 1901.5 C1132.6 1903.0 1143.0 1905.9 1150.0 1907.1 C1157.0 1908.3 1161.1 1907.4 1167.6 1908.8 C1174.0 1910.3 1182.8 1915.6 1188.6 1915.9 C1194.5 1916.2 1197.4 1912.4 1202.7 1910.6 C1207.9 1908.8 1213.2 1905.9 1220.2 1905.3 C1227.2 1904.8 1238.9 1907.4 1244.8 1907.1 C1250.6 1906.8 1250.9 1905.6 1255.3 1903.6 C1259.7 1901.5 1265.8 1897.1 1271.1 1894.8 C1276.4 1892.5 1281.9 1891.6 1286.9 1889.5 C1291.9 1887.5 1296.3 1886.3 1300.9 1882.5 C1305.6 1878.7 1310.9 1869.7 1315.0 1866.7 C1319.1 1863.8 1322.0 1865.6 1325.5 1865.0 C1329.0 1864.4 1332.5 1864.1 1336.0 1863.2 C1339.5 1862.3 1343.1 1861.2 1346.6 1859.7 C1350.1 1858.2 1353.0 1855.0 1357.1 1854.4 C1361.2 1853.9 1366.5 1857.4 1371.1 1856.2 C1375.8 1855.0 1381.7 1849.6 1385.2 1847.4 C1388.7 1845.3 1389.3 1842.6 1392.2 1843.2 C1395.1 1843.8 1396.3 1848.8 1402.7 1850.9 C1409.2 1853.1 1422.0 1855.6 1430.8 1856.2 C1439.6 1856.8 1447.2 1853.0 1455.4 1854.4 C1463.6 1855.9 1472.3 1861.5 1479.9 1865.0 C1487.5 1868.5 1494.6 1872.9 1501.0 1875.5 C1507.4 1878.1 1513.4 1879.6 1518.6 1880.8 C1523.7 1881.9 1529.7 1882.2 1531.9 1882.5" fill="none" stroke="#ff0000" stroke-width="1.6" stroke-dasharray="6 4"/><polyline clip-path="url(#cg)" points="132.1,1921.8 156.8,1925.2 190.7,1930.3 221.8,1929.6 255.0,1927.6" fill="none" stroke="#77ac30" stroke-width="1.6"/><circle cx="156.8" cy="1925.2" r="9" fill="#77ac30"/><circle cx="190.7" cy="1930.3" r="9" fill="#77ac30"/><circle cx="221.8" cy="1929.6" r="9" fill="#77ac30"/><circle cx="255.0" cy="1927.6" r="9" fill="#77ac30"/><polyline clip-path="url(#cg)" points="386.0,1925.2 419.2,1926.2 452.4,1928.9 484.9,1928.9 517.1,1912.7 550.3,1915.7 583.5,1924.2 614.3,1840.5 647.5,1797.2" fill="none" stroke="#77ac30" stroke-width="1.6"/><circle cx="386.0" cy="1925.2" r="9" fill="#77ac30"/><circle cx="419.2" cy="1926.2" r="9" fill="#77ac30"/><circle cx="452.4" cy="1928.9" r="9" fill="#77ac30"/><circle cx="484.9" cy="1928.9" r="9" fill="#77ac30"/><circle cx="517.1" cy="1912.7" r="9" fill="#77ac30"/><circle cx="550.3" cy="1915.7" r="9" fill="#77ac30"/><circle cx="583.5" cy="1924.2" r="9" fill="#77ac30"/><circle cx="614.3" cy="1840.5" r="9" fill="#77ac30"/><circle cx="647.5" cy="1797.2" r="9" fill="#77ac30"/><polyline clip-path="url(#cg)" points="779.3,1909.3 812.4,1870.3 844.6,1908.3 877.8,1813.4 910.0,1872.7 942.8,1849.0 976.0,1842.9 1007.2,1877.8" fill="none" stroke="#77ac30" stroke-width="1.6"/><circle cx="779.3" cy="1909.3" r="9" fill="#77ac30"/><circle cx="812.4" cy="1870.3" r="9" fill="#77ac30"/><circle cx="844.6" cy="1908.3" r="9" fill="#77ac30"/><circle cx="877.8" cy="1813.4" r="9" fill="#77ac30"/><circle cx="910.0" cy="1872.7" r="9" fill="#77ac30"/><circle cx="942.8" cy="1849.0" r="9" fill="#77ac30"/><circle cx="976.0" cy="1842.9" r="9" fill="#77ac30"/><circle cx="1007.2" cy="1877.8" r="9" fill="#77ac30"/><circle cx="1073.2" cy="1889.0" r="9" fill="#77ac30"/><polyline clip-path="url(#cg)" points="1171.1,1914.8 1204.4,1918.3 1237.8,1887.1 1270.4,1891.3 1302.7,1888.5 1336.0,1880.8 1369.4,1876.2 1399.2,1833.4 1432.6,1800.0 1464.8,1881.5" fill="none" stroke="#77ac30" stroke-width="1.6"/><circle cx="1171.1" cy="1914.8" r="9" fill="#77ac30"/><circle cx="1204.4" cy="1918.3" r="9" fill="#77ac30"/><circle cx="1237.8" cy="1887.1" r="9" fill="#77ac30"/><circle cx="1270.4" cy="1891.3" r="9" fill="#77ac30"/><circle cx="1302.7" cy="1888.5" r="9" fill="#77ac30"/><circle cx="1336.0" cy="1880.8" r="9" fill="#77ac30"/><circle cx="1369.4" cy="1876.2" r="9" fill="#77ac30"/><circle cx="1399.2" cy="1833.4" r="9" fill="#77ac30"/><circle cx="1432.6" cy="1800.0" r="9" fill="#77ac30"/><circle cx="1464.8" cy="1881.5" r="9" fill="#77ac30"/><line x1="156.8" y1="1739.5" x2="156.8" y2="1938.5" stroke="#e3e3e3" stroke-width="4"/><line x1="550.6" y1="1739.5" x2="550.6" y2="1938.5" stroke="#e3e3e3" stroke-width="4"/><line x1="943.0" y1="1739.5" x2="943.0" y2="1938.5" stroke="#e3e3e3" stroke-width="4"/><line x1="1335.4" y1="1739.5" x2="1335.4" y2="1938.5" stroke="#e3e3e3" stroke-width="4"/><line x1="583.8" y1="1739.5" x2="583.8" y2="1938.5" stroke="#000" stroke-width="4"/><line x1="1105.2" y1="1739.5" x2="1105.2" y2="1938.5" stroke="#000" stroke-width="4"/><line x1="1270.1" y1="1739.5" x2="1270.1" y2="1938.5" stroke="#000" stroke-width="4"/><line x1="254.9" y1="1938.5" x2="254.9" y2="1739.5" stroke="#ff0000" stroke-width="5" stroke-dasharray="19.2 18.4"/><line x1="877.7" y1="1938.5" x2="877.7" y2="1739.5" stroke="#ff0000" stroke-width="5" stroke-dasharray="19.2 18.4"/><line x1="1137.3" y1="1938.5" x2="1137.3" y2="1739.5" stroke="#ff0000" stroke-width="5" stroke-dasharray="19.2 18.4"/><line x1="1383.6" y1="1938.5" x2="1383.6" y2="1739.5" stroke="#ff0000" stroke-width="5" stroke-dasharray="19.2 18.4"/><line x1="1032.1" y1="1938.5" x2="1032.1" y2="1739.5" stroke="#ff00ff" stroke-width="5" stroke-dasharray="19.2 18.4"/><line x1="1186.9" y1="1938.5" x2="1186.9" y2="1739.5" stroke="#ff00ff" stroke-width="5" stroke-dasharray="19.2 18.4"/><line x1="132.0" y1="1739.5" x2="1532.0" y2="1739.5" stroke="#262626" stroke-width="1.3"/><line x1="132.0" y1="1938.5" x2="1532.0" y2="1938.5" stroke="#262626" stroke-width="1.3"/><line x1="132.0" y1="1739.5" x2="132.0" y2="1938.5" stroke="#77ac30" stroke-width="1.3"/><line x1="1532.0" y1="1739.5" x2="1532.0" y2="1938.5" stroke="#ff0000" stroke-width="1.3"/><line x1="132.0" y1="1938.5" x2="146.0" y2="1938.5" stroke="#77ac30" stroke-width="1.3"/><text x="123.0" y="1950.5" font-size="33" fill="#77ac30" text-anchor="end">0</text><line x1="132.0" y1="1839.0" x2="146.0" y2="1839.0" stroke="#77ac30" stroke-width="1.3"/><text x="123.0" y="1851.0" font-size="33" fill="#77ac30" text-anchor="end">1</text><line x1="132.0" y1="1739.5" x2="146.0" y2="1739.5" stroke="#77ac30" stroke-width="1.3"/><text x="123.0" y="1751.5" font-size="33" fill="#77ac30" text-anchor="end">2</text><line x1="1532.0" y1="1938.5" x2="1518.0" y2="1938.5" stroke="#ff0000" stroke-width="1.3"/><text x="1540.0" y="1948.2" font-size="26" fill="#ff0000">0</text><line x1="1532.0" y1="1839.0" x2="1518.0" y2="1839.0" stroke="#ff0000" stroke-width="1.3"/><text x="1540.0" y="1848.7" font-size="26" fill="#ff0000">500</text><line x1="1532.0" y1="1739.5" x2="1518.0" y2="1739.5" stroke="#ff0000" stroke-width="1.3"/><text x="1540.0" y="1749.2" font-size="26" fill="#ff0000">1000</text><line x1="1661.8" y1="1739.5" x2="1661.8" y2="1938.5" stroke="#0000ff" stroke-width="1.5"/><line x1="1661.8" y1="1938.5" x2="1648.8" y2="1938.5" stroke="#0000ff" stroke-width="1.5"/><text x="1666.8" y="1948.5" font-size="27" fill="#0000ff">0</text><line x1="1661.8" y1="1839.0" x2="1648.8" y2="1839.0" stroke="#0000ff" stroke-width="1.5"/><text x="1666.8" y="1849.0" font-size="27" fill="#0000ff">10</text><line x1="1661.8" y1="1739.5" x2="1648.8" y2="1739.5" stroke="#0000ff" stroke-width="1.5"/><text x="1666.8" y="1749.5" font-size="27" fill="#0000ff">20</text><text transform="translate(93,1839.7) rotate(-90)" font-size="32.7" fill="#77ac30" text-anchor="middle">Chla-a [mg m<tspan font-size="22" dy="-14">-3</tspan><tspan dy="14">]</tspan></text><text transform="translate(1638,1839.2) rotate(-90)" font-size="28.8" fill="#ff0000" text-anchor="middle">PEA [J m<tspan font-size="20" dy="-12">-3</tspan><tspan dy="12">]</tspan></text><text transform="translate(1731.4,1825.2) rotate(-90)" font-size="29.4" fill="#0000ff" text-anchor="middle">Nitrate [µmol kg<tspan font-size="20" dy="-12">-1</tspan><tspan dy="12">]</tspan></text><text x="166.5" y="1818" font-size="34" font-weight="bold" fill="#000">g)</text><rect x="148.3" y="2002.3" width="369.7" height="6.5" fill="#000"/><text x="316.4" y="2050.0" font-size="38" fill="#000" text-anchor="middle">2016</text><rect x="564.8" y="2002.3" width="374.6" height="6.5" fill="#000"/><text x="733.4" y="2047.0" font-size="38" fill="#000" text-anchor="middle">2017</text><rect x="963.0" y="2002.3" width="367.7" height="6.5" fill="#000"/><text x="1117.4" y="2051.0" font-size="38" fill="#000" text-anchor="middle">2018</text><rect x="1359.0" y="2002.3" width="185.0" height="6.5" fill="#000"/><text x="1430.0" y="2047.0" font-size="38" fill="#000" text-anchor="middle">2019</text>
</svg></body></html>
